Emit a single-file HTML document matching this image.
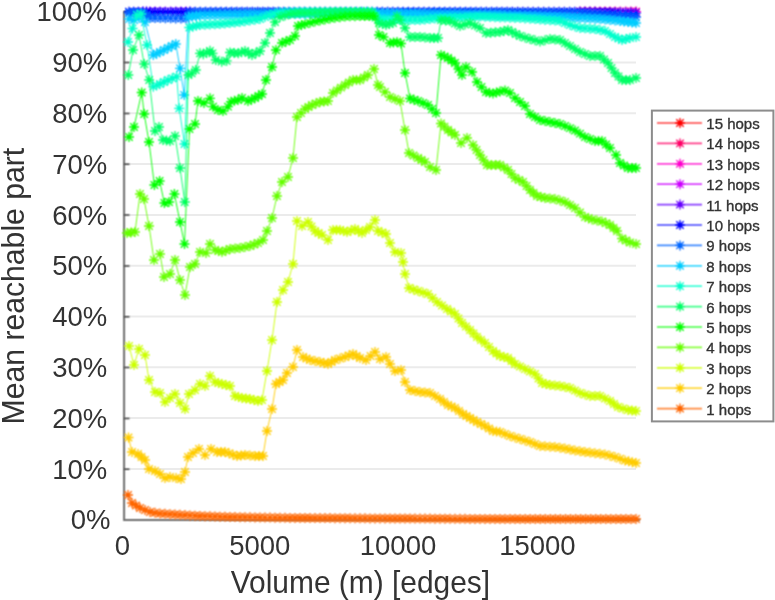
<!DOCTYPE html>
<html><head><meta charset="utf-8"><style>
html,body{margin:0;padding:0;background:#fff;overflow:hidden;}
svg{display:block;font-family:"Liberation Sans",Arial,sans-serif;}
</style></head><body>
<svg width="775" height="600" viewBox="0 0 775 600">
<rect width="775" height="600" fill="#fff"/>
<defs><filter id="bl" filterUnits="userSpaceOnUse" x="0" y="0" width="775" height="600"><feConvolveMatrix order="3" kernelMatrix="1 2 1 2 4 2 1 2 1" divisor="16" edgeMode="none"/></filter></defs>
<line x1="124" y1="11.7" x2="636" y2="11.7" stroke="#ebebeb" stroke-width="2"/>
<line x1="124" y1="62.5" x2="636" y2="62.5" stroke="#ebebeb" stroke-width="2"/>
<line x1="124" y1="113.3" x2="636" y2="113.3" stroke="#ebebeb" stroke-width="2"/>
<line x1="124" y1="164.1" x2="636" y2="164.1" stroke="#ebebeb" stroke-width="2"/>
<line x1="124" y1="214.9" x2="636" y2="214.9" stroke="#ebebeb" stroke-width="2"/>
<line x1="124" y1="265.7" x2="636" y2="265.7" stroke="#ebebeb" stroke-width="2"/>
<line x1="124" y1="316.5" x2="636" y2="316.5" stroke="#ebebeb" stroke-width="2"/>
<line x1="124" y1="367.3" x2="636" y2="367.3" stroke="#ebebeb" stroke-width="2"/>
<line x1="124" y1="418.1" x2="636" y2="418.1" stroke="#ebebeb" stroke-width="2"/>
<line x1="124" y1="468.9" x2="636" y2="468.9" stroke="#ebebeb" stroke-width="2"/>
<path d="M124.1 11V519.9H640" fill="none" stroke="#6e6e6e" stroke-width="2" filter="url(#bl)"/>
<path d="M124 11.8h5.5M124 62.6h5.5M124 113.4h5.5M124 164.3h5.5M124 215.1h5.5M124 265.9h5.5M124 316.7h5.5M124 367.5h5.5M124 418.4h5.5M124 469.2h5.5" stroke="#444" stroke-width="1.5" filter="url(#bl)"/>
<g filter="url(#bl)">
<path d="" stroke="#ff0000" stroke-width="1.3" fill="none"/>
<path d="" stroke="#ff0000" stroke-width="3.4" stroke-linecap="round" fill="none"/>
<polyline points="580,11.7 610,11.7 636,11.7" fill="none" stroke="#ff0066" stroke-width="0.9"/>
<path d="M575.0 11.7h10.0M580.0 6.7v10.0M576.3 8.0l7.4 7.4M576.3 15.4l7.4 -7.4M605.0 11.7h10.0M610.0 6.7v10.0M606.3 8.0l7.4 7.4M606.3 15.4l7.4 -7.4M631.0 11.7h10.0M636.0 6.7v10.0M632.3 8.0l7.4 7.4M632.3 15.4l7.4 -7.4M580.0 11.7h10.0M585.0 6.7v10.0M581.3 8.0l7.4 7.4M581.3 15.4l7.4 -7.4M585.0 11.7h10.0M590.0 6.7v10.0M586.3 8.0l7.4 7.4M586.3 15.4l7.4 -7.4M590.0 11.7h10.0M595.0 6.7v10.0M591.3 8.0l7.4 7.4M591.3 15.4l7.4 -7.4M595.0 11.7h10.0M600.0 6.7v10.0M596.3 8.0l7.4 7.4M596.3 15.4l7.4 -7.4M600.0 11.7h10.0M605.0 6.7v10.0M601.3 8.0l7.4 7.4M601.3 15.4l7.4 -7.4M610.2 11.7h10.0M615.2 6.7v10.0M611.5 8.0l7.4 7.4M611.5 15.4l7.4 -7.4M615.4 11.7h10.0M620.4 6.7v10.0M616.7 8.0l7.4 7.4M616.7 15.4l7.4 -7.4M620.6 11.7h10.0M625.6 6.7v10.0M621.9 8.0l7.4 7.4M621.9 15.4l7.4 -7.4M625.8 11.7h10.0M630.8 6.7v10.0M627.1 8.0l7.4 7.4M627.1 15.4l7.4 -7.4" stroke="#ff0066" stroke-width="1.3" fill="none"/>
<path d="M580.0 11.7h0.01M610.0 11.7h0.01M636.0 11.7h0.01M585.0 11.7h0.01M590.0 11.7h0.01M595.0 11.7h0.01M600.0 11.7h0.01M605.0 11.7h0.01M615.2 11.7h0.01M620.4 11.7h0.01M625.6 11.7h0.01M630.8 11.7h0.01" stroke="#ff0066" stroke-width="3.4" stroke-linecap="round" fill="none"/>
<polyline points="580,11.7 610,11.7 636,11.7" fill="none" stroke="#ff00cc" stroke-width="0.9"/>
<path d="M575.0 11.7h10.0M580.0 6.7v10.0M576.3 8.0l7.4 7.4M576.3 15.4l7.4 -7.4M605.0 11.7h10.0M610.0 6.7v10.0M606.3 8.0l7.4 7.4M606.3 15.4l7.4 -7.4M631.0 11.7h10.0M636.0 6.7v10.0M632.3 8.0l7.4 7.4M632.3 15.4l7.4 -7.4M580.0 11.7h10.0M585.0 6.7v10.0M581.3 8.0l7.4 7.4M581.3 15.4l7.4 -7.4M585.0 11.7h10.0M590.0 6.7v10.0M586.3 8.0l7.4 7.4M586.3 15.4l7.4 -7.4M590.0 11.7h10.0M595.0 6.7v10.0M591.3 8.0l7.4 7.4M591.3 15.4l7.4 -7.4M595.0 11.7h10.0M600.0 6.7v10.0M596.3 8.0l7.4 7.4M596.3 15.4l7.4 -7.4M600.0 11.7h10.0M605.0 6.7v10.0M601.3 8.0l7.4 7.4M601.3 15.4l7.4 -7.4M610.2 11.7h10.0M615.2 6.7v10.0M611.5 8.0l7.4 7.4M611.5 15.4l7.4 -7.4M615.4 11.7h10.0M620.4 6.7v10.0M616.7 8.0l7.4 7.4M616.7 15.4l7.4 -7.4M620.6 11.7h10.0M625.6 6.7v10.0M621.9 8.0l7.4 7.4M621.9 15.4l7.4 -7.4M625.8 11.7h10.0M630.8 6.7v10.0M627.1 8.0l7.4 7.4M627.1 15.4l7.4 -7.4" stroke="#ff00cc" stroke-width="1.3" fill="none"/>
<path d="M580.0 11.7h0.01M610.0 11.7h0.01M636.0 11.7h0.01M585.0 11.7h0.01M590.0 11.7h0.01M595.0 11.7h0.01M600.0 11.7h0.01M605.0 11.7h0.01M615.2 11.7h0.01M620.4 11.7h0.01M625.6 11.7h0.01M630.8 11.7h0.01" stroke="#ff00cc" stroke-width="3.4" stroke-linecap="round" fill="none"/>
<polyline points="143,11.7 150,11.7 186,11.7 190,11.7" fill="none" stroke="#cc00ff" stroke-width="0.9"/>
<path d="M138.0 11.7h10.0M143.0 6.7v10.0M139.3 8.0l7.4 7.4M139.3 15.4l7.4 -7.4M145.0 11.7h10.0M150.0 6.7v10.0M146.3 8.0l7.4 7.4M146.3 15.4l7.4 -7.4M181.0 11.7h10.0M186.0 6.7v10.0M182.3 8.0l7.4 7.4M182.3 15.4l7.4 -7.4M185.0 11.7h10.0M190.0 6.7v10.0M186.3 8.0l7.4 7.4M186.3 15.4l7.4 -7.4M141.5 11.7h10.0M146.5 6.7v10.0M142.8 8.0l7.4 7.4M142.8 15.4l7.4 -7.4M150.1 11.7h10.0M155.1 6.7v10.0M151.4 8.0l7.4 7.4M151.4 15.4l7.4 -7.4M155.3 11.7h10.0M160.3 6.7v10.0M156.6 8.0l7.4 7.4M156.6 15.4l7.4 -7.4M160.4 11.7h10.0M165.4 6.7v10.0M161.7 8.0l7.4 7.4M161.7 15.4l7.4 -7.4M165.6 11.7h10.0M170.6 6.7v10.0M166.9 8.0l7.4 7.4M166.9 15.4l7.4 -7.4M170.7 11.7h10.0M175.7 6.7v10.0M172.0 8.0l7.4 7.4M172.0 15.4l7.4 -7.4M175.9 11.7h10.0M180.9 6.7v10.0M177.2 8.0l7.4 7.4M177.2 15.4l7.4 -7.4" stroke="#cc00ff" stroke-width="1.3" fill="none"/>
<path d="M143.0 11.7h0.01M150.0 11.7h0.01M186.0 11.7h0.01M190.0 11.7h0.01M146.5 11.7h0.01M155.1 11.7h0.01M160.3 11.7h0.01M165.4 11.7h0.01M170.6 11.7h0.01M175.7 11.7h0.01M180.9 11.7h0.01" stroke="#cc00ff" stroke-width="3.4" stroke-linecap="round" fill="none"/>
<polyline points="143,11.7 150,11.7 186,11.7 190,11.7" fill="none" stroke="#6600ff" stroke-width="0.9"/>
<path d="M138.0 11.7h10.0M143.0 6.7v10.0M139.3 8.0l7.4 7.4M139.3 15.4l7.4 -7.4M145.0 11.7h10.0M150.0 6.7v10.0M146.3 8.0l7.4 7.4M146.3 15.4l7.4 -7.4M181.0 11.7h10.0M186.0 6.7v10.0M182.3 8.0l7.4 7.4M182.3 15.4l7.4 -7.4M185.0 11.7h10.0M190.0 6.7v10.0M186.3 8.0l7.4 7.4M186.3 15.4l7.4 -7.4M141.5 11.7h10.0M146.5 6.7v10.0M142.8 8.0l7.4 7.4M142.8 15.4l7.4 -7.4M150.1 11.7h10.0M155.1 6.7v10.0M151.4 8.0l7.4 7.4M151.4 15.4l7.4 -7.4M155.3 11.7h10.0M160.3 6.7v10.0M156.6 8.0l7.4 7.4M156.6 15.4l7.4 -7.4M160.4 11.7h10.0M165.4 6.7v10.0M161.7 8.0l7.4 7.4M161.7 15.4l7.4 -7.4M165.6 11.7h10.0M170.6 6.7v10.0M166.9 8.0l7.4 7.4M166.9 15.4l7.4 -7.4M170.7 11.7h10.0M175.7 6.7v10.0M172.0 8.0l7.4 7.4M172.0 15.4l7.4 -7.4M175.9 11.7h10.0M180.9 6.7v10.0M177.2 8.0l7.4 7.4M177.2 15.4l7.4 -7.4" stroke="#6600ff" stroke-width="1.3" fill="none"/>
<path d="M143.0 11.7h0.01M150.0 11.7h0.01M186.0 11.7h0.01M190.0 11.7h0.01M146.5 11.7h0.01M155.1 11.7h0.01M160.3 11.7h0.01M165.4 11.7h0.01M170.6 11.7h0.01M175.7 11.7h0.01M180.9 11.7h0.01" stroke="#6600ff" stroke-width="3.4" stroke-linecap="round" fill="none"/>
<polyline points="129,11.7 143,11.7 150,12 186,12 190,11.7 580,11.7 610,12 636,12.8" fill="none" stroke="#0000ff" stroke-width="0.9"/>
<path d="M124.0 11.7h10.0M129.0 6.7v10.0M125.3 8.0l7.4 7.4M125.3 15.4l7.4 -7.4M138.0 11.7h10.0M143.0 6.7v10.0M139.3 8.0l7.4 7.4M139.3 15.4l7.4 -7.4M145.0 12.0h10.0M150.0 7.0v10.0M146.3 8.3l7.4 7.4M146.3 15.7l7.4 -7.4M181.0 12.0h10.0M186.0 7.0v10.0M182.3 8.3l7.4 7.4M182.3 15.7l7.4 -7.4M185.0 11.7h10.0M190.0 6.7v10.0M186.3 8.0l7.4 7.4M186.3 15.4l7.4 -7.4M575.0 11.7h10.0M580.0 6.7v10.0M576.3 8.0l7.4 7.4M576.3 15.4l7.4 -7.4M605.0 12.0h10.0M610.0 7.0v10.0M606.3 8.3l7.4 7.4M606.3 15.7l7.4 -7.4M631.0 12.8h10.0M636.0 7.8v10.0M632.3 9.1l7.4 7.4M632.3 16.5l7.4 -7.4M128.7 11.7h10.0M133.7 6.7v10.0M130.0 8.0l7.4 7.4M130.0 15.4l7.4 -7.4M133.3 11.7h10.0M138.3 6.7v10.0M134.6 8.0l7.4 7.4M134.6 15.4l7.4 -7.4M141.5 11.8h10.0M146.5 6.8v10.0M142.8 8.1l7.4 7.4M142.8 15.6l7.4 -7.4M150.1 12.0h10.0M155.1 7.0v10.0M151.4 8.3l7.4 7.4M151.4 15.7l7.4 -7.4M155.3 12.0h10.0M160.3 7.0v10.0M156.6 8.3l7.4 7.4M156.6 15.7l7.4 -7.4M160.4 12.0h10.0M165.4 7.0v10.0M161.7 8.3l7.4 7.4M161.7 15.7l7.4 -7.4M165.6 12.0h10.0M170.6 7.0v10.0M166.9 8.3l7.4 7.4M166.9 15.7l7.4 -7.4M170.7 12.0h10.0M175.7 7.0v10.0M172.0 8.3l7.4 7.4M172.0 15.7l7.4 -7.4M175.9 12.0h10.0M180.9 7.0v10.0M177.2 8.3l7.4 7.4M177.2 15.7l7.4 -7.4M190.2 11.7h10.0M195.2 6.7v10.0M191.5 8.0l7.4 7.4M191.5 15.4l7.4 -7.4M195.4 11.7h10.0M200.4 6.7v10.0M196.7 8.0l7.4 7.4M196.7 15.4l7.4 -7.4M200.6 11.7h10.0M205.6 6.7v10.0M201.9 8.0l7.4 7.4M201.9 15.4l7.4 -7.4M205.8 11.7h10.0M210.8 6.7v10.0M207.1 8.0l7.4 7.4M207.1 15.4l7.4 -7.4M211.0 11.7h10.0M216.0 6.7v10.0M212.3 8.0l7.4 7.4M212.3 15.4l7.4 -7.4M216.2 11.7h10.0M221.2 6.7v10.0M217.5 8.0l7.4 7.4M217.5 15.4l7.4 -7.4M221.4 11.7h10.0M226.4 6.7v10.0M222.7 8.0l7.4 7.4M222.7 15.4l7.4 -7.4M226.6 11.7h10.0M231.6 6.7v10.0M227.9 8.0l7.4 7.4M227.9 15.4l7.4 -7.4M231.8 11.7h10.0M236.8 6.7v10.0M233.1 8.0l7.4 7.4M233.1 15.4l7.4 -7.4M237.0 11.7h10.0M242.0 6.7v10.0M238.3 8.0l7.4 7.4M238.3 15.4l7.4 -7.4M242.2 11.7h10.0M247.2 6.7v10.0M243.5 8.0l7.4 7.4M243.5 15.4l7.4 -7.4M247.4 11.7h10.0M252.4 6.7v10.0M248.7 8.0l7.4 7.4M248.7 15.4l7.4 -7.4M252.6 11.7h10.0M257.6 6.7v10.0M253.9 8.0l7.4 7.4M253.9 15.4l7.4 -7.4M257.8 11.7h10.0M262.8 6.7v10.0M259.1 8.0l7.4 7.4M259.1 15.4l7.4 -7.4M263.0 11.7h10.0M268.0 6.7v10.0M264.3 8.0l7.4 7.4M264.3 15.4l7.4 -7.4M268.2 11.7h10.0M273.2 6.7v10.0M269.5 8.0l7.4 7.4M269.5 15.4l7.4 -7.4M273.4 11.7h10.0M278.4 6.7v10.0M274.7 8.0l7.4 7.4M274.7 15.4l7.4 -7.4M278.6 11.7h10.0M283.6 6.7v10.0M279.9 8.0l7.4 7.4M279.9 15.4l7.4 -7.4M283.8 11.7h10.0M288.8 6.7v10.0M285.1 8.0l7.4 7.4M285.1 15.4l7.4 -7.4M289.0 11.7h10.0M294.0 6.7v10.0M290.3 8.0l7.4 7.4M290.3 15.4l7.4 -7.4M294.2 11.7h10.0M299.2 6.7v10.0M295.5 8.0l7.4 7.4M295.5 15.4l7.4 -7.4M299.4 11.7h10.0M304.4 6.7v10.0M300.7 8.0l7.4 7.4M300.7 15.4l7.4 -7.4M304.6 11.7h10.0M309.6 6.7v10.0M305.9 8.0l7.4 7.4M305.9 15.4l7.4 -7.4M309.8 11.7h10.0M314.8 6.7v10.0M311.1 8.0l7.4 7.4M311.1 15.4l7.4 -7.4M315.0 11.7h10.0M320.0 6.7v10.0M316.3 8.0l7.4 7.4M316.3 15.4l7.4 -7.4M320.2 11.7h10.0M325.2 6.7v10.0M321.5 8.0l7.4 7.4M321.5 15.4l7.4 -7.4M325.4 11.7h10.0M330.4 6.7v10.0M326.7 8.0l7.4 7.4M326.7 15.4l7.4 -7.4M330.6 11.7h10.0M335.6 6.7v10.0M331.9 8.0l7.4 7.4M331.9 15.4l7.4 -7.4M335.8 11.7h10.0M340.8 6.7v10.0M337.1 8.0l7.4 7.4M337.1 15.4l7.4 -7.4M341.0 11.7h10.0M346.0 6.7v10.0M342.3 8.0l7.4 7.4M342.3 15.4l7.4 -7.4M346.2 11.7h10.0M351.2 6.7v10.0M347.5 8.0l7.4 7.4M347.5 15.4l7.4 -7.4M351.4 11.7h10.0M356.4 6.7v10.0M352.7 8.0l7.4 7.4M352.7 15.4l7.4 -7.4M356.6 11.7h10.0M361.6 6.7v10.0M357.9 8.0l7.4 7.4M357.9 15.4l7.4 -7.4M361.8 11.7h10.0M366.8 6.7v10.0M363.1 8.0l7.4 7.4M363.1 15.4l7.4 -7.4M367.0 11.7h10.0M372.0 6.7v10.0M368.3 8.0l7.4 7.4M368.3 15.4l7.4 -7.4M372.2 11.7h10.0M377.2 6.7v10.0M373.5 8.0l7.4 7.4M373.5 15.4l7.4 -7.4M377.4 11.7h10.0M382.4 6.7v10.0M378.7 8.0l7.4 7.4M378.7 15.4l7.4 -7.4M382.6 11.7h10.0M387.6 6.7v10.0M383.9 8.0l7.4 7.4M383.9 15.4l7.4 -7.4M387.8 11.7h10.0M392.8 6.7v10.0M389.1 8.0l7.4 7.4M389.1 15.4l7.4 -7.4M393.0 11.7h10.0M398.0 6.7v10.0M394.3 8.0l7.4 7.4M394.3 15.4l7.4 -7.4M398.2 11.7h10.0M403.2 6.7v10.0M399.5 8.0l7.4 7.4M399.5 15.4l7.4 -7.4M403.4 11.7h10.0M408.4 6.7v10.0M404.7 8.0l7.4 7.4M404.7 15.4l7.4 -7.4M408.6 11.7h10.0M413.6 6.7v10.0M409.9 8.0l7.4 7.4M409.9 15.4l7.4 -7.4M413.8 11.7h10.0M418.8 6.7v10.0M415.1 8.0l7.4 7.4M415.1 15.4l7.4 -7.4M419.0 11.7h10.0M424.0 6.7v10.0M420.3 8.0l7.4 7.4M420.3 15.4l7.4 -7.4M424.2 11.7h10.0M429.2 6.7v10.0M425.5 8.0l7.4 7.4M425.5 15.4l7.4 -7.4M429.4 11.7h10.0M434.4 6.7v10.0M430.7 8.0l7.4 7.4M430.7 15.4l7.4 -7.4M434.6 11.7h10.0M439.6 6.7v10.0M435.9 8.0l7.4 7.4M435.9 15.4l7.4 -7.4M439.8 11.7h10.0M444.8 6.7v10.0M441.1 8.0l7.4 7.4M441.1 15.4l7.4 -7.4M445.0 11.7h10.0M450.0 6.7v10.0M446.3 8.0l7.4 7.4M446.3 15.4l7.4 -7.4M450.2 11.7h10.0M455.2 6.7v10.0M451.5 8.0l7.4 7.4M451.5 15.4l7.4 -7.4M455.4 11.7h10.0M460.4 6.7v10.0M456.7 8.0l7.4 7.4M456.7 15.4l7.4 -7.4M460.6 11.7h10.0M465.6 6.7v10.0M461.9 8.0l7.4 7.4M461.9 15.4l7.4 -7.4M465.8 11.7h10.0M470.8 6.7v10.0M467.1 8.0l7.4 7.4M467.1 15.4l7.4 -7.4M471.0 11.7h10.0M476.0 6.7v10.0M472.3 8.0l7.4 7.4M472.3 15.4l7.4 -7.4M476.2 11.7h10.0M481.2 6.7v10.0M477.5 8.0l7.4 7.4M477.5 15.4l7.4 -7.4M481.4 11.7h10.0M486.4 6.7v10.0M482.7 8.0l7.4 7.4M482.7 15.4l7.4 -7.4M486.6 11.7h10.0M491.6 6.7v10.0M487.9 8.0l7.4 7.4M487.9 15.4l7.4 -7.4M491.8 11.7h10.0M496.8 6.7v10.0M493.1 8.0l7.4 7.4M493.1 15.4l7.4 -7.4M497.0 11.7h10.0M502.0 6.7v10.0M498.3 8.0l7.4 7.4M498.3 15.4l7.4 -7.4M502.2 11.7h10.0M507.2 6.7v10.0M503.5 8.0l7.4 7.4M503.5 15.4l7.4 -7.4M507.4 11.7h10.0M512.4 6.7v10.0M508.7 8.0l7.4 7.4M508.7 15.4l7.4 -7.4M512.6 11.7h10.0M517.6 6.7v10.0M513.9 8.0l7.4 7.4M513.9 15.4l7.4 -7.4M517.8 11.7h10.0M522.8 6.7v10.0M519.1 8.0l7.4 7.4M519.1 15.4l7.4 -7.4M523.0 11.7h10.0M528.0 6.7v10.0M524.3 8.0l7.4 7.4M524.3 15.4l7.4 -7.4M528.2 11.7h10.0M533.2 6.7v10.0M529.5 8.0l7.4 7.4M529.5 15.4l7.4 -7.4M533.4 11.7h10.0M538.4 6.7v10.0M534.7 8.0l7.4 7.4M534.7 15.4l7.4 -7.4M538.6 11.7h10.0M543.6 6.7v10.0M539.9 8.0l7.4 7.4M539.9 15.4l7.4 -7.4M543.8 11.7h10.0M548.8 6.7v10.0M545.1 8.0l7.4 7.4M545.1 15.4l7.4 -7.4M549.0 11.7h10.0M554.0 6.7v10.0M550.3 8.0l7.4 7.4M550.3 15.4l7.4 -7.4M554.2 11.7h10.0M559.2 6.7v10.0M555.5 8.0l7.4 7.4M555.5 15.4l7.4 -7.4M559.4 11.7h10.0M564.4 6.7v10.0M560.7 8.0l7.4 7.4M560.7 15.4l7.4 -7.4M564.6 11.7h10.0M569.6 6.7v10.0M565.9 8.0l7.4 7.4M565.9 15.4l7.4 -7.4M569.8 11.7h10.0M574.8 6.7v10.0M571.1 8.0l7.4 7.4M571.1 15.4l7.4 -7.4M580.0 11.8h10.0M585.0 6.8v10.0M581.3 8.1l7.4 7.4M581.3 15.4l7.4 -7.4M585.0 11.8h10.0M590.0 6.8v10.0M586.3 8.1l7.4 7.4M586.3 15.5l7.4 -7.4M590.0 11.8h10.0M595.0 6.8v10.0M591.3 8.1l7.4 7.4M591.3 15.6l7.4 -7.4M595.0 11.9h10.0M600.0 6.9v10.0M596.3 8.2l7.4 7.4M596.3 15.6l7.4 -7.4M600.0 11.9h10.0M605.0 6.9v10.0M601.3 8.2l7.4 7.4M601.3 15.6l7.4 -7.4M610.2 12.2h10.0M615.2 7.2v10.0M611.5 8.5l7.4 7.4M611.5 15.9l7.4 -7.4M615.4 12.3h10.0M620.4 7.3v10.0M616.7 8.6l7.4 7.4M616.7 16.0l7.4 -7.4M620.6 12.5h10.0M625.6 7.5v10.0M621.9 8.8l7.4 7.4M621.9 16.2l7.4 -7.4M625.8 12.6h10.0M630.8 7.6v10.0M627.1 8.9l7.4 7.4M627.1 16.3l7.4 -7.4" stroke="#0000ff" stroke-width="1.3" fill="none"/>
<path d="M129.0 11.7h0.01M143.0 11.7h0.01M150.0 12.0h0.01M186.0 12.0h0.01M190.0 11.7h0.01M580.0 11.7h0.01M610.0 12.0h0.01M636.0 12.8h0.01M133.7 11.7h0.01M138.3 11.7h0.01M146.5 11.8h0.01M155.1 12.0h0.01M160.3 12.0h0.01M165.4 12.0h0.01M170.6 12.0h0.01M175.7 12.0h0.01M180.9 12.0h0.01M195.2 11.7h0.01M200.4 11.7h0.01M205.6 11.7h0.01M210.8 11.7h0.01M216.0 11.7h0.01M221.2 11.7h0.01M226.4 11.7h0.01M231.6 11.7h0.01M236.8 11.7h0.01M242.0 11.7h0.01M247.2 11.7h0.01M252.4 11.7h0.01M257.6 11.7h0.01M262.8 11.7h0.01M268.0 11.7h0.01M273.2 11.7h0.01M278.4 11.7h0.01M283.6 11.7h0.01M288.8 11.7h0.01M294.0 11.7h0.01M299.2 11.7h0.01M304.4 11.7h0.01M309.6 11.7h0.01M314.8 11.7h0.01M320.0 11.7h0.01M325.2 11.7h0.01M330.4 11.7h0.01M335.6 11.7h0.01M340.8 11.7h0.01M346.0 11.7h0.01M351.2 11.7h0.01M356.4 11.7h0.01M361.6 11.7h0.01M366.8 11.7h0.01M372.0 11.7h0.01M377.2 11.7h0.01M382.4 11.7h0.01M387.6 11.7h0.01M392.8 11.7h0.01M398.0 11.7h0.01M403.2 11.7h0.01M408.4 11.7h0.01M413.6 11.7h0.01M418.8 11.7h0.01M424.0 11.7h0.01M429.2 11.7h0.01M434.4 11.7h0.01M439.6 11.7h0.01M444.8 11.7h0.01M450.0 11.7h0.01M455.2 11.7h0.01M460.4 11.7h0.01M465.6 11.7h0.01M470.8 11.7h0.01M476.0 11.7h0.01M481.2 11.7h0.01M486.4 11.7h0.01M491.6 11.7h0.01M496.8 11.7h0.01M502.0 11.7h0.01M507.2 11.7h0.01M512.4 11.7h0.01M517.6 11.7h0.01M522.8 11.7h0.01M528.0 11.7h0.01M533.2 11.7h0.01M538.4 11.7h0.01M543.6 11.7h0.01M548.8 11.7h0.01M554.0 11.7h0.01M559.2 11.7h0.01M564.4 11.7h0.01M569.6 11.7h0.01M574.8 11.7h0.01M585.0 11.8h0.01M590.0 11.8h0.01M595.0 11.8h0.01M600.0 11.9h0.01M605.0 11.9h0.01M615.2 12.2h0.01M620.4 12.3h0.01M625.6 12.5h0.01M630.8 12.6h0.01" stroke="#0000ff" stroke-width="3.4" stroke-linecap="round" fill="none"/>
<polyline points="129,13 143,13 150,18 186,18.5 190,12.3 300,12.3 500,12.5 580,13.5 610,15.5 636,17" fill="none" stroke="#0066ff" stroke-width="0.9"/>
<path d="M124.0 13.0h10.0M129.0 8.0v10.0M125.3 9.3l7.4 7.4M125.3 16.7l7.4 -7.4M138.0 13.0h10.0M143.0 8.0v10.0M139.3 9.3l7.4 7.4M139.3 16.7l7.4 -7.4M145.0 18.0h10.0M150.0 13.0v10.0M146.3 14.3l7.4 7.4M146.3 21.7l7.4 -7.4M181.0 18.5h10.0M186.0 13.5v10.0M182.3 14.8l7.4 7.4M182.3 22.2l7.4 -7.4M185.0 12.3h10.0M190.0 7.3v10.0M186.3 8.6l7.4 7.4M186.3 16.0l7.4 -7.4M295.0 12.3h10.0M300.0 7.3v10.0M296.3 8.6l7.4 7.4M296.3 16.0l7.4 -7.4M495.0 12.5h10.0M500.0 7.5v10.0M496.3 8.8l7.4 7.4M496.3 16.2l7.4 -7.4M575.0 13.5h10.0M580.0 8.5v10.0M576.3 9.8l7.4 7.4M576.3 17.2l7.4 -7.4M605.0 15.5h10.0M610.0 10.5v10.0M606.3 11.8l7.4 7.4M606.3 19.2l7.4 -7.4M631.0 17.0h10.0M636.0 12.0v10.0M632.3 13.3l7.4 7.4M632.3 20.7l7.4 -7.4M128.7 13.0h10.0M133.7 8.0v10.0M130.0 9.3l7.4 7.4M130.0 16.7l7.4 -7.4M133.3 13.0h10.0M138.3 8.0v10.0M134.6 9.3l7.4 7.4M134.6 16.7l7.4 -7.4M141.5 15.5h10.0M146.5 10.5v10.0M142.8 11.8l7.4 7.4M142.8 19.2l7.4 -7.4M150.1 18.1h10.0M155.1 13.1v10.0M151.4 14.4l7.4 7.4M151.4 21.8l7.4 -7.4M155.3 18.1h10.0M160.3 13.1v10.0M156.6 14.4l7.4 7.4M156.6 21.8l7.4 -7.4M160.4 18.2h10.0M165.4 13.2v10.0M161.7 14.5l7.4 7.4M161.7 21.9l7.4 -7.4M165.6 18.3h10.0M170.6 13.3v10.0M166.9 14.6l7.4 7.4M166.9 22.0l7.4 -7.4M170.7 18.4h10.0M175.7 13.4v10.0M172.0 14.7l7.4 7.4M172.0 22.1l7.4 -7.4M175.9 18.4h10.0M180.9 13.4v10.0M177.2 14.7l7.4 7.4M177.2 22.1l7.4 -7.4M190.0 12.3h10.0M195.0 7.3v10.0M191.3 8.6l7.4 7.4M191.3 16.0l7.4 -7.4M195.0 12.3h10.0M200.0 7.3v10.0M196.3 8.6l7.4 7.4M196.3 16.0l7.4 -7.4M200.0 12.3h10.0M205.0 7.3v10.0M201.3 8.6l7.4 7.4M201.3 16.0l7.4 -7.4M205.0 12.3h10.0M210.0 7.3v10.0M206.3 8.6l7.4 7.4M206.3 16.0l7.4 -7.4M210.0 12.3h10.0M215.0 7.3v10.0M211.3 8.6l7.4 7.4M211.3 16.0l7.4 -7.4M215.0 12.3h10.0M220.0 7.3v10.0M216.3 8.6l7.4 7.4M216.3 16.0l7.4 -7.4M220.0 12.3h10.0M225.0 7.3v10.0M221.3 8.6l7.4 7.4M221.3 16.0l7.4 -7.4M225.0 12.3h10.0M230.0 7.3v10.0M226.3 8.6l7.4 7.4M226.3 16.0l7.4 -7.4M230.0 12.3h10.0M235.0 7.3v10.0M231.3 8.6l7.4 7.4M231.3 16.0l7.4 -7.4M235.0 12.3h10.0M240.0 7.3v10.0M236.3 8.6l7.4 7.4M236.3 16.0l7.4 -7.4M240.0 12.3h10.0M245.0 7.3v10.0M241.3 8.6l7.4 7.4M241.3 16.0l7.4 -7.4M245.0 12.3h10.0M250.0 7.3v10.0M246.3 8.6l7.4 7.4M246.3 16.0l7.4 -7.4M250.0 12.3h10.0M255.0 7.3v10.0M251.3 8.6l7.4 7.4M251.3 16.0l7.4 -7.4M255.0 12.3h10.0M260.0 7.3v10.0M256.3 8.6l7.4 7.4M256.3 16.0l7.4 -7.4M260.0 12.3h10.0M265.0 7.3v10.0M261.3 8.6l7.4 7.4M261.3 16.0l7.4 -7.4M265.0 12.3h10.0M270.0 7.3v10.0M266.3 8.6l7.4 7.4M266.3 16.0l7.4 -7.4M270.0 12.3h10.0M275.0 7.3v10.0M271.3 8.6l7.4 7.4M271.3 16.0l7.4 -7.4M275.0 12.3h10.0M280.0 7.3v10.0M276.3 8.6l7.4 7.4M276.3 16.0l7.4 -7.4M280.0 12.3h10.0M285.0 7.3v10.0M281.3 8.6l7.4 7.4M281.3 16.0l7.4 -7.4M285.0 12.3h10.0M290.0 7.3v10.0M286.3 8.6l7.4 7.4M286.3 16.0l7.4 -7.4M290.0 12.3h10.0M295.0 7.3v10.0M291.3 8.6l7.4 7.4M291.3 16.0l7.4 -7.4M300.1 12.3h10.0M305.1 7.3v10.0M301.4 8.6l7.4 7.4M301.4 16.0l7.4 -7.4M305.3 12.3h10.0M310.3 7.3v10.0M306.6 8.6l7.4 7.4M306.6 16.0l7.4 -7.4M310.4 12.3h10.0M315.4 7.3v10.0M311.7 8.6l7.4 7.4M311.7 16.0l7.4 -7.4M315.5 12.3h10.0M320.5 7.3v10.0M316.8 8.6l7.4 7.4M316.8 16.0l7.4 -7.4M320.6 12.3h10.0M325.6 7.3v10.0M321.9 8.6l7.4 7.4M321.9 16.0l7.4 -7.4M325.8 12.3h10.0M330.8 7.3v10.0M327.1 8.6l7.4 7.4M327.1 16.0l7.4 -7.4M330.9 12.3h10.0M335.9 7.3v10.0M332.2 8.6l7.4 7.4M332.2 16.0l7.4 -7.4M336.0 12.3h10.0M341.0 7.3v10.0M337.3 8.6l7.4 7.4M337.3 16.0l7.4 -7.4M341.2 12.3h10.0M346.2 7.3v10.0M342.5 8.6l7.4 7.4M342.5 16.0l7.4 -7.4M346.3 12.4h10.0M351.3 7.4v10.0M347.6 8.7l7.4 7.4M347.6 16.1l7.4 -7.4M351.4 12.4h10.0M356.4 7.4v10.0M352.7 8.7l7.4 7.4M352.7 16.1l7.4 -7.4M356.5 12.4h10.0M361.5 7.4v10.0M357.8 8.7l7.4 7.4M357.8 16.1l7.4 -7.4M361.7 12.4h10.0M366.7 7.4v10.0M363.0 8.7l7.4 7.4M363.0 16.1l7.4 -7.4M366.8 12.4h10.0M371.8 7.4v10.0M368.1 8.7l7.4 7.4M368.1 16.1l7.4 -7.4M371.9 12.4h10.0M376.9 7.4v10.0M373.2 8.7l7.4 7.4M373.2 16.1l7.4 -7.4M377.1 12.4h10.0M382.1 7.4v10.0M378.4 8.7l7.4 7.4M378.4 16.1l7.4 -7.4M382.2 12.4h10.0M387.2 7.4v10.0M383.5 8.7l7.4 7.4M383.5 16.1l7.4 -7.4M387.3 12.4h10.0M392.3 7.4v10.0M388.6 8.7l7.4 7.4M388.6 16.1l7.4 -7.4M392.4 12.4h10.0M397.4 7.4v10.0M393.7 8.7l7.4 7.4M393.7 16.1l7.4 -7.4M397.6 12.4h10.0M402.6 7.4v10.0M398.9 8.7l7.4 7.4M398.9 16.1l7.4 -7.4M402.7 12.4h10.0M407.7 7.4v10.0M404.0 8.7l7.4 7.4M404.0 16.1l7.4 -7.4M407.8 12.4h10.0M412.8 7.4v10.0M409.1 8.7l7.4 7.4M409.1 16.1l7.4 -7.4M412.9 12.4h10.0M417.9 7.4v10.0M414.2 8.7l7.4 7.4M414.2 16.1l7.4 -7.4M418.1 12.4h10.0M423.1 7.4v10.0M419.4 8.7l7.4 7.4M419.4 16.1l7.4 -7.4M423.2 12.4h10.0M428.2 7.4v10.0M424.5 8.7l7.4 7.4M424.5 16.1l7.4 -7.4M428.3 12.4h10.0M433.3 7.4v10.0M429.6 8.7l7.4 7.4M429.6 16.1l7.4 -7.4M433.5 12.4h10.0M438.5 7.4v10.0M434.8 8.7l7.4 7.4M434.8 16.1l7.4 -7.4M438.6 12.4h10.0M443.6 7.4v10.0M439.9 8.7l7.4 7.4M439.9 16.1l7.4 -7.4M443.7 12.4h10.0M448.7 7.4v10.0M445.0 8.7l7.4 7.4M445.0 16.1l7.4 -7.4M448.8 12.5h10.0M453.8 7.5v10.0M450.1 8.8l7.4 7.4M450.1 16.2l7.4 -7.4M454.0 12.5h10.0M459.0 7.5v10.0M455.3 8.8l7.4 7.4M455.3 16.2l7.4 -7.4M459.1 12.5h10.0M464.1 7.5v10.0M460.4 8.8l7.4 7.4M460.4 16.2l7.4 -7.4M464.2 12.5h10.0M469.2 7.5v10.0M465.5 8.8l7.4 7.4M465.5 16.2l7.4 -7.4M469.4 12.5h10.0M474.4 7.5v10.0M470.7 8.8l7.4 7.4M470.7 16.2l7.4 -7.4M474.5 12.5h10.0M479.5 7.5v10.0M475.8 8.8l7.4 7.4M475.8 16.2l7.4 -7.4M479.6 12.5h10.0M484.6 7.5v10.0M480.9 8.8l7.4 7.4M480.9 16.2l7.4 -7.4M484.7 12.5h10.0M489.7 7.5v10.0M486.0 8.8l7.4 7.4M486.0 16.2l7.4 -7.4M489.9 12.5h10.0M494.9 7.5v10.0M491.2 8.8l7.4 7.4M491.2 16.2l7.4 -7.4M500.0 12.6h10.0M505.0 7.6v10.0M501.3 8.9l7.4 7.4M501.3 16.3l7.4 -7.4M505.0 12.6h10.0M510.0 7.6v10.0M506.3 8.9l7.4 7.4M506.3 16.3l7.4 -7.4M510.0 12.7h10.0M515.0 7.7v10.0M511.3 9.0l7.4 7.4M511.3 16.4l7.4 -7.4M515.0 12.8h10.0M520.0 7.8v10.0M516.3 9.1l7.4 7.4M516.3 16.4l7.4 -7.4M520.0 12.8h10.0M525.0 7.8v10.0M521.3 9.1l7.4 7.4M521.3 16.5l7.4 -7.4M525.0 12.9h10.0M530.0 7.9v10.0M526.3 9.2l7.4 7.4M526.3 16.6l7.4 -7.4M530.0 12.9h10.0M535.0 7.9v10.0M531.3 9.2l7.4 7.4M531.3 16.6l7.4 -7.4M535.0 13.0h10.0M540.0 8.0v10.0M536.3 9.3l7.4 7.4M536.3 16.7l7.4 -7.4M540.0 13.1h10.0M545.0 8.1v10.0M541.3 9.4l7.4 7.4M541.3 16.8l7.4 -7.4M545.0 13.1h10.0M550.0 8.1v10.0M546.3 9.4l7.4 7.4M546.3 16.8l7.4 -7.4M550.0 13.2h10.0M555.0 8.2v10.0M551.3 9.5l7.4 7.4M551.3 16.9l7.4 -7.4M555.0 13.2h10.0M560.0 8.2v10.0M556.3 9.6l7.4 7.4M556.3 16.9l7.4 -7.4M560.0 13.3h10.0M565.0 8.3v10.0M561.3 9.6l7.4 7.4M561.3 17.0l7.4 -7.4M565.0 13.4h10.0M570.0 8.4v10.0M566.3 9.7l7.4 7.4M566.3 17.1l7.4 -7.4M570.0 13.4h10.0M575.0 8.4v10.0M571.3 9.7l7.4 7.4M571.3 17.1l7.4 -7.4M580.0 13.8h10.0M585.0 8.8v10.0M581.3 10.1l7.4 7.4M581.3 17.5l7.4 -7.4M585.0 14.2h10.0M590.0 9.2v10.0M586.3 10.5l7.4 7.4M586.3 17.9l7.4 -7.4M590.0 14.5h10.0M595.0 9.5v10.0M591.3 10.8l7.4 7.4M591.3 18.2l7.4 -7.4M595.0 14.8h10.0M600.0 9.8v10.0M596.3 11.1l7.4 7.4M596.3 18.5l7.4 -7.4M600.0 15.2h10.0M605.0 10.2v10.0M601.3 11.5l7.4 7.4M601.3 18.9l7.4 -7.4M610.2 15.8h10.0M615.2 10.8v10.0M611.5 12.1l7.4 7.4M611.5 19.5l7.4 -7.4M615.4 16.1h10.0M620.4 11.1v10.0M616.7 12.4l7.4 7.4M616.7 19.8l7.4 -7.4M620.6 16.4h10.0M625.6 11.4v10.0M621.9 12.7l7.4 7.4M621.9 20.1l7.4 -7.4M625.8 16.7h10.0M630.8 11.7v10.0M627.1 13.0l7.4 7.4M627.1 20.4l7.4 -7.4" stroke="#0066ff" stroke-width="1.3" fill="none"/>
<path d="M129.0 13.0h0.01M143.0 13.0h0.01M150.0 18.0h0.01M186.0 18.5h0.01M190.0 12.3h0.01M300.0 12.3h0.01M500.0 12.5h0.01M580.0 13.5h0.01M610.0 15.5h0.01M636.0 17.0h0.01M133.7 13.0h0.01M138.3 13.0h0.01M146.5 15.5h0.01M155.1 18.1h0.01M160.3 18.1h0.01M165.4 18.2h0.01M170.6 18.3h0.01M175.7 18.4h0.01M180.9 18.4h0.01M195.0 12.3h0.01M200.0 12.3h0.01M205.0 12.3h0.01M210.0 12.3h0.01M215.0 12.3h0.01M220.0 12.3h0.01M225.0 12.3h0.01M230.0 12.3h0.01M235.0 12.3h0.01M240.0 12.3h0.01M245.0 12.3h0.01M250.0 12.3h0.01M255.0 12.3h0.01M260.0 12.3h0.01M265.0 12.3h0.01M270.0 12.3h0.01M275.0 12.3h0.01M280.0 12.3h0.01M285.0 12.3h0.01M290.0 12.3h0.01M295.0 12.3h0.01M305.1 12.3h0.01M310.3 12.3h0.01M315.4 12.3h0.01M320.5 12.3h0.01M325.6 12.3h0.01M330.8 12.3h0.01M335.9 12.3h0.01M341.0 12.3h0.01M346.2 12.3h0.01M351.3 12.4h0.01M356.4 12.4h0.01M361.5 12.4h0.01M366.7 12.4h0.01M371.8 12.4h0.01M376.9 12.4h0.01M382.1 12.4h0.01M387.2 12.4h0.01M392.3 12.4h0.01M397.4 12.4h0.01M402.6 12.4h0.01M407.7 12.4h0.01M412.8 12.4h0.01M417.9 12.4h0.01M423.1 12.4h0.01M428.2 12.4h0.01M433.3 12.4h0.01M438.5 12.4h0.01M443.6 12.4h0.01M448.7 12.4h0.01M453.8 12.5h0.01M459.0 12.5h0.01M464.1 12.5h0.01M469.2 12.5h0.01M474.4 12.5h0.01M479.5 12.5h0.01M484.6 12.5h0.01M489.7 12.5h0.01M494.9 12.5h0.01M505.0 12.6h0.01M510.0 12.6h0.01M515.0 12.7h0.01M520.0 12.8h0.01M525.0 12.8h0.01M530.0 12.9h0.01M535.0 12.9h0.01M540.0 13.0h0.01M545.0 13.1h0.01M550.0 13.1h0.01M555.0 13.2h0.01M560.0 13.2h0.01M565.0 13.3h0.01M570.0 13.4h0.01M575.0 13.4h0.01M585.0 13.8h0.01M590.0 14.2h0.01M595.0 14.5h0.01M600.0 14.8h0.01M605.0 15.2h0.01M615.2 15.8h0.01M620.4 16.1h0.01M625.6 16.4h0.01M630.8 16.7h0.01" stroke="#0066ff" stroke-width="3.4" stroke-linecap="round" fill="none"/>
<polyline points="129,19 134,20 139,18 145,22 153.3,55 160,52 168,48 175.8,44 180,68.3 184.2,95 188.5,17 200,15.5 250,14.5 300,14 350,13.5 378,13.5 420,14 450,14.5 500,15 550,16.5 600,19 620,21 636,23" fill="none" stroke="#00ccff" stroke-width="0.9"/>
<path d="M124.0 19.0h10.0M129.0 14.0v10.0M125.3 15.3l7.4 7.4M125.3 22.7l7.4 -7.4M129.0 20.0h10.0M134.0 15.0v10.0M130.3 16.3l7.4 7.4M130.3 23.7l7.4 -7.4M134.0 18.0h10.0M139.0 13.0v10.0M135.3 14.3l7.4 7.4M135.3 21.7l7.4 -7.4M140.0 22.0h10.0M145.0 17.0v10.0M141.3 18.3l7.4 7.4M141.3 25.7l7.4 -7.4M148.3 55.0h10.0M153.3 50.0v10.0M149.6 51.3l7.4 7.4M149.6 58.7l7.4 -7.4M155.0 52.0h10.0M160.0 47.0v10.0M156.3 48.3l7.4 7.4M156.3 55.7l7.4 -7.4M163.0 48.0h10.0M168.0 43.0v10.0M164.3 44.3l7.4 7.4M164.3 51.7l7.4 -7.4M170.8 44.0h10.0M175.8 39.0v10.0M172.1 40.3l7.4 7.4M172.1 47.7l7.4 -7.4M175.0 68.3h10.0M180.0 63.3v10.0M176.3 64.6l7.4 7.4M176.3 72.0l7.4 -7.4M179.2 95.0h10.0M184.2 90.0v10.0M180.5 91.3l7.4 7.4M180.5 98.7l7.4 -7.4M183.5 17.0h10.0M188.5 12.0v10.0M184.8 13.3l7.4 7.4M184.8 20.7l7.4 -7.4M195.0 15.5h10.0M200.0 10.5v10.0M196.3 11.8l7.4 7.4M196.3 19.2l7.4 -7.4M245.0 14.5h10.0M250.0 9.5v10.0M246.3 10.8l7.4 7.4M246.3 18.2l7.4 -7.4M295.0 14.0h10.0M300.0 9.0v10.0M296.3 10.3l7.4 7.4M296.3 17.7l7.4 -7.4M345.0 13.5h10.0M350.0 8.5v10.0M346.3 9.8l7.4 7.4M346.3 17.2l7.4 -7.4M373.0 13.5h10.0M378.0 8.5v10.0M374.3 9.8l7.4 7.4M374.3 17.2l7.4 -7.4M415.0 14.0h10.0M420.0 9.0v10.0M416.3 10.3l7.4 7.4M416.3 17.7l7.4 -7.4M445.0 14.5h10.0M450.0 9.5v10.0M446.3 10.8l7.4 7.4M446.3 18.2l7.4 -7.4M495.0 15.0h10.0M500.0 10.0v10.0M496.3 11.3l7.4 7.4M496.3 18.7l7.4 -7.4M545.0 16.5h10.0M550.0 11.5v10.0M546.3 12.8l7.4 7.4M546.3 20.2l7.4 -7.4M595.0 19.0h10.0M600.0 14.0v10.0M596.3 15.3l7.4 7.4M596.3 22.7l7.4 -7.4M615.0 21.0h10.0M620.0 16.0v10.0M616.3 17.3l7.4 7.4M616.3 24.7l7.4 -7.4M631.0 23.0h10.0M636.0 18.0v10.0M632.3 19.3l7.4 7.4M632.3 26.7l7.4 -7.4M151.7 53.5h10.0M156.7 48.5v10.0M153.0 49.8l7.4 7.4M153.0 57.2l7.4 -7.4M159.0 50.0h10.0M164.0 45.0v10.0M160.3 46.3l7.4 7.4M160.3 53.7l7.4 -7.4M166.9 46.0h10.0M171.9 41.0v10.0M168.2 42.3l7.4 7.4M168.2 49.7l7.4 -7.4M187.3 16.5h10.0M192.3 11.5v10.0M188.6 12.8l7.4 7.4M188.6 20.2l7.4 -7.4M191.2 16.0h10.0M196.2 11.0v10.0M192.5 12.3l7.4 7.4M192.5 19.7l7.4 -7.4M200.0 15.4h10.0M205.0 10.4v10.0M201.3 11.7l7.4 7.4M201.3 19.1l7.4 -7.4M205.0 15.3h10.0M210.0 10.3v10.0M206.3 11.6l7.4 7.4M206.3 19.0l7.4 -7.4M210.0 15.2h10.0M215.0 10.2v10.0M211.3 11.5l7.4 7.4M211.3 18.9l7.4 -7.4M215.0 15.1h10.0M220.0 10.1v10.0M216.3 11.4l7.4 7.4M216.3 18.8l7.4 -7.4M220.0 15.0h10.0M225.0 10.0v10.0M221.3 11.3l7.4 7.4M221.3 18.7l7.4 -7.4M225.0 14.9h10.0M230.0 9.9v10.0M226.3 11.2l7.4 7.4M226.3 18.6l7.4 -7.4M230.0 14.8h10.0M235.0 9.8v10.0M231.3 11.1l7.4 7.4M231.3 18.5l7.4 -7.4M235.0 14.7h10.0M240.0 9.7v10.0M236.3 11.0l7.4 7.4M236.3 18.4l7.4 -7.4M240.0 14.6h10.0M245.0 9.6v10.0M241.3 10.9l7.4 7.4M241.3 18.3l7.4 -7.4M250.0 14.4h10.0M255.0 9.4v10.0M251.3 10.8l7.4 7.4M251.3 18.1l7.4 -7.4M255.0 14.4h10.0M260.0 9.4v10.0M256.3 10.7l7.4 7.4M256.3 18.1l7.4 -7.4M260.0 14.3h10.0M265.0 9.3v10.0M261.3 10.6l7.4 7.4M261.3 18.1l7.4 -7.4M265.0 14.3h10.0M270.0 9.3v10.0M266.3 10.6l7.4 7.4M266.3 18.0l7.4 -7.4M270.0 14.2h10.0M275.0 9.2v10.0M271.3 10.6l7.4 7.4M271.3 17.9l7.4 -7.4M275.0 14.2h10.0M280.0 9.2v10.0M276.3 10.5l7.4 7.4M276.3 17.9l7.4 -7.4M280.0 14.2h10.0M285.0 9.2v10.0M281.3 10.4l7.4 7.4M281.3 17.9l7.4 -7.4M285.0 14.1h10.0M290.0 9.1v10.0M286.3 10.4l7.4 7.4M286.3 17.8l7.4 -7.4M290.0 14.1h10.0M295.0 9.1v10.0M291.3 10.4l7.4 7.4M291.3 17.8l7.4 -7.4M300.0 13.9h10.0M305.0 8.9v10.0M301.3 10.2l7.4 7.4M301.3 17.6l7.4 -7.4M305.0 13.9h10.0M310.0 8.9v10.0M306.3 10.2l7.4 7.4M306.3 17.6l7.4 -7.4M310.0 13.8h10.0M315.0 8.8v10.0M311.3 10.1l7.4 7.4M311.3 17.6l7.4 -7.4M315.0 13.8h10.0M320.0 8.8v10.0M316.3 10.1l7.4 7.4M316.3 17.5l7.4 -7.4M320.0 13.8h10.0M325.0 8.8v10.0M321.3 10.1l7.4 7.4M321.3 17.4l7.4 -7.4M325.0 13.7h10.0M330.0 8.7v10.0M326.3 10.0l7.4 7.4M326.3 17.4l7.4 -7.4M330.0 13.7h10.0M335.0 8.7v10.0M331.3 9.9l7.4 7.4M331.3 17.4l7.4 -7.4M335.0 13.6h10.0M340.0 8.6v10.0M336.3 9.9l7.4 7.4M336.3 17.3l7.4 -7.4M340.0 13.6h10.0M345.0 8.6v10.0M341.3 9.9l7.4 7.4M341.3 17.2l7.4 -7.4M349.7 13.5h10.0M354.7 8.5v10.0M351.0 9.8l7.4 7.4M351.0 17.2l7.4 -7.4M354.3 13.5h10.0M359.3 8.5v10.0M355.6 9.8l7.4 7.4M355.6 17.2l7.4 -7.4M359.0 13.5h10.0M364.0 8.5v10.0M360.3 9.8l7.4 7.4M360.3 17.2l7.4 -7.4M363.7 13.5h10.0M368.7 8.5v10.0M365.0 9.8l7.4 7.4M365.0 17.2l7.4 -7.4M368.3 13.5h10.0M373.3 8.5v10.0M369.6 9.8l7.4 7.4M369.6 17.2l7.4 -7.4M377.7 13.6h10.0M382.7 8.6v10.0M379.0 9.9l7.4 7.4M379.0 17.3l7.4 -7.4M382.3 13.6h10.0M387.3 8.6v10.0M383.6 9.9l7.4 7.4M383.6 17.3l7.4 -7.4M387.0 13.7h10.0M392.0 8.7v10.0M388.3 10.0l7.4 7.4M388.3 17.4l7.4 -7.4M391.7 13.7h10.0M396.7 8.7v10.0M393.0 10.0l7.4 7.4M393.0 17.4l7.4 -7.4M396.3 13.8h10.0M401.3 8.8v10.0M397.6 10.1l7.4 7.4M397.6 17.5l7.4 -7.4M401.0 13.8h10.0M406.0 8.8v10.0M402.3 10.1l7.4 7.4M402.3 17.5l7.4 -7.4M405.7 13.9h10.0M410.7 8.9v10.0M407.0 10.2l7.4 7.4M407.0 17.6l7.4 -7.4M410.3 13.9h10.0M415.3 8.9v10.0M411.6 10.2l7.4 7.4M411.6 17.6l7.4 -7.4M420.0 14.1h10.0M425.0 9.1v10.0M421.3 10.4l7.4 7.4M421.3 17.8l7.4 -7.4M425.0 14.2h10.0M430.0 9.2v10.0M426.3 10.5l7.4 7.4M426.3 17.9l7.4 -7.4M430.0 14.2h10.0M435.0 9.2v10.0M431.3 10.6l7.4 7.4M431.3 17.9l7.4 -7.4M435.0 14.3h10.0M440.0 9.3v10.0M436.3 10.6l7.4 7.4M436.3 18.0l7.4 -7.4M440.0 14.4h10.0M445.0 9.4v10.0M441.3 10.7l7.4 7.4M441.3 18.1l7.4 -7.4M450.0 14.6h10.0M455.0 9.6v10.0M451.3 10.9l7.4 7.4M451.3 18.2l7.4 -7.4M455.0 14.6h10.0M460.0 9.6v10.0M456.3 10.9l7.4 7.4M456.3 18.3l7.4 -7.4M460.0 14.7h10.0M465.0 9.7v10.0M461.3 10.9l7.4 7.4M461.3 18.4l7.4 -7.4M465.0 14.7h10.0M470.0 9.7v10.0M466.3 11.0l7.4 7.4M466.3 18.4l7.4 -7.4M470.0 14.8h10.0M475.0 9.8v10.0M471.3 11.1l7.4 7.4M471.3 18.4l7.4 -7.4M475.0 14.8h10.0M480.0 9.8v10.0M476.3 11.1l7.4 7.4M476.3 18.5l7.4 -7.4M480.0 14.8h10.0M485.0 9.8v10.0M481.3 11.1l7.4 7.4M481.3 18.6l7.4 -7.4M485.0 14.9h10.0M490.0 9.9v10.0M486.3 11.2l7.4 7.4M486.3 18.6l7.4 -7.4M490.0 14.9h10.0M495.0 9.9v10.0M491.3 11.2l7.4 7.4M491.3 18.6l7.4 -7.4M500.0 15.2h10.0M505.0 10.2v10.0M501.3 11.4l7.4 7.4M501.3 18.9l7.4 -7.4M505.0 15.3h10.0M510.0 10.3v10.0M506.3 11.6l7.4 7.4M506.3 19.0l7.4 -7.4M510.0 15.4h10.0M515.0 10.4v10.0M511.3 11.8l7.4 7.4M511.3 19.1l7.4 -7.4M515.0 15.6h10.0M520.0 10.6v10.0M516.3 11.9l7.4 7.4M516.3 19.3l7.4 -7.4M520.0 15.8h10.0M525.0 10.8v10.0M521.3 12.1l7.4 7.4M521.3 19.4l7.4 -7.4M525.0 15.9h10.0M530.0 10.9v10.0M526.3 12.2l7.4 7.4M526.3 19.6l7.4 -7.4M530.0 16.1h10.0M535.0 11.1v10.0M531.3 12.4l7.4 7.4M531.3 19.8l7.4 -7.4M535.0 16.2h10.0M540.0 11.2v10.0M536.3 12.5l7.4 7.4M536.3 19.9l7.4 -7.4M540.0 16.4h10.0M545.0 11.4v10.0M541.3 12.7l7.4 7.4M541.3 20.1l7.4 -7.4M550.0 16.8h10.0M555.0 11.8v10.0M551.3 13.1l7.4 7.4M551.3 20.4l7.4 -7.4M555.0 17.0h10.0M560.0 12.0v10.0M556.3 13.3l7.4 7.4M556.3 20.7l7.4 -7.4M560.0 17.2h10.0M565.0 12.2v10.0M561.3 13.6l7.4 7.4M561.3 20.9l7.4 -7.4M565.0 17.5h10.0M570.0 12.5v10.0M566.3 13.8l7.4 7.4M566.3 21.2l7.4 -7.4M570.0 17.8h10.0M575.0 12.8v10.0M571.3 14.1l7.4 7.4M571.3 21.4l7.4 -7.4M575.0 18.0h10.0M580.0 13.0v10.0M576.3 14.3l7.4 7.4M576.3 21.7l7.4 -7.4M580.0 18.2h10.0M585.0 13.2v10.0M581.3 14.6l7.4 7.4M581.3 21.9l7.4 -7.4M585.0 18.5h10.0M590.0 13.5v10.0M586.3 14.8l7.4 7.4M586.3 22.2l7.4 -7.4M590.0 18.8h10.0M595.0 13.8v10.0M591.3 15.1l7.4 7.4M591.3 22.4l7.4 -7.4M600.0 19.5h10.0M605.0 14.5v10.0M601.3 15.8l7.4 7.4M601.3 23.2l7.4 -7.4M605.0 20.0h10.0M610.0 15.0v10.0M606.3 16.3l7.4 7.4M606.3 23.7l7.4 -7.4M610.0 20.5h10.0M615.0 15.5v10.0M611.3 16.8l7.4 7.4M611.3 24.2l7.4 -7.4M619.0 21.5h10.0M624.0 16.5v10.0M620.3 17.8l7.4 7.4M620.3 25.2l7.4 -7.4M623.0 22.0h10.0M628.0 17.0v10.0M624.3 18.3l7.4 7.4M624.3 25.7l7.4 -7.4M627.0 22.5h10.0M632.0 17.5v10.0M628.3 18.8l7.4 7.4M628.3 26.2l7.4 -7.4" stroke="#00ccff" stroke-width="1.3" fill="none"/>
<path d="M129.0 19.0h0.01M134.0 20.0h0.01M139.0 18.0h0.01M145.0 22.0h0.01M153.3 55.0h0.01M160.0 52.0h0.01M168.0 48.0h0.01M175.8 44.0h0.01M180.0 68.3h0.01M184.2 95.0h0.01M188.5 17.0h0.01M200.0 15.5h0.01M250.0 14.5h0.01M300.0 14.0h0.01M350.0 13.5h0.01M378.0 13.5h0.01M420.0 14.0h0.01M450.0 14.5h0.01M500.0 15.0h0.01M550.0 16.5h0.01M600.0 19.0h0.01M620.0 21.0h0.01M636.0 23.0h0.01M156.7 53.5h0.01M164.0 50.0h0.01M171.9 46.0h0.01M192.3 16.5h0.01M196.2 16.0h0.01M205.0 15.4h0.01M210.0 15.3h0.01M215.0 15.2h0.01M220.0 15.1h0.01M225.0 15.0h0.01M230.0 14.9h0.01M235.0 14.8h0.01M240.0 14.7h0.01M245.0 14.6h0.01M255.0 14.4h0.01M260.0 14.4h0.01M265.0 14.3h0.01M270.0 14.3h0.01M275.0 14.2h0.01M280.0 14.2h0.01M285.0 14.2h0.01M290.0 14.1h0.01M295.0 14.1h0.01M305.0 13.9h0.01M310.0 13.9h0.01M315.0 13.8h0.01M320.0 13.8h0.01M325.0 13.8h0.01M330.0 13.7h0.01M335.0 13.7h0.01M340.0 13.6h0.01M345.0 13.6h0.01M354.7 13.5h0.01M359.3 13.5h0.01M364.0 13.5h0.01M368.7 13.5h0.01M373.3 13.5h0.01M382.7 13.6h0.01M387.3 13.6h0.01M392.0 13.7h0.01M396.7 13.7h0.01M401.3 13.8h0.01M406.0 13.8h0.01M410.7 13.9h0.01M415.3 13.9h0.01M425.0 14.1h0.01M430.0 14.2h0.01M435.0 14.2h0.01M440.0 14.3h0.01M445.0 14.4h0.01M455.0 14.6h0.01M460.0 14.6h0.01M465.0 14.7h0.01M470.0 14.7h0.01M475.0 14.8h0.01M480.0 14.8h0.01M485.0 14.8h0.01M490.0 14.9h0.01M495.0 14.9h0.01M505.0 15.2h0.01M510.0 15.3h0.01M515.0 15.4h0.01M520.0 15.6h0.01M525.0 15.8h0.01M530.0 15.9h0.01M535.0 16.1h0.01M540.0 16.2h0.01M545.0 16.4h0.01M555.0 16.8h0.01M560.0 17.0h0.01M565.0 17.2h0.01M570.0 17.5h0.01M575.0 17.8h0.01M580.0 18.0h0.01M585.0 18.2h0.01M590.0 18.5h0.01M595.0 18.8h0.01M605.0 19.5h0.01M610.0 20.0h0.01M615.0 20.5h0.01M624.0 21.5h0.01M628.0 22.0h0.01M632.0 22.5h0.01" stroke="#00ccff" stroke-width="3.4" stroke-linecap="round" fill="none"/>
<polyline points="128,42 137,15 141,14 147,45 153.3,86.7 160,84 168,80 176.7,76.7 179.2,108.3 184.5,144 189.3,27.5 200,25 220,24 240,22 260,19 270,15 280,12.5 300,11.7 330,11.7 360,11.7 372,11.7 380,19 400,20 420,20 440,18 460,17.5 480,16.5 500,17.5 520,18 540,19.5 560,21 570,25 580,28 595,29 605,31 615,37 622,40 630,38 636,37" fill="none" stroke="#00ffcc" stroke-width="0.9"/>
<path d="M123.0 42.0h10.0M128.0 37.0v10.0M124.3 38.3l7.4 7.4M124.3 45.7l7.4 -7.4M132.0 15.0h10.0M137.0 10.0v10.0M133.3 11.3l7.4 7.4M133.3 18.7l7.4 -7.4M136.0 14.0h10.0M141.0 9.0v10.0M137.3 10.3l7.4 7.4M137.3 17.7l7.4 -7.4M142.0 45.0h10.0M147.0 40.0v10.0M143.3 41.3l7.4 7.4M143.3 48.7l7.4 -7.4M148.3 86.7h10.0M153.3 81.7v10.0M149.6 83.0l7.4 7.4M149.6 90.4l7.4 -7.4M155.0 84.0h10.0M160.0 79.0v10.0M156.3 80.3l7.4 7.4M156.3 87.7l7.4 -7.4M163.0 80.0h10.0M168.0 75.0v10.0M164.3 76.3l7.4 7.4M164.3 83.7l7.4 -7.4M171.7 76.7h10.0M176.7 71.7v10.0M173.0 73.0l7.4 7.4M173.0 80.4l7.4 -7.4M174.2 108.3h10.0M179.2 103.3v10.0M175.5 104.6l7.4 7.4M175.5 112.0l7.4 -7.4M179.5 144.0h10.0M184.5 139.0v10.0M180.8 140.3l7.4 7.4M180.8 147.7l7.4 -7.4M184.3 27.5h10.0M189.3 22.5v10.0M185.6 23.8l7.4 7.4M185.6 31.2l7.4 -7.4M195.0 25.0h10.0M200.0 20.0v10.0M196.3 21.3l7.4 7.4M196.3 28.7l7.4 -7.4M215.0 24.0h10.0M220.0 19.0v10.0M216.3 20.3l7.4 7.4M216.3 27.7l7.4 -7.4M235.0 22.0h10.0M240.0 17.0v10.0M236.3 18.3l7.4 7.4M236.3 25.7l7.4 -7.4M255.0 19.0h10.0M260.0 14.0v10.0M256.3 15.3l7.4 7.4M256.3 22.7l7.4 -7.4M265.0 15.0h10.0M270.0 10.0v10.0M266.3 11.3l7.4 7.4M266.3 18.7l7.4 -7.4M275.0 12.5h10.0M280.0 7.5v10.0M276.3 8.8l7.4 7.4M276.3 16.2l7.4 -7.4M295.0 11.7h10.0M300.0 6.7v10.0M296.3 8.0l7.4 7.4M296.3 15.4l7.4 -7.4M325.0 11.7h10.0M330.0 6.7v10.0M326.3 8.0l7.4 7.4M326.3 15.4l7.4 -7.4M355.0 11.7h10.0M360.0 6.7v10.0M356.3 8.0l7.4 7.4M356.3 15.4l7.4 -7.4M367.0 11.7h10.0M372.0 6.7v10.0M368.3 8.0l7.4 7.4M368.3 15.4l7.4 -7.4M375.0 19.0h10.0M380.0 14.0v10.0M376.3 15.3l7.4 7.4M376.3 22.7l7.4 -7.4M395.0 20.0h10.0M400.0 15.0v10.0M396.3 16.3l7.4 7.4M396.3 23.7l7.4 -7.4M415.0 20.0h10.0M420.0 15.0v10.0M416.3 16.3l7.4 7.4M416.3 23.7l7.4 -7.4M435.0 18.0h10.0M440.0 13.0v10.0M436.3 14.3l7.4 7.4M436.3 21.7l7.4 -7.4M455.0 17.5h10.0M460.0 12.5v10.0M456.3 13.8l7.4 7.4M456.3 21.2l7.4 -7.4M475.0 16.5h10.0M480.0 11.5v10.0M476.3 12.8l7.4 7.4M476.3 20.2l7.4 -7.4M495.0 17.5h10.0M500.0 12.5v10.0M496.3 13.8l7.4 7.4M496.3 21.2l7.4 -7.4M515.0 18.0h10.0M520.0 13.0v10.0M516.3 14.3l7.4 7.4M516.3 21.7l7.4 -7.4M535.0 19.5h10.0M540.0 14.5v10.0M536.3 15.8l7.4 7.4M536.3 23.2l7.4 -7.4M555.0 21.0h10.0M560.0 16.0v10.0M556.3 17.3l7.4 7.4M556.3 24.7l7.4 -7.4M565.0 25.0h10.0M570.0 20.0v10.0M566.3 21.3l7.4 7.4M566.3 28.7l7.4 -7.4M575.0 28.0h10.0M580.0 23.0v10.0M576.3 24.3l7.4 7.4M576.3 31.7l7.4 -7.4M590.0 29.0h10.0M595.0 24.0v10.0M591.3 25.3l7.4 7.4M591.3 32.7l7.4 -7.4M600.0 31.0h10.0M605.0 26.0v10.0M601.3 27.3l7.4 7.4M601.3 34.7l7.4 -7.4M610.0 37.0h10.0M615.0 32.0v10.0M611.3 33.3l7.4 7.4M611.3 40.7l7.4 -7.4M617.0 40.0h10.0M622.0 35.0v10.0M618.3 36.3l7.4 7.4M618.3 43.7l7.4 -7.4M625.0 38.0h10.0M630.0 33.0v10.0M626.3 34.3l7.4 7.4M626.3 41.7l7.4 -7.4M631.0 37.0h10.0M636.0 32.0v10.0M632.3 33.3l7.4 7.4M632.3 40.7l7.4 -7.4M127.5 28.5h10.0M132.5 23.5v10.0M128.8 24.8l7.4 7.4M128.8 32.2l7.4 -7.4M151.7 85.3h10.0M156.7 80.3v10.0M153.0 81.6l7.4 7.4M153.0 89.0l7.4 -7.4M159.0 82.0h10.0M164.0 77.0v10.0M160.3 78.3l7.4 7.4M160.3 85.7l7.4 -7.4M167.3 78.3h10.0M172.3 73.3v10.0M168.7 74.6l7.4 7.4M168.7 82.0l7.4 -7.4M187.9 26.7h10.0M192.9 21.7v10.0M189.2 23.0l7.4 7.4M189.2 30.4l7.4 -7.4M191.4 25.8h10.0M196.4 20.8v10.0M192.7 22.1l7.4 7.4M192.7 29.5l7.4 -7.4M200.0 24.8h10.0M205.0 19.8v10.0M201.3 21.1l7.4 7.4M201.3 28.4l7.4 -7.4M205.0 24.5h10.0M210.0 19.5v10.0M206.3 20.8l7.4 7.4M206.3 28.2l7.4 -7.4M210.0 24.2h10.0M215.0 19.2v10.0M211.3 20.6l7.4 7.4M211.3 27.9l7.4 -7.4M220.0 23.5h10.0M225.0 18.5v10.0M221.3 19.8l7.4 7.4M221.3 27.2l7.4 -7.4M225.0 23.0h10.0M230.0 18.0v10.0M226.3 19.3l7.4 7.4M226.3 26.7l7.4 -7.4M230.0 22.5h10.0M235.0 17.5v10.0M231.3 18.8l7.4 7.4M231.3 26.2l7.4 -7.4M240.0 21.2h10.0M245.0 16.2v10.0M241.3 17.6l7.4 7.4M241.3 24.9l7.4 -7.4M245.0 20.5h10.0M250.0 15.5v10.0M246.3 16.8l7.4 7.4M246.3 24.2l7.4 -7.4M250.0 19.8h10.0M255.0 14.8v10.0M251.3 16.1l7.4 7.4M251.3 23.4l7.4 -7.4M260.0 17.0h10.0M265.0 12.0v10.0M261.3 13.3l7.4 7.4M261.3 20.7l7.4 -7.4M270.0 13.8h10.0M275.0 8.8v10.0M271.3 10.1l7.4 7.4M271.3 17.4l7.4 -7.4M280.0 12.3h10.0M285.0 7.3v10.0M281.3 8.6l7.4 7.4M281.3 16.0l7.4 -7.4M285.0 12.1h10.0M290.0 7.1v10.0M286.3 8.4l7.4 7.4M286.3 15.8l7.4 -7.4M290.0 11.9h10.0M295.0 6.9v10.0M291.3 8.2l7.4 7.4M291.3 15.6l7.4 -7.4M300.0 11.7h10.0M305.0 6.7v10.0M301.3 8.0l7.4 7.4M301.3 15.4l7.4 -7.4M305.0 11.7h10.0M310.0 6.7v10.0M306.3 8.0l7.4 7.4M306.3 15.4l7.4 -7.4M310.0 11.7h10.0M315.0 6.7v10.0M311.3 8.0l7.4 7.4M311.3 15.4l7.4 -7.4M315.0 11.7h10.0M320.0 6.7v10.0M316.3 8.0l7.4 7.4M316.3 15.4l7.4 -7.4M320.0 11.7h10.0M325.0 6.7v10.0M321.3 8.0l7.4 7.4M321.3 15.4l7.4 -7.4M330.0 11.7h10.0M335.0 6.7v10.0M331.3 8.0l7.4 7.4M331.3 15.4l7.4 -7.4M335.0 11.7h10.0M340.0 6.7v10.0M336.3 8.0l7.4 7.4M336.3 15.4l7.4 -7.4M340.0 11.7h10.0M345.0 6.7v10.0M341.3 8.0l7.4 7.4M341.3 15.4l7.4 -7.4M345.0 11.7h10.0M350.0 6.7v10.0M346.3 8.0l7.4 7.4M346.3 15.4l7.4 -7.4M350.0 11.7h10.0M355.0 6.7v10.0M351.3 8.0l7.4 7.4M351.3 15.4l7.4 -7.4M359.0 11.7h10.0M364.0 6.7v10.0M360.3 8.0l7.4 7.4M360.3 15.4l7.4 -7.4M363.0 11.7h10.0M368.0 6.7v10.0M364.3 8.0l7.4 7.4M364.3 15.4l7.4 -7.4M371.0 15.3h10.0M376.0 10.3v10.0M372.3 11.6l7.4 7.4M372.3 19.1l7.4 -7.4M380.0 19.2h10.0M385.0 14.2v10.0M381.3 15.6l7.4 7.4M381.3 22.9l7.4 -7.4M385.0 19.5h10.0M390.0 14.5v10.0M386.3 15.8l7.4 7.4M386.3 23.2l7.4 -7.4M390.0 19.8h10.0M395.0 14.8v10.0M391.3 16.1l7.4 7.4M391.3 23.4l7.4 -7.4M400.0 20.0h10.0M405.0 15.0v10.0M401.3 16.3l7.4 7.4M401.3 23.7l7.4 -7.4M405.0 20.0h10.0M410.0 15.0v10.0M406.3 16.3l7.4 7.4M406.3 23.7l7.4 -7.4M410.0 20.0h10.0M415.0 15.0v10.0M411.3 16.3l7.4 7.4M411.3 23.7l7.4 -7.4M420.0 19.5h10.0M425.0 14.5v10.0M421.3 15.8l7.4 7.4M421.3 23.2l7.4 -7.4M425.0 19.0h10.0M430.0 14.0v10.0M426.3 15.3l7.4 7.4M426.3 22.7l7.4 -7.4M430.0 18.5h10.0M435.0 13.5v10.0M431.3 14.8l7.4 7.4M431.3 22.2l7.4 -7.4M440.0 17.9h10.0M445.0 12.9v10.0M441.3 14.2l7.4 7.4M441.3 21.6l7.4 -7.4M445.0 17.8h10.0M450.0 12.8v10.0M446.3 14.1l7.4 7.4M446.3 21.4l7.4 -7.4M450.0 17.6h10.0M455.0 12.6v10.0M451.3 13.9l7.4 7.4M451.3 21.3l7.4 -7.4M460.0 17.2h10.0M465.0 12.2v10.0M461.3 13.6l7.4 7.4M461.3 20.9l7.4 -7.4M465.0 17.0h10.0M470.0 12.0v10.0M466.3 13.3l7.4 7.4M466.3 20.7l7.4 -7.4M470.0 16.8h10.0M475.0 11.8v10.0M471.3 13.1l7.4 7.4M471.3 20.4l7.4 -7.4M480.0 16.8h10.0M485.0 11.8v10.0M481.3 13.1l7.4 7.4M481.3 20.4l7.4 -7.4M485.0 17.0h10.0M490.0 12.0v10.0M486.3 13.3l7.4 7.4M486.3 20.7l7.4 -7.4M490.0 17.2h10.0M495.0 12.2v10.0M491.3 13.6l7.4 7.4M491.3 20.9l7.4 -7.4M500.0 17.6h10.0M505.0 12.6v10.0M501.3 13.9l7.4 7.4M501.3 21.3l7.4 -7.4M505.0 17.8h10.0M510.0 12.8v10.0M506.3 14.1l7.4 7.4M506.3 21.4l7.4 -7.4M510.0 17.9h10.0M515.0 12.9v10.0M511.3 14.2l7.4 7.4M511.3 21.6l7.4 -7.4M520.0 18.4h10.0M525.0 13.4v10.0M521.3 14.7l7.4 7.4M521.3 22.1l7.4 -7.4M525.0 18.8h10.0M530.0 13.8v10.0M526.3 15.1l7.4 7.4M526.3 22.4l7.4 -7.4M530.0 19.1h10.0M535.0 14.1v10.0M531.3 15.4l7.4 7.4M531.3 22.8l7.4 -7.4M540.0 19.9h10.0M545.0 14.9v10.0M541.3 16.2l7.4 7.4M541.3 23.6l7.4 -7.4M545.0 20.2h10.0M550.0 15.2v10.0M546.3 16.6l7.4 7.4M546.3 23.9l7.4 -7.4M550.0 20.6h10.0M555.0 15.6v10.0M551.3 16.9l7.4 7.4M551.3 24.3l7.4 -7.4M560.0 23.0h10.0M565.0 18.0v10.0M561.3 19.3l7.4 7.4M561.3 26.7l7.4 -7.4M570.0 26.5h10.0M575.0 21.5v10.0M571.3 22.8l7.4 7.4M571.3 30.2l7.4 -7.4M580.0 28.3h10.0M585.0 23.3v10.0M581.3 24.6l7.4 7.4M581.3 32.0l7.4 -7.4M585.0 28.7h10.0M590.0 23.7v10.0M586.3 25.0l7.4 7.4M586.3 32.4l7.4 -7.4M595.0 30.0h10.0M600.0 25.0v10.0M596.3 26.3l7.4 7.4M596.3 33.7l7.4 -7.4M605.0 34.0h10.0M610.0 29.0v10.0M606.3 30.3l7.4 7.4M606.3 37.7l7.4 -7.4M613.5 38.5h10.0M618.5 33.5v10.0M614.8 34.8l7.4 7.4M614.8 42.2l7.4 -7.4M621.0 39.0h10.0M626.0 34.0v10.0M622.3 35.3l7.4 7.4M622.3 42.7l7.4 -7.4" stroke="#00ffcc" stroke-width="1.3" fill="none"/>
<path d="M128.0 42.0h0.01M137.0 15.0h0.01M141.0 14.0h0.01M147.0 45.0h0.01M153.3 86.7h0.01M160.0 84.0h0.01M168.0 80.0h0.01M176.7 76.7h0.01M179.2 108.3h0.01M184.5 144.0h0.01M189.3 27.5h0.01M200.0 25.0h0.01M220.0 24.0h0.01M240.0 22.0h0.01M260.0 19.0h0.01M270.0 15.0h0.01M280.0 12.5h0.01M300.0 11.7h0.01M330.0 11.7h0.01M360.0 11.7h0.01M372.0 11.7h0.01M380.0 19.0h0.01M400.0 20.0h0.01M420.0 20.0h0.01M440.0 18.0h0.01M460.0 17.5h0.01M480.0 16.5h0.01M500.0 17.5h0.01M520.0 18.0h0.01M540.0 19.5h0.01M560.0 21.0h0.01M570.0 25.0h0.01M580.0 28.0h0.01M595.0 29.0h0.01M605.0 31.0h0.01M615.0 37.0h0.01M622.0 40.0h0.01M630.0 38.0h0.01M636.0 37.0h0.01M132.5 28.5h0.01M156.7 85.3h0.01M164.0 82.0h0.01M172.3 78.3h0.01M192.9 26.7h0.01M196.4 25.8h0.01M205.0 24.8h0.01M210.0 24.5h0.01M215.0 24.2h0.01M225.0 23.5h0.01M230.0 23.0h0.01M235.0 22.5h0.01M245.0 21.2h0.01M250.0 20.5h0.01M255.0 19.8h0.01M265.0 17.0h0.01M275.0 13.8h0.01M285.0 12.3h0.01M290.0 12.1h0.01M295.0 11.9h0.01M305.0 11.7h0.01M310.0 11.7h0.01M315.0 11.7h0.01M320.0 11.7h0.01M325.0 11.7h0.01M335.0 11.7h0.01M340.0 11.7h0.01M345.0 11.7h0.01M350.0 11.7h0.01M355.0 11.7h0.01M364.0 11.7h0.01M368.0 11.7h0.01M376.0 15.3h0.01M385.0 19.2h0.01M390.0 19.5h0.01M395.0 19.8h0.01M405.0 20.0h0.01M410.0 20.0h0.01M415.0 20.0h0.01M425.0 19.5h0.01M430.0 19.0h0.01M435.0 18.5h0.01M445.0 17.9h0.01M450.0 17.8h0.01M455.0 17.6h0.01M465.0 17.2h0.01M470.0 17.0h0.01M475.0 16.8h0.01M485.0 16.8h0.01M490.0 17.0h0.01M495.0 17.2h0.01M505.0 17.6h0.01M510.0 17.8h0.01M515.0 17.9h0.01M525.0 18.4h0.01M530.0 18.8h0.01M535.0 19.1h0.01M545.0 19.9h0.01M550.0 20.2h0.01M555.0 20.6h0.01M565.0 23.0h0.01M575.0 26.5h0.01M585.0 28.3h0.01M590.0 28.7h0.01M600.0 30.0h0.01M610.0 34.0h0.01M618.5 38.5h0.01M626.0 39.0h0.01" stroke="#00ffcc" stroke-width="3.4" stroke-linecap="round" fill="none"/>
<polyline points="128.3,75 133,50 139,35 144.2,64 149.2,80 155,131 159,127 163,140 170,141 175,136 180,168 184.8,202 188.4,75 191.7,73.3 195.8,70 200,53.3 203.3,54.2 210,50.8 212.5,53.3 215.8,60 221.7,61.7 226.7,60.8 230,52.5 238.3,53.3 245,51 252,55 260,51 265,43 270,33 275,22 280,17 290,14 300,13 320,12.5 340,12 360,12 372,12.5 379,23 386,25 393,23 397,16 400,20 405,28 410,37 420,37 430,38 438,38 441,20 450,21 460,26 470,23 480,28 486,33 500,32 508,30 520,36 530,39 540,41.5 550,39 560,40 570,46 580,52 590,56 600,56 608,63 615,73 622,80 630,80 636,78" fill="none" stroke="#00ff66" stroke-width="0.9"/>
<path d="M123.3 75.0h10.0M128.3 70.0v10.0M124.6 71.3l7.4 7.4M124.6 78.7l7.4 -7.4M128.0 50.0h10.0M133.0 45.0v10.0M129.3 46.3l7.4 7.4M129.3 53.7l7.4 -7.4M134.0 35.0h10.0M139.0 30.0v10.0M135.3 31.3l7.4 7.4M135.3 38.7l7.4 -7.4M139.2 64.0h10.0M144.2 59.0v10.0M140.5 60.3l7.4 7.4M140.5 67.7l7.4 -7.4M144.2 80.0h10.0M149.2 75.0v10.0M145.5 76.3l7.4 7.4M145.5 83.7l7.4 -7.4M150.0 131.0h10.0M155.0 126.0v10.0M151.3 127.3l7.4 7.4M151.3 134.7l7.4 -7.4M154.0 127.0h10.0M159.0 122.0v10.0M155.3 123.3l7.4 7.4M155.3 130.7l7.4 -7.4M158.0 140.0h10.0M163.0 135.0v10.0M159.3 136.3l7.4 7.4M159.3 143.7l7.4 -7.4M165.0 141.0h10.0M170.0 136.0v10.0M166.3 137.3l7.4 7.4M166.3 144.7l7.4 -7.4M170.0 136.0h10.0M175.0 131.0v10.0M171.3 132.3l7.4 7.4M171.3 139.7l7.4 -7.4M175.0 168.0h10.0M180.0 163.0v10.0M176.3 164.3l7.4 7.4M176.3 171.7l7.4 -7.4M179.8 202.0h10.0M184.8 197.0v10.0M181.1 198.3l7.4 7.4M181.1 205.7l7.4 -7.4M183.4 75.0h10.0M188.4 70.0v10.0M184.7 71.3l7.4 7.4M184.7 78.7l7.4 -7.4M186.7 73.3h10.0M191.7 68.3v10.0M188.0 69.6l7.4 7.4M188.0 77.0l7.4 -7.4M190.8 70.0h10.0M195.8 65.0v10.0M192.1 66.3l7.4 7.4M192.1 73.7l7.4 -7.4M195.0 53.3h10.0M200.0 48.3v10.0M196.3 49.6l7.4 7.4M196.3 57.0l7.4 -7.4M198.3 54.2h10.0M203.3 49.2v10.0M199.6 50.5l7.4 7.4M199.6 57.9l7.4 -7.4M205.0 50.8h10.0M210.0 45.8v10.0M206.3 47.1l7.4 7.4M206.3 54.5l7.4 -7.4M207.5 53.3h10.0M212.5 48.3v10.0M208.8 49.6l7.4 7.4M208.8 57.0l7.4 -7.4M210.8 60.0h10.0M215.8 55.0v10.0M212.1 56.3l7.4 7.4M212.1 63.7l7.4 -7.4M216.7 61.7h10.0M221.7 56.7v10.0M218.0 58.0l7.4 7.4M218.0 65.4l7.4 -7.4M221.7 60.8h10.0M226.7 55.8v10.0M223.0 57.1l7.4 7.4M223.0 64.5l7.4 -7.4M225.0 52.5h10.0M230.0 47.5v10.0M226.3 48.8l7.4 7.4M226.3 56.2l7.4 -7.4M233.3 53.3h10.0M238.3 48.3v10.0M234.6 49.6l7.4 7.4M234.6 57.0l7.4 -7.4M240.0 51.0h10.0M245.0 46.0v10.0M241.3 47.3l7.4 7.4M241.3 54.7l7.4 -7.4M247.0 55.0h10.0M252.0 50.0v10.0M248.3 51.3l7.4 7.4M248.3 58.7l7.4 -7.4M255.0 51.0h10.0M260.0 46.0v10.0M256.3 47.3l7.4 7.4M256.3 54.7l7.4 -7.4M260.0 43.0h10.0M265.0 38.0v10.0M261.3 39.3l7.4 7.4M261.3 46.7l7.4 -7.4M265.0 33.0h10.0M270.0 28.0v10.0M266.3 29.3l7.4 7.4M266.3 36.7l7.4 -7.4M270.0 22.0h10.0M275.0 17.0v10.0M271.3 18.3l7.4 7.4M271.3 25.7l7.4 -7.4M275.0 17.0h10.0M280.0 12.0v10.0M276.3 13.3l7.4 7.4M276.3 20.7l7.4 -7.4M285.0 14.0h10.0M290.0 9.0v10.0M286.3 10.3l7.4 7.4M286.3 17.7l7.4 -7.4M295.0 13.0h10.0M300.0 8.0v10.0M296.3 9.3l7.4 7.4M296.3 16.7l7.4 -7.4M315.0 12.5h10.0M320.0 7.5v10.0M316.3 8.8l7.4 7.4M316.3 16.2l7.4 -7.4M335.0 12.0h10.0M340.0 7.0v10.0M336.3 8.3l7.4 7.4M336.3 15.7l7.4 -7.4M355.0 12.0h10.0M360.0 7.0v10.0M356.3 8.3l7.4 7.4M356.3 15.7l7.4 -7.4M367.0 12.5h10.0M372.0 7.5v10.0M368.3 8.8l7.4 7.4M368.3 16.2l7.4 -7.4M374.0 23.0h10.0M379.0 18.0v10.0M375.3 19.3l7.4 7.4M375.3 26.7l7.4 -7.4M381.0 25.0h10.0M386.0 20.0v10.0M382.3 21.3l7.4 7.4M382.3 28.7l7.4 -7.4M388.0 23.0h10.0M393.0 18.0v10.0M389.3 19.3l7.4 7.4M389.3 26.7l7.4 -7.4M392.0 16.0h10.0M397.0 11.0v10.0M393.3 12.3l7.4 7.4M393.3 19.7l7.4 -7.4M395.0 20.0h10.0M400.0 15.0v10.0M396.3 16.3l7.4 7.4M396.3 23.7l7.4 -7.4M400.0 28.0h10.0M405.0 23.0v10.0M401.3 24.3l7.4 7.4M401.3 31.7l7.4 -7.4M405.0 37.0h10.0M410.0 32.0v10.0M406.3 33.3l7.4 7.4M406.3 40.7l7.4 -7.4M415.0 37.0h10.0M420.0 32.0v10.0M416.3 33.3l7.4 7.4M416.3 40.7l7.4 -7.4M425.0 38.0h10.0M430.0 33.0v10.0M426.3 34.3l7.4 7.4M426.3 41.7l7.4 -7.4M433.0 38.0h10.0M438.0 33.0v10.0M434.3 34.3l7.4 7.4M434.3 41.7l7.4 -7.4M436.0 20.0h10.0M441.0 15.0v10.0M437.3 16.3l7.4 7.4M437.3 23.7l7.4 -7.4M445.0 21.0h10.0M450.0 16.0v10.0M446.3 17.3l7.4 7.4M446.3 24.7l7.4 -7.4M455.0 26.0h10.0M460.0 21.0v10.0M456.3 22.3l7.4 7.4M456.3 29.7l7.4 -7.4M465.0 23.0h10.0M470.0 18.0v10.0M466.3 19.3l7.4 7.4M466.3 26.7l7.4 -7.4M475.0 28.0h10.0M480.0 23.0v10.0M476.3 24.3l7.4 7.4M476.3 31.7l7.4 -7.4M481.0 33.0h10.0M486.0 28.0v10.0M482.3 29.3l7.4 7.4M482.3 36.7l7.4 -7.4M495.0 32.0h10.0M500.0 27.0v10.0M496.3 28.3l7.4 7.4M496.3 35.7l7.4 -7.4M503.0 30.0h10.0M508.0 25.0v10.0M504.3 26.3l7.4 7.4M504.3 33.7l7.4 -7.4M515.0 36.0h10.0M520.0 31.0v10.0M516.3 32.3l7.4 7.4M516.3 39.7l7.4 -7.4M525.0 39.0h10.0M530.0 34.0v10.0M526.3 35.3l7.4 7.4M526.3 42.7l7.4 -7.4M535.0 41.5h10.0M540.0 36.5v10.0M536.3 37.8l7.4 7.4M536.3 45.2l7.4 -7.4M545.0 39.0h10.0M550.0 34.0v10.0M546.3 35.3l7.4 7.4M546.3 42.7l7.4 -7.4M555.0 40.0h10.0M560.0 35.0v10.0M556.3 36.3l7.4 7.4M556.3 43.7l7.4 -7.4M565.0 46.0h10.0M570.0 41.0v10.0M566.3 42.3l7.4 7.4M566.3 49.7l7.4 -7.4M575.0 52.0h10.0M580.0 47.0v10.0M576.3 48.3l7.4 7.4M576.3 55.7l7.4 -7.4M585.0 56.0h10.0M590.0 51.0v10.0M586.3 52.3l7.4 7.4M586.3 59.7l7.4 -7.4M595.0 56.0h10.0M600.0 51.0v10.0M596.3 52.3l7.4 7.4M596.3 59.7l7.4 -7.4M603.0 63.0h10.0M608.0 58.0v10.0M604.3 59.3l7.4 7.4M604.3 66.7l7.4 -7.4M610.0 73.0h10.0M615.0 68.0v10.0M611.3 69.3l7.4 7.4M611.3 76.7l7.4 -7.4M617.0 80.0h10.0M622.0 75.0v10.0M618.3 76.3l7.4 7.4M618.3 83.7l7.4 -7.4M625.0 80.0h10.0M630.0 75.0v10.0M626.3 76.3l7.4 7.4M626.3 83.7l7.4 -7.4M631.0 78.0h10.0M636.0 73.0v10.0M632.3 74.3l7.4 7.4M632.3 81.7l7.4 -7.4M161.5 140.5h10.0M166.5 135.5v10.0M162.8 136.8l7.4 7.4M162.8 144.2l7.4 -7.4M201.7 52.5h10.0M206.7 47.5v10.0M203.0 48.8l7.4 7.4M203.0 56.2l7.4 -7.4M229.2 52.9h10.0M234.2 47.9v10.0M230.5 49.2l7.4 7.4M230.5 56.6l7.4 -7.4M236.7 52.1h10.0M241.7 47.1v10.0M238.0 48.4l7.4 7.4M238.0 55.9l7.4 -7.4M243.5 53.0h10.0M248.5 48.0v10.0M244.8 49.3l7.4 7.4M244.8 56.7l7.4 -7.4M251.0 53.0h10.0M256.0 48.0v10.0M252.3 49.3l7.4 7.4M252.3 56.7l7.4 -7.4M280.0 15.5h10.0M285.0 10.5v10.0M281.3 11.8l7.4 7.4M281.3 19.2l7.4 -7.4M290.0 13.5h10.0M295.0 8.5v10.0M291.3 9.8l7.4 7.4M291.3 17.2l7.4 -7.4M300.0 12.9h10.0M305.0 7.9v10.0M301.3 9.2l7.4 7.4M301.3 16.6l7.4 -7.4M305.0 12.8h10.0M310.0 7.8v10.0M306.3 9.1l7.4 7.4M306.3 16.4l7.4 -7.4M310.0 12.6h10.0M315.0 7.6v10.0M311.3 8.9l7.4 7.4M311.3 16.3l7.4 -7.4M320.0 12.4h10.0M325.0 7.4v10.0M321.3 8.7l7.4 7.4M321.3 16.1l7.4 -7.4M325.0 12.2h10.0M330.0 7.2v10.0M326.3 8.6l7.4 7.4M326.3 15.9l7.4 -7.4M330.0 12.1h10.0M335.0 7.1v10.0M331.3 8.4l7.4 7.4M331.3 15.8l7.4 -7.4M340.0 12.0h10.0M345.0 7.0v10.0M341.3 8.3l7.4 7.4M341.3 15.7l7.4 -7.4M345.0 12.0h10.0M350.0 7.0v10.0M346.3 8.3l7.4 7.4M346.3 15.7l7.4 -7.4M350.0 12.0h10.0M355.0 7.0v10.0M351.3 8.3l7.4 7.4M351.3 15.7l7.4 -7.4M359.0 12.2h10.0M364.0 7.2v10.0M360.3 8.5l7.4 7.4M360.3 15.9l7.4 -7.4M363.0 12.3h10.0M368.0 7.3v10.0M364.3 8.6l7.4 7.4M364.3 16.0l7.4 -7.4M370.5 17.8h10.0M375.5 12.8v10.0M371.8 14.1l7.4 7.4M371.8 21.4l7.4 -7.4M377.5 24.0h10.0M382.5 19.0v10.0M378.8 20.3l7.4 7.4M378.8 27.7l7.4 -7.4M384.5 24.0h10.0M389.5 19.0v10.0M385.8 20.3l7.4 7.4M385.8 27.7l7.4 -7.4M410.0 37.0h10.0M415.0 32.0v10.0M411.3 33.3l7.4 7.4M411.3 40.7l7.4 -7.4M420.0 37.5h10.0M425.0 32.5v10.0M421.3 33.8l7.4 7.4M421.3 41.2l7.4 -7.4M429.0 38.0h10.0M434.0 33.0v10.0M430.3 34.3l7.4 7.4M430.3 41.7l7.4 -7.4M440.5 20.5h10.0M445.5 15.5v10.0M441.8 16.8l7.4 7.4M441.8 24.2l7.4 -7.4M450.0 23.5h10.0M455.0 18.5v10.0M451.3 19.8l7.4 7.4M451.3 27.2l7.4 -7.4M460.0 24.5h10.0M465.0 19.5v10.0M461.3 20.8l7.4 7.4M461.3 28.2l7.4 -7.4M470.0 25.5h10.0M475.0 20.5v10.0M471.3 21.8l7.4 7.4M471.3 29.2l7.4 -7.4M485.7 32.7h10.0M490.7 27.7v10.0M487.0 29.0l7.4 7.4M487.0 36.4l7.4 -7.4M490.3 32.3h10.0M495.3 27.3v10.0M491.6 28.6l7.4 7.4M491.6 36.0l7.4 -7.4M499.0 31.0h10.0M504.0 26.0v10.0M500.3 27.3l7.4 7.4M500.3 34.7l7.4 -7.4M507.0 32.0h10.0M512.0 27.0v10.0M508.3 28.3l7.4 7.4M508.3 35.7l7.4 -7.4M511.0 34.0h10.0M516.0 29.0v10.0M512.3 30.3l7.4 7.4M512.3 37.7l7.4 -7.4M520.0 37.5h10.0M525.0 32.5v10.0M521.3 33.8l7.4 7.4M521.3 41.2l7.4 -7.4M530.0 40.2h10.0M535.0 35.2v10.0M531.3 36.5l7.4 7.4M531.3 44.0l7.4 -7.4M540.0 40.2h10.0M545.0 35.2v10.0M541.3 36.5l7.4 7.4M541.3 44.0l7.4 -7.4M550.0 39.5h10.0M555.0 34.5v10.0M551.3 35.8l7.4 7.4M551.3 43.2l7.4 -7.4M560.0 43.0h10.0M565.0 38.0v10.0M561.3 39.3l7.4 7.4M561.3 46.7l7.4 -7.4M570.0 49.0h10.0M575.0 44.0v10.0M571.3 45.3l7.4 7.4M571.3 52.7l7.4 -7.4M580.0 54.0h10.0M585.0 49.0v10.0M581.3 50.3l7.4 7.4M581.3 57.7l7.4 -7.4M590.0 56.0h10.0M595.0 51.0v10.0M591.3 52.3l7.4 7.4M591.3 59.7l7.4 -7.4M599.0 59.5h10.0M604.0 54.5v10.0M600.3 55.8l7.4 7.4M600.3 63.2l7.4 -7.4M606.5 68.0h10.0M611.5 63.0v10.0M607.8 64.3l7.4 7.4M607.8 71.7l7.4 -7.4M613.5 76.5h10.0M618.5 71.5v10.0M614.8 72.8l7.4 7.4M614.8 80.2l7.4 -7.4M621.0 80.0h10.0M626.0 75.0v10.0M622.3 76.3l7.4 7.4M622.3 83.7l7.4 -7.4" stroke="#00ff66" stroke-width="1.3" fill="none"/>
<path d="M128.3 75.0h0.01M133.0 50.0h0.01M139.0 35.0h0.01M144.2 64.0h0.01M149.2 80.0h0.01M155.0 131.0h0.01M159.0 127.0h0.01M163.0 140.0h0.01M170.0 141.0h0.01M175.0 136.0h0.01M180.0 168.0h0.01M184.8 202.0h0.01M188.4 75.0h0.01M191.7 73.3h0.01M195.8 70.0h0.01M200.0 53.3h0.01M203.3 54.2h0.01M210.0 50.8h0.01M212.5 53.3h0.01M215.8 60.0h0.01M221.7 61.7h0.01M226.7 60.8h0.01M230.0 52.5h0.01M238.3 53.3h0.01M245.0 51.0h0.01M252.0 55.0h0.01M260.0 51.0h0.01M265.0 43.0h0.01M270.0 33.0h0.01M275.0 22.0h0.01M280.0 17.0h0.01M290.0 14.0h0.01M300.0 13.0h0.01M320.0 12.5h0.01M340.0 12.0h0.01M360.0 12.0h0.01M372.0 12.5h0.01M379.0 23.0h0.01M386.0 25.0h0.01M393.0 23.0h0.01M397.0 16.0h0.01M400.0 20.0h0.01M405.0 28.0h0.01M410.0 37.0h0.01M420.0 37.0h0.01M430.0 38.0h0.01M438.0 38.0h0.01M441.0 20.0h0.01M450.0 21.0h0.01M460.0 26.0h0.01M470.0 23.0h0.01M480.0 28.0h0.01M486.0 33.0h0.01M500.0 32.0h0.01M508.0 30.0h0.01M520.0 36.0h0.01M530.0 39.0h0.01M540.0 41.5h0.01M550.0 39.0h0.01M560.0 40.0h0.01M570.0 46.0h0.01M580.0 52.0h0.01M590.0 56.0h0.01M600.0 56.0h0.01M608.0 63.0h0.01M615.0 73.0h0.01M622.0 80.0h0.01M630.0 80.0h0.01M636.0 78.0h0.01M166.5 140.5h0.01M206.7 52.5h0.01M234.2 52.9h0.01M241.7 52.1h0.01M248.5 53.0h0.01M256.0 53.0h0.01M285.0 15.5h0.01M295.0 13.5h0.01M305.0 12.9h0.01M310.0 12.8h0.01M315.0 12.6h0.01M325.0 12.4h0.01M330.0 12.2h0.01M335.0 12.1h0.01M345.0 12.0h0.01M350.0 12.0h0.01M355.0 12.0h0.01M364.0 12.2h0.01M368.0 12.3h0.01M375.5 17.8h0.01M382.5 24.0h0.01M389.5 24.0h0.01M415.0 37.0h0.01M425.0 37.5h0.01M434.0 38.0h0.01M445.5 20.5h0.01M455.0 23.5h0.01M465.0 24.5h0.01M475.0 25.5h0.01M490.7 32.7h0.01M495.3 32.3h0.01M504.0 31.0h0.01M512.0 32.0h0.01M516.0 34.0h0.01M525.0 37.5h0.01M535.0 40.2h0.01M545.0 40.2h0.01M555.0 39.5h0.01M565.0 43.0h0.01M575.0 49.0h0.01M585.0 54.0h0.01M595.0 56.0h0.01M604.0 59.5h0.01M611.5 68.0h0.01M618.5 76.5h0.01M626.0 80.0h0.01" stroke="#00ff66" stroke-width="3.4" stroke-linecap="round" fill="none"/>
<polyline points="129,137 134,127 141.7,92.5 144.2,114 149,142 154.4,185 159.6,181 164.4,203 169,202 174.4,194 180,222 184.5,244 189.5,129 195,124 198,101 204,103 210,98.3 213,106.7 218,110 223,111 228,106.7 231,101.7 238,100 242,98 248,101 255,98 262,94 266,80 272,67 276,50 282,43 290,40 295,36 298,26 305,24 315,21.5 330,18.5 345,16.5 360,16 374,16 379,35 383.5,37 390,43 397,42 401,43.5 405,73 410,98.5 418,101 428,105 436,113 441,55 448,58 455,63 462,75 466,67 472,72 477,82 486,92 493,93.5 500,91.5 505,90.5 510,93 515,98 520,102 525,106 530,114 540,120 550,122 560,124 565,126 575,130.5 585,137 595,141 602,141 610,148 616,155 620,163 628,168 636,168" fill="none" stroke="#00ff00" stroke-width="0.9"/>
<path d="M124.0 137.0h10.0M129.0 132.0v10.0M125.3 133.3l7.4 7.4M125.3 140.7l7.4 -7.4M129.0 127.0h10.0M134.0 122.0v10.0M130.3 123.3l7.4 7.4M130.3 130.7l7.4 -7.4M136.7 92.5h10.0M141.7 87.5v10.0M138.0 88.8l7.4 7.4M138.0 96.2l7.4 -7.4M139.2 114.0h10.0M144.2 109.0v10.0M140.5 110.3l7.4 7.4M140.5 117.7l7.4 -7.4M144.0 142.0h10.0M149.0 137.0v10.0M145.3 138.3l7.4 7.4M145.3 145.7l7.4 -7.4M149.4 185.0h10.0M154.4 180.0v10.0M150.7 181.3l7.4 7.4M150.7 188.7l7.4 -7.4M154.6 181.0h10.0M159.6 176.0v10.0M155.9 177.3l7.4 7.4M155.9 184.7l7.4 -7.4M159.4 203.0h10.0M164.4 198.0v10.0M160.7 199.3l7.4 7.4M160.7 206.7l7.4 -7.4M164.0 202.0h10.0M169.0 197.0v10.0M165.3 198.3l7.4 7.4M165.3 205.7l7.4 -7.4M169.4 194.0h10.0M174.4 189.0v10.0M170.7 190.3l7.4 7.4M170.7 197.7l7.4 -7.4M175.0 222.0h10.0M180.0 217.0v10.0M176.3 218.3l7.4 7.4M176.3 225.7l7.4 -7.4M179.5 244.0h10.0M184.5 239.0v10.0M180.8 240.3l7.4 7.4M180.8 247.7l7.4 -7.4M184.5 129.0h10.0M189.5 124.0v10.0M185.8 125.3l7.4 7.4M185.8 132.7l7.4 -7.4M190.0 124.0h10.0M195.0 119.0v10.0M191.3 120.3l7.4 7.4M191.3 127.7l7.4 -7.4M193.0 101.0h10.0M198.0 96.0v10.0M194.3 97.3l7.4 7.4M194.3 104.7l7.4 -7.4M199.0 103.0h10.0M204.0 98.0v10.0M200.3 99.3l7.4 7.4M200.3 106.7l7.4 -7.4M205.0 98.3h10.0M210.0 93.3v10.0M206.3 94.6l7.4 7.4M206.3 102.0l7.4 -7.4M208.0 106.7h10.0M213.0 101.7v10.0M209.3 103.0l7.4 7.4M209.3 110.4l7.4 -7.4M213.0 110.0h10.0M218.0 105.0v10.0M214.3 106.3l7.4 7.4M214.3 113.7l7.4 -7.4M218.0 111.0h10.0M223.0 106.0v10.0M219.3 107.3l7.4 7.4M219.3 114.7l7.4 -7.4M223.0 106.7h10.0M228.0 101.7v10.0M224.3 103.0l7.4 7.4M224.3 110.4l7.4 -7.4M226.0 101.7h10.0M231.0 96.7v10.0M227.3 98.0l7.4 7.4M227.3 105.4l7.4 -7.4M233.0 100.0h10.0M238.0 95.0v10.0M234.3 96.3l7.4 7.4M234.3 103.7l7.4 -7.4M237.0 98.0h10.0M242.0 93.0v10.0M238.3 94.3l7.4 7.4M238.3 101.7l7.4 -7.4M243.0 101.0h10.0M248.0 96.0v10.0M244.3 97.3l7.4 7.4M244.3 104.7l7.4 -7.4M250.0 98.0h10.0M255.0 93.0v10.0M251.3 94.3l7.4 7.4M251.3 101.7l7.4 -7.4M257.0 94.0h10.0M262.0 89.0v10.0M258.3 90.3l7.4 7.4M258.3 97.7l7.4 -7.4M261.0 80.0h10.0M266.0 75.0v10.0M262.3 76.3l7.4 7.4M262.3 83.7l7.4 -7.4M267.0 67.0h10.0M272.0 62.0v10.0M268.3 63.3l7.4 7.4M268.3 70.7l7.4 -7.4M271.0 50.0h10.0M276.0 45.0v10.0M272.3 46.3l7.4 7.4M272.3 53.7l7.4 -7.4M277.0 43.0h10.0M282.0 38.0v10.0M278.3 39.3l7.4 7.4M278.3 46.7l7.4 -7.4M285.0 40.0h10.0M290.0 35.0v10.0M286.3 36.3l7.4 7.4M286.3 43.7l7.4 -7.4M290.0 36.0h10.0M295.0 31.0v10.0M291.3 32.3l7.4 7.4M291.3 39.7l7.4 -7.4M293.0 26.0h10.0M298.0 21.0v10.0M294.3 22.3l7.4 7.4M294.3 29.7l7.4 -7.4M300.0 24.0h10.0M305.0 19.0v10.0M301.3 20.3l7.4 7.4M301.3 27.7l7.4 -7.4M310.0 21.5h10.0M315.0 16.5v10.0M311.3 17.8l7.4 7.4M311.3 25.2l7.4 -7.4M325.0 18.5h10.0M330.0 13.5v10.0M326.3 14.8l7.4 7.4M326.3 22.2l7.4 -7.4M340.0 16.5h10.0M345.0 11.5v10.0M341.3 12.8l7.4 7.4M341.3 20.2l7.4 -7.4M355.0 16.0h10.0M360.0 11.0v10.0M356.3 12.3l7.4 7.4M356.3 19.7l7.4 -7.4M369.0 16.0h10.0M374.0 11.0v10.0M370.3 12.3l7.4 7.4M370.3 19.7l7.4 -7.4M374.0 35.0h10.0M379.0 30.0v10.0M375.3 31.3l7.4 7.4M375.3 38.7l7.4 -7.4M378.5 37.0h10.0M383.5 32.0v10.0M379.8 33.3l7.4 7.4M379.8 40.7l7.4 -7.4M385.0 43.0h10.0M390.0 38.0v10.0M386.3 39.3l7.4 7.4M386.3 46.7l7.4 -7.4M392.0 42.0h10.0M397.0 37.0v10.0M393.3 38.3l7.4 7.4M393.3 45.7l7.4 -7.4M396.0 43.5h10.0M401.0 38.5v10.0M397.3 39.8l7.4 7.4M397.3 47.2l7.4 -7.4M400.0 73.0h10.0M405.0 68.0v10.0M401.3 69.3l7.4 7.4M401.3 76.7l7.4 -7.4M405.0 98.5h10.0M410.0 93.5v10.0M406.3 94.8l7.4 7.4M406.3 102.2l7.4 -7.4M413.0 101.0h10.0M418.0 96.0v10.0M414.3 97.3l7.4 7.4M414.3 104.7l7.4 -7.4M423.0 105.0h10.0M428.0 100.0v10.0M424.3 101.3l7.4 7.4M424.3 108.7l7.4 -7.4M431.0 113.0h10.0M436.0 108.0v10.0M432.3 109.3l7.4 7.4M432.3 116.7l7.4 -7.4M436.0 55.0h10.0M441.0 50.0v10.0M437.3 51.3l7.4 7.4M437.3 58.7l7.4 -7.4M443.0 58.0h10.0M448.0 53.0v10.0M444.3 54.3l7.4 7.4M444.3 61.7l7.4 -7.4M450.0 63.0h10.0M455.0 58.0v10.0M451.3 59.3l7.4 7.4M451.3 66.7l7.4 -7.4M457.0 75.0h10.0M462.0 70.0v10.0M458.3 71.3l7.4 7.4M458.3 78.7l7.4 -7.4M461.0 67.0h10.0M466.0 62.0v10.0M462.3 63.3l7.4 7.4M462.3 70.7l7.4 -7.4M467.0 72.0h10.0M472.0 67.0v10.0M468.3 68.3l7.4 7.4M468.3 75.7l7.4 -7.4M472.0 82.0h10.0M477.0 77.0v10.0M473.3 78.3l7.4 7.4M473.3 85.7l7.4 -7.4M481.0 92.0h10.0M486.0 87.0v10.0M482.3 88.3l7.4 7.4M482.3 95.7l7.4 -7.4M488.0 93.5h10.0M493.0 88.5v10.0M489.3 89.8l7.4 7.4M489.3 97.2l7.4 -7.4M495.0 91.5h10.0M500.0 86.5v10.0M496.3 87.8l7.4 7.4M496.3 95.2l7.4 -7.4M500.0 90.5h10.0M505.0 85.5v10.0M501.3 86.8l7.4 7.4M501.3 94.2l7.4 -7.4M505.0 93.0h10.0M510.0 88.0v10.0M506.3 89.3l7.4 7.4M506.3 96.7l7.4 -7.4M510.0 98.0h10.0M515.0 93.0v10.0M511.3 94.3l7.4 7.4M511.3 101.7l7.4 -7.4M515.0 102.0h10.0M520.0 97.0v10.0M516.3 98.3l7.4 7.4M516.3 105.7l7.4 -7.4M520.0 106.0h10.0M525.0 101.0v10.0M521.3 102.3l7.4 7.4M521.3 109.7l7.4 -7.4M525.0 114.0h10.0M530.0 109.0v10.0M526.3 110.3l7.4 7.4M526.3 117.7l7.4 -7.4M535.0 120.0h10.0M540.0 115.0v10.0M536.3 116.3l7.4 7.4M536.3 123.7l7.4 -7.4M545.0 122.0h10.0M550.0 117.0v10.0M546.3 118.3l7.4 7.4M546.3 125.7l7.4 -7.4M555.0 124.0h10.0M560.0 119.0v10.0M556.3 120.3l7.4 7.4M556.3 127.7l7.4 -7.4M560.0 126.0h10.0M565.0 121.0v10.0M561.3 122.3l7.4 7.4M561.3 129.7l7.4 -7.4M570.0 130.5h10.0M575.0 125.5v10.0M571.3 126.8l7.4 7.4M571.3 134.2l7.4 -7.4M580.0 137.0h10.0M585.0 132.0v10.0M581.3 133.3l7.4 7.4M581.3 140.7l7.4 -7.4M590.0 141.0h10.0M595.0 136.0v10.0M591.3 137.3l7.4 7.4M591.3 144.7l7.4 -7.4M597.0 141.0h10.0M602.0 136.0v10.0M598.3 137.3l7.4 7.4M598.3 144.7l7.4 -7.4M605.0 148.0h10.0M610.0 143.0v10.0M606.3 144.3l7.4 7.4M606.3 151.7l7.4 -7.4M611.0 155.0h10.0M616.0 150.0v10.0M612.3 151.3l7.4 7.4M612.3 158.7l7.4 -7.4M615.0 163.0h10.0M620.0 158.0v10.0M616.3 159.3l7.4 7.4M616.3 166.7l7.4 -7.4M623.0 168.0h10.0M628.0 163.0v10.0M624.3 164.3l7.4 7.4M624.3 171.7l7.4 -7.4M631.0 168.0h10.0M636.0 163.0v10.0M632.3 164.3l7.4 7.4M632.3 171.7l7.4 -7.4M229.5 100.8h10.0M234.5 95.8v10.0M230.8 97.1l7.4 7.4M230.8 104.5l7.4 -7.4M246.5 99.5h10.0M251.5 94.5v10.0M247.8 95.8l7.4 7.4M247.8 103.2l7.4 -7.4M253.5 96.0h10.0M258.5 91.0v10.0M254.8 92.3l7.4 7.4M254.8 99.7l7.4 -7.4M281.0 41.5h10.0M286.0 36.5v10.0M282.3 37.8l7.4 7.4M282.3 45.2l7.4 -7.4M296.5 25.0h10.0M301.5 20.0v10.0M297.8 21.3l7.4 7.4M297.8 28.7l7.4 -7.4M305.0 22.8h10.0M310.0 17.8v10.0M306.3 19.1l7.4 7.4M306.3 26.4l7.4 -7.4M315.0 20.5h10.0M320.0 15.5v10.0M316.3 16.8l7.4 7.4M316.3 24.2l7.4 -7.4M320.0 19.5h10.0M325.0 14.5v10.0M321.3 15.8l7.4 7.4M321.3 23.2l7.4 -7.4M330.0 17.8h10.0M335.0 12.8v10.0M331.3 14.1l7.4 7.4M331.3 21.5l7.4 -7.4M335.0 17.2h10.0M340.0 12.2v10.0M336.3 13.5l7.4 7.4M336.3 20.9l7.4 -7.4M345.0 16.3h10.0M350.0 11.3v10.0M346.3 12.6l7.4 7.4M346.3 20.0l7.4 -7.4M350.0 16.2h10.0M355.0 11.2v10.0M351.3 12.5l7.4 7.4M351.3 19.9l7.4 -7.4M359.7 16.0h10.0M364.7 11.0v10.0M361.0 12.3l7.4 7.4M361.0 19.7l7.4 -7.4M364.3 16.0h10.0M369.3 11.0v10.0M365.6 12.3l7.4 7.4M365.6 19.7l7.4 -7.4M388.5 42.5h10.0M393.5 37.5v10.0M389.8 38.8l7.4 7.4M389.8 46.2l7.4 -7.4M409.0 99.8h10.0M414.0 94.8v10.0M410.3 96.0l7.4 7.4M410.3 103.5l7.4 -7.4M418.0 103.0h10.0M423.0 98.0v10.0M419.3 99.3l7.4 7.4M419.3 106.7l7.4 -7.4M427.0 109.0h10.0M432.0 104.0v10.0M428.3 105.3l7.4 7.4M428.3 112.7l7.4 -7.4M439.5 56.5h10.0M444.5 51.5v10.0M440.8 52.8l7.4 7.4M440.8 60.2l7.4 -7.4M446.5 60.5h10.0M451.5 55.5v10.0M447.8 56.8l7.4 7.4M447.8 64.2l7.4 -7.4M453.5 69.0h10.0M458.5 64.0v10.0M454.8 65.3l7.4 7.4M454.8 72.7l7.4 -7.4M476.5 87.0h10.0M481.5 82.0v10.0M477.8 83.3l7.4 7.4M477.8 90.7l7.4 -7.4M484.5 92.8h10.0M489.5 87.8v10.0M485.8 89.0l7.4 7.4M485.8 96.5l7.4 -7.4M491.5 92.5h10.0M496.5 87.5v10.0M492.8 88.8l7.4 7.4M492.8 96.2l7.4 -7.4M530.0 117.0h10.0M535.0 112.0v10.0M531.3 113.3l7.4 7.4M531.3 120.7l7.4 -7.4M540.0 121.0h10.0M545.0 116.0v10.0M541.3 117.3l7.4 7.4M541.3 124.7l7.4 -7.4M550.0 123.0h10.0M555.0 118.0v10.0M551.3 119.3l7.4 7.4M551.3 126.7l7.4 -7.4M565.0 128.2h10.0M570.0 123.2v10.0M566.3 124.5l7.4 7.4M566.3 131.9l7.4 -7.4M575.0 133.8h10.0M580.0 128.8v10.0M576.3 130.1l7.4 7.4M576.3 137.4l7.4 -7.4M585.0 139.0h10.0M590.0 134.0v10.0M586.3 135.3l7.4 7.4M586.3 142.7l7.4 -7.4M593.5 141.0h10.0M598.5 136.0v10.0M594.8 137.3l7.4 7.4M594.8 144.7l7.4 -7.4M601.0 144.5h10.0M606.0 139.5v10.0M602.3 140.8l7.4 7.4M602.3 148.2l7.4 -7.4M619.0 165.5h10.0M624.0 160.5v10.0M620.3 161.8l7.4 7.4M620.3 169.2l7.4 -7.4M627.0 168.0h10.0M632.0 163.0v10.0M628.3 164.3l7.4 7.4M628.3 171.7l7.4 -7.4" stroke="#00ff00" stroke-width="1.3" fill="none"/>
<path d="M129.0 137.0h0.01M134.0 127.0h0.01M141.7 92.5h0.01M144.2 114.0h0.01M149.0 142.0h0.01M154.4 185.0h0.01M159.6 181.0h0.01M164.4 203.0h0.01M169.0 202.0h0.01M174.4 194.0h0.01M180.0 222.0h0.01M184.5 244.0h0.01M189.5 129.0h0.01M195.0 124.0h0.01M198.0 101.0h0.01M204.0 103.0h0.01M210.0 98.3h0.01M213.0 106.7h0.01M218.0 110.0h0.01M223.0 111.0h0.01M228.0 106.7h0.01M231.0 101.7h0.01M238.0 100.0h0.01M242.0 98.0h0.01M248.0 101.0h0.01M255.0 98.0h0.01M262.0 94.0h0.01M266.0 80.0h0.01M272.0 67.0h0.01M276.0 50.0h0.01M282.0 43.0h0.01M290.0 40.0h0.01M295.0 36.0h0.01M298.0 26.0h0.01M305.0 24.0h0.01M315.0 21.5h0.01M330.0 18.5h0.01M345.0 16.5h0.01M360.0 16.0h0.01M374.0 16.0h0.01M379.0 35.0h0.01M383.5 37.0h0.01M390.0 43.0h0.01M397.0 42.0h0.01M401.0 43.5h0.01M405.0 73.0h0.01M410.0 98.5h0.01M418.0 101.0h0.01M428.0 105.0h0.01M436.0 113.0h0.01M441.0 55.0h0.01M448.0 58.0h0.01M455.0 63.0h0.01M462.0 75.0h0.01M466.0 67.0h0.01M472.0 72.0h0.01M477.0 82.0h0.01M486.0 92.0h0.01M493.0 93.5h0.01M500.0 91.5h0.01M505.0 90.5h0.01M510.0 93.0h0.01M515.0 98.0h0.01M520.0 102.0h0.01M525.0 106.0h0.01M530.0 114.0h0.01M540.0 120.0h0.01M550.0 122.0h0.01M560.0 124.0h0.01M565.0 126.0h0.01M575.0 130.5h0.01M585.0 137.0h0.01M595.0 141.0h0.01M602.0 141.0h0.01M610.0 148.0h0.01M616.0 155.0h0.01M620.0 163.0h0.01M628.0 168.0h0.01M636.0 168.0h0.01M234.5 100.8h0.01M251.5 99.5h0.01M258.5 96.0h0.01M286.0 41.5h0.01M301.5 25.0h0.01M310.0 22.8h0.01M320.0 20.5h0.01M325.0 19.5h0.01M335.0 17.8h0.01M340.0 17.2h0.01M350.0 16.3h0.01M355.0 16.2h0.01M364.7 16.0h0.01M369.3 16.0h0.01M393.5 42.5h0.01M414.0 99.8h0.01M423.0 103.0h0.01M432.0 109.0h0.01M444.5 56.5h0.01M451.5 60.5h0.01M458.5 69.0h0.01M481.5 87.0h0.01M489.5 92.8h0.01M496.5 92.5h0.01M535.0 117.0h0.01M545.0 121.0h0.01M555.0 123.0h0.01M570.0 128.2h0.01M580.0 133.8h0.01M590.0 139.0h0.01M598.5 141.0h0.01M606.0 144.5h0.01M624.0 165.5h0.01M632.0 168.0h0.01" stroke="#00ff00" stroke-width="3.4" stroke-linecap="round" fill="none"/>
<polyline points="127,233 135,232 140,194 144,199 149,226 154,260 160,254 164,277 170,274 175,260 180,280 185,295 190,267 195,264 200,252 206,253 210,244 215,250 222,252 230,249 240,248 250,246 258,243 263,240 267,231 272,218 277,196 282,182 288,177 293,158 297,117 305,109 312,105 320,102 328,101 333,93 345,85 353,80 360,80 368,75 374,69 378,85 380,87 390,97 400,101 405,130 409,153 418,158 425,162 430,167 436,170 441,123.5 448,130 455,135 461,143 467,138 473,145 480,155 487,165 500,165 508,170 515,178 523,182 530,190 537,196 545,198 555,199 565,202 575,208 585,217 592,219.5 602,221.5 610,225 617,231 622,238.5 630,242.5 636,244" fill="none" stroke="#66ff00" stroke-width="0.9"/>
<path d="M122.0 233.0h10.0M127.0 228.0v10.0M123.3 229.3l7.4 7.4M123.3 236.7l7.4 -7.4M130.0 232.0h10.0M135.0 227.0v10.0M131.3 228.3l7.4 7.4M131.3 235.7l7.4 -7.4M135.0 194.0h10.0M140.0 189.0v10.0M136.3 190.3l7.4 7.4M136.3 197.7l7.4 -7.4M139.0 199.0h10.0M144.0 194.0v10.0M140.3 195.3l7.4 7.4M140.3 202.7l7.4 -7.4M144.0 226.0h10.0M149.0 221.0v10.0M145.3 222.3l7.4 7.4M145.3 229.7l7.4 -7.4M149.0 260.0h10.0M154.0 255.0v10.0M150.3 256.3l7.4 7.4M150.3 263.7l7.4 -7.4M155.0 254.0h10.0M160.0 249.0v10.0M156.3 250.3l7.4 7.4M156.3 257.7l7.4 -7.4M159.0 277.0h10.0M164.0 272.0v10.0M160.3 273.3l7.4 7.4M160.3 280.7l7.4 -7.4M165.0 274.0h10.0M170.0 269.0v10.0M166.3 270.3l7.4 7.4M166.3 277.7l7.4 -7.4M170.0 260.0h10.0M175.0 255.0v10.0M171.3 256.3l7.4 7.4M171.3 263.7l7.4 -7.4M175.0 280.0h10.0M180.0 275.0v10.0M176.3 276.3l7.4 7.4M176.3 283.7l7.4 -7.4M180.0 295.0h10.0M185.0 290.0v10.0M181.3 291.3l7.4 7.4M181.3 298.7l7.4 -7.4M185.0 267.0h10.0M190.0 262.0v10.0M186.3 263.3l7.4 7.4M186.3 270.7l7.4 -7.4M190.0 264.0h10.0M195.0 259.0v10.0M191.3 260.3l7.4 7.4M191.3 267.7l7.4 -7.4M195.0 252.0h10.0M200.0 247.0v10.0M196.3 248.3l7.4 7.4M196.3 255.7l7.4 -7.4M201.0 253.0h10.0M206.0 248.0v10.0M202.3 249.3l7.4 7.4M202.3 256.7l7.4 -7.4M205.0 244.0h10.0M210.0 239.0v10.0M206.3 240.3l7.4 7.4M206.3 247.7l7.4 -7.4M210.0 250.0h10.0M215.0 245.0v10.0M211.3 246.3l7.4 7.4M211.3 253.7l7.4 -7.4M217.0 252.0h10.0M222.0 247.0v10.0M218.3 248.3l7.4 7.4M218.3 255.7l7.4 -7.4M225.0 249.0h10.0M230.0 244.0v10.0M226.3 245.3l7.4 7.4M226.3 252.7l7.4 -7.4M235.0 248.0h10.0M240.0 243.0v10.0M236.3 244.3l7.4 7.4M236.3 251.7l7.4 -7.4M245.0 246.0h10.0M250.0 241.0v10.0M246.3 242.3l7.4 7.4M246.3 249.7l7.4 -7.4M253.0 243.0h10.0M258.0 238.0v10.0M254.3 239.3l7.4 7.4M254.3 246.7l7.4 -7.4M258.0 240.0h10.0M263.0 235.0v10.0M259.3 236.3l7.4 7.4M259.3 243.7l7.4 -7.4M262.0 231.0h10.0M267.0 226.0v10.0M263.3 227.3l7.4 7.4M263.3 234.7l7.4 -7.4M267.0 218.0h10.0M272.0 213.0v10.0M268.3 214.3l7.4 7.4M268.3 221.7l7.4 -7.4M272.0 196.0h10.0M277.0 191.0v10.0M273.3 192.3l7.4 7.4M273.3 199.7l7.4 -7.4M277.0 182.0h10.0M282.0 177.0v10.0M278.3 178.3l7.4 7.4M278.3 185.7l7.4 -7.4M283.0 177.0h10.0M288.0 172.0v10.0M284.3 173.3l7.4 7.4M284.3 180.7l7.4 -7.4M288.0 158.0h10.0M293.0 153.0v10.0M289.3 154.3l7.4 7.4M289.3 161.7l7.4 -7.4M292.0 117.0h10.0M297.0 112.0v10.0M293.3 113.3l7.4 7.4M293.3 120.7l7.4 -7.4M300.0 109.0h10.0M305.0 104.0v10.0M301.3 105.3l7.4 7.4M301.3 112.7l7.4 -7.4M307.0 105.0h10.0M312.0 100.0v10.0M308.3 101.3l7.4 7.4M308.3 108.7l7.4 -7.4M315.0 102.0h10.0M320.0 97.0v10.0M316.3 98.3l7.4 7.4M316.3 105.7l7.4 -7.4M323.0 101.0h10.0M328.0 96.0v10.0M324.3 97.3l7.4 7.4M324.3 104.7l7.4 -7.4M328.0 93.0h10.0M333.0 88.0v10.0M329.3 89.3l7.4 7.4M329.3 96.7l7.4 -7.4M340.0 85.0h10.0M345.0 80.0v10.0M341.3 81.3l7.4 7.4M341.3 88.7l7.4 -7.4M348.0 80.0h10.0M353.0 75.0v10.0M349.3 76.3l7.4 7.4M349.3 83.7l7.4 -7.4M355.0 80.0h10.0M360.0 75.0v10.0M356.3 76.3l7.4 7.4M356.3 83.7l7.4 -7.4M363.0 75.0h10.0M368.0 70.0v10.0M364.3 71.3l7.4 7.4M364.3 78.7l7.4 -7.4M369.0 69.0h10.0M374.0 64.0v10.0M370.3 65.3l7.4 7.4M370.3 72.7l7.4 -7.4M373.0 85.0h10.0M378.0 80.0v10.0M374.3 81.3l7.4 7.4M374.3 88.7l7.4 -7.4M375.0 87.0h10.0M380.0 82.0v10.0M376.3 83.3l7.4 7.4M376.3 90.7l7.4 -7.4M385.0 97.0h10.0M390.0 92.0v10.0M386.3 93.3l7.4 7.4M386.3 100.7l7.4 -7.4M395.0 101.0h10.0M400.0 96.0v10.0M396.3 97.3l7.4 7.4M396.3 104.7l7.4 -7.4M400.0 130.0h10.0M405.0 125.0v10.0M401.3 126.3l7.4 7.4M401.3 133.7l7.4 -7.4M404.0 153.0h10.0M409.0 148.0v10.0M405.3 149.3l7.4 7.4M405.3 156.7l7.4 -7.4M413.0 158.0h10.0M418.0 153.0v10.0M414.3 154.3l7.4 7.4M414.3 161.7l7.4 -7.4M420.0 162.0h10.0M425.0 157.0v10.0M421.3 158.3l7.4 7.4M421.3 165.7l7.4 -7.4M425.0 167.0h10.0M430.0 162.0v10.0M426.3 163.3l7.4 7.4M426.3 170.7l7.4 -7.4M431.0 170.0h10.0M436.0 165.0v10.0M432.3 166.3l7.4 7.4M432.3 173.7l7.4 -7.4M436.0 123.5h10.0M441.0 118.5v10.0M437.3 119.8l7.4 7.4M437.3 127.2l7.4 -7.4M443.0 130.0h10.0M448.0 125.0v10.0M444.3 126.3l7.4 7.4M444.3 133.7l7.4 -7.4M450.0 135.0h10.0M455.0 130.0v10.0M451.3 131.3l7.4 7.4M451.3 138.7l7.4 -7.4M456.0 143.0h10.0M461.0 138.0v10.0M457.3 139.3l7.4 7.4M457.3 146.7l7.4 -7.4M462.0 138.0h10.0M467.0 133.0v10.0M463.3 134.3l7.4 7.4M463.3 141.7l7.4 -7.4M468.0 145.0h10.0M473.0 140.0v10.0M469.3 141.3l7.4 7.4M469.3 148.7l7.4 -7.4M475.0 155.0h10.0M480.0 150.0v10.0M476.3 151.3l7.4 7.4M476.3 158.7l7.4 -7.4M482.0 165.0h10.0M487.0 160.0v10.0M483.3 161.3l7.4 7.4M483.3 168.7l7.4 -7.4M495.0 165.0h10.0M500.0 160.0v10.0M496.3 161.3l7.4 7.4M496.3 168.7l7.4 -7.4M503.0 170.0h10.0M508.0 165.0v10.0M504.3 166.3l7.4 7.4M504.3 173.7l7.4 -7.4M510.0 178.0h10.0M515.0 173.0v10.0M511.3 174.3l7.4 7.4M511.3 181.7l7.4 -7.4M518.0 182.0h10.0M523.0 177.0v10.0M519.3 178.3l7.4 7.4M519.3 185.7l7.4 -7.4M525.0 190.0h10.0M530.0 185.0v10.0M526.3 186.3l7.4 7.4M526.3 193.7l7.4 -7.4M532.0 196.0h10.0M537.0 191.0v10.0M533.3 192.3l7.4 7.4M533.3 199.7l7.4 -7.4M540.0 198.0h10.0M545.0 193.0v10.0M541.3 194.3l7.4 7.4M541.3 201.7l7.4 -7.4M550.0 199.0h10.0M555.0 194.0v10.0M551.3 195.3l7.4 7.4M551.3 202.7l7.4 -7.4M560.0 202.0h10.0M565.0 197.0v10.0M561.3 198.3l7.4 7.4M561.3 205.7l7.4 -7.4M570.0 208.0h10.0M575.0 203.0v10.0M571.3 204.3l7.4 7.4M571.3 211.7l7.4 -7.4M580.0 217.0h10.0M585.0 212.0v10.0M581.3 213.3l7.4 7.4M581.3 220.7l7.4 -7.4M587.0 219.5h10.0M592.0 214.5v10.0M588.3 215.8l7.4 7.4M588.3 223.2l7.4 -7.4M597.0 221.5h10.0M602.0 216.5v10.0M598.3 217.8l7.4 7.4M598.3 225.2l7.4 -7.4M605.0 225.0h10.0M610.0 220.0v10.0M606.3 221.3l7.4 7.4M606.3 228.7l7.4 -7.4M612.0 231.0h10.0M617.0 226.0v10.0M613.3 227.3l7.4 7.4M613.3 234.7l7.4 -7.4M617.0 238.5h10.0M622.0 233.5v10.0M618.3 234.8l7.4 7.4M618.3 242.2l7.4 -7.4M625.0 242.5h10.0M630.0 237.5v10.0M626.3 238.8l7.4 7.4M626.3 246.2l7.4 -7.4M631.0 244.0h10.0M636.0 239.0v10.0M632.3 240.3l7.4 7.4M632.3 247.7l7.4 -7.4M126.0 232.5h10.0M131.0 227.5v10.0M127.3 228.8l7.4 7.4M127.3 236.2l7.4 -7.4M213.5 251.0h10.0M218.5 246.0v10.0M214.8 247.3l7.4 7.4M214.8 254.7l7.4 -7.4M221.0 250.5h10.0M226.0 245.5v10.0M222.3 246.8l7.4 7.4M222.3 254.2l7.4 -7.4M230.0 248.5h10.0M235.0 243.5v10.0M231.3 244.8l7.4 7.4M231.3 252.2l7.4 -7.4M240.0 247.0h10.0M245.0 242.0v10.0M241.3 243.3l7.4 7.4M241.3 250.7l7.4 -7.4M249.0 244.5h10.0M254.0 239.5v10.0M250.3 240.8l7.4 7.4M250.3 248.2l7.4 -7.4M296.0 113.0h10.0M301.0 108.0v10.0M297.3 109.3l7.4 7.4M297.3 116.7l7.4 -7.4M303.5 107.0h10.0M308.5 102.0v10.0M304.8 103.3l7.4 7.4M304.8 110.7l7.4 -7.4M311.0 103.5h10.0M316.0 98.5v10.0M312.3 99.8l7.4 7.4M312.3 107.2l7.4 -7.4M319.0 101.5h10.0M324.0 96.5v10.0M320.3 97.8l7.4 7.4M320.3 105.2l7.4 -7.4M332.0 90.3h10.0M337.0 85.3v10.0M333.3 86.6l7.4 7.4M333.3 94.0l7.4 -7.4M336.0 87.7h10.0M341.0 82.7v10.0M337.3 84.0l7.4 7.4M337.3 91.4l7.4 -7.4M344.0 82.5h10.0M349.0 77.5v10.0M345.3 78.8l7.4 7.4M345.3 86.2l7.4 -7.4M351.5 80.0h10.0M356.5 75.0v10.0M352.8 76.3l7.4 7.4M352.8 83.7l7.4 -7.4M359.0 77.5h10.0M364.0 72.5v10.0M360.3 73.8l7.4 7.4M360.3 81.2l7.4 -7.4M380.0 92.0h10.0M385.0 87.0v10.0M381.3 88.3l7.4 7.4M381.3 95.7l7.4 -7.4M390.0 99.0h10.0M395.0 94.0v10.0M391.3 95.3l7.4 7.4M391.3 102.7l7.4 -7.4M408.5 155.5h10.0M413.5 150.5v10.0M409.8 151.8l7.4 7.4M409.8 159.2l7.4 -7.4M416.5 160.0h10.0M421.5 155.0v10.0M417.8 156.3l7.4 7.4M417.8 163.7l7.4 -7.4M439.5 126.8h10.0M444.5 121.8v10.0M440.8 123.0l7.4 7.4M440.8 130.4l7.4 -7.4M446.5 132.5h10.0M451.5 127.5v10.0M447.8 128.8l7.4 7.4M447.8 136.2l7.4 -7.4M471.5 150.0h10.0M476.5 145.0v10.0M472.8 146.3l7.4 7.4M472.8 153.7l7.4 -7.4M478.5 160.0h10.0M483.5 155.0v10.0M479.8 156.3l7.4 7.4M479.8 163.7l7.4 -7.4M486.3 165.0h10.0M491.3 160.0v10.0M487.6 161.3l7.4 7.4M487.6 168.7l7.4 -7.4M490.7 165.0h10.0M495.7 160.0v10.0M492.0 161.3l7.4 7.4M492.0 168.7l7.4 -7.4M499.0 167.5h10.0M504.0 162.5v10.0M500.3 163.8l7.4 7.4M500.3 171.2l7.4 -7.4M506.5 174.0h10.0M511.5 169.0v10.0M507.8 170.3l7.4 7.4M507.8 177.7l7.4 -7.4M514.0 180.0h10.0M519.0 175.0v10.0M515.3 176.3l7.4 7.4M515.3 183.7l7.4 -7.4M521.5 186.0h10.0M526.5 181.0v10.0M522.8 182.3l7.4 7.4M522.8 189.7l7.4 -7.4M528.5 193.0h10.0M533.5 188.0v10.0M529.8 189.3l7.4 7.4M529.8 196.7l7.4 -7.4M536.0 197.0h10.0M541.0 192.0v10.0M537.3 193.3l7.4 7.4M537.3 200.7l7.4 -7.4M545.0 198.5h10.0M550.0 193.5v10.0M546.3 194.8l7.4 7.4M546.3 202.2l7.4 -7.4M555.0 200.5h10.0M560.0 195.5v10.0M556.3 196.8l7.4 7.4M556.3 204.2l7.4 -7.4M565.0 205.0h10.0M570.0 200.0v10.0M566.3 201.3l7.4 7.4M566.3 208.7l7.4 -7.4M575.0 212.5h10.0M580.0 207.5v10.0M576.3 208.8l7.4 7.4M576.3 216.2l7.4 -7.4M583.5 218.2h10.0M588.5 213.2v10.0M584.8 214.6l7.4 7.4M584.8 221.9l7.4 -7.4M592.0 220.5h10.0M597.0 215.5v10.0M593.3 216.8l7.4 7.4M593.3 224.2l7.4 -7.4M601.0 223.2h10.0M606.0 218.2v10.0M602.3 219.6l7.4 7.4M602.3 226.9l7.4 -7.4M608.5 228.0h10.0M613.5 223.0v10.0M609.8 224.3l7.4 7.4M609.8 231.7l7.4 -7.4M621.0 240.5h10.0M626.0 235.5v10.0M622.3 236.8l7.4 7.4M622.3 244.2l7.4 -7.4" stroke="#66ff00" stroke-width="1.3" fill="none"/>
<path d="M127.0 233.0h0.01M135.0 232.0h0.01M140.0 194.0h0.01M144.0 199.0h0.01M149.0 226.0h0.01M154.0 260.0h0.01M160.0 254.0h0.01M164.0 277.0h0.01M170.0 274.0h0.01M175.0 260.0h0.01M180.0 280.0h0.01M185.0 295.0h0.01M190.0 267.0h0.01M195.0 264.0h0.01M200.0 252.0h0.01M206.0 253.0h0.01M210.0 244.0h0.01M215.0 250.0h0.01M222.0 252.0h0.01M230.0 249.0h0.01M240.0 248.0h0.01M250.0 246.0h0.01M258.0 243.0h0.01M263.0 240.0h0.01M267.0 231.0h0.01M272.0 218.0h0.01M277.0 196.0h0.01M282.0 182.0h0.01M288.0 177.0h0.01M293.0 158.0h0.01M297.0 117.0h0.01M305.0 109.0h0.01M312.0 105.0h0.01M320.0 102.0h0.01M328.0 101.0h0.01M333.0 93.0h0.01M345.0 85.0h0.01M353.0 80.0h0.01M360.0 80.0h0.01M368.0 75.0h0.01M374.0 69.0h0.01M378.0 85.0h0.01M380.0 87.0h0.01M390.0 97.0h0.01M400.0 101.0h0.01M405.0 130.0h0.01M409.0 153.0h0.01M418.0 158.0h0.01M425.0 162.0h0.01M430.0 167.0h0.01M436.0 170.0h0.01M441.0 123.5h0.01M448.0 130.0h0.01M455.0 135.0h0.01M461.0 143.0h0.01M467.0 138.0h0.01M473.0 145.0h0.01M480.0 155.0h0.01M487.0 165.0h0.01M500.0 165.0h0.01M508.0 170.0h0.01M515.0 178.0h0.01M523.0 182.0h0.01M530.0 190.0h0.01M537.0 196.0h0.01M545.0 198.0h0.01M555.0 199.0h0.01M565.0 202.0h0.01M575.0 208.0h0.01M585.0 217.0h0.01M592.0 219.5h0.01M602.0 221.5h0.01M610.0 225.0h0.01M617.0 231.0h0.01M622.0 238.5h0.01M630.0 242.5h0.01M636.0 244.0h0.01M131.0 232.5h0.01M218.5 251.0h0.01M226.0 250.5h0.01M235.0 248.5h0.01M245.0 247.0h0.01M254.0 244.5h0.01M301.0 113.0h0.01M308.5 107.0h0.01M316.0 103.5h0.01M324.0 101.5h0.01M337.0 90.3h0.01M341.0 87.7h0.01M349.0 82.5h0.01M356.5 80.0h0.01M364.0 77.5h0.01M385.0 92.0h0.01M395.0 99.0h0.01M413.5 155.5h0.01M421.5 160.0h0.01M444.5 126.8h0.01M451.5 132.5h0.01M476.5 150.0h0.01M483.5 160.0h0.01M491.3 165.0h0.01M495.7 165.0h0.01M504.0 167.5h0.01M511.5 174.0h0.01M519.0 180.0h0.01M526.5 186.0h0.01M533.5 193.0h0.01M541.0 197.0h0.01M550.0 198.5h0.01M560.0 200.5h0.01M570.0 205.0h0.01M580.0 212.5h0.01M588.5 218.2h0.01M597.0 220.5h0.01M606.0 223.2h0.01M613.5 228.0h0.01M626.0 240.5h0.01" stroke="#66ff00" stroke-width="3.4" stroke-linecap="round" fill="none"/>
<polyline points="129,346 134,365 139,349 145,355 149,380 155,392 160,393 165,402 170,398 175,394 180,403 185,409 189,394 195,390 200,384 205,386 210,376 215,382 222,384 230,386 235,396 242,398 250,399 258,401 262,400 267,371 272,340 277,302 283,290 288,282 293,264 297,221 302,226 308,222 315,231 322,235 328,240 333,230 340,230 347,232 355,229 362,233 370,227 375,220 378,231 386,234 390,243 395,252 401,253 403,262 405,274 409,288 418,291 428,294 437,302 447,309 455,314 462,323 470,330 477,337 485,343 493,351 500,356 508,358 515,364 525,369 535,374 542,383 550,385 560,386 570,388 580,393 590,396 600,396 610,401 618,407 628,410 636,411" fill="none" stroke="#ccff00" stroke-width="0.9"/>
<path d="M124.0 346.0h10.0M129.0 341.0v10.0M125.3 342.3l7.4 7.4M125.3 349.7l7.4 -7.4M129.0 365.0h10.0M134.0 360.0v10.0M130.3 361.3l7.4 7.4M130.3 368.7l7.4 -7.4M134.0 349.0h10.0M139.0 344.0v10.0M135.3 345.3l7.4 7.4M135.3 352.7l7.4 -7.4M140.0 355.0h10.0M145.0 350.0v10.0M141.3 351.3l7.4 7.4M141.3 358.7l7.4 -7.4M144.0 380.0h10.0M149.0 375.0v10.0M145.3 376.3l7.4 7.4M145.3 383.7l7.4 -7.4M150.0 392.0h10.0M155.0 387.0v10.0M151.3 388.3l7.4 7.4M151.3 395.7l7.4 -7.4M155.0 393.0h10.0M160.0 388.0v10.0M156.3 389.3l7.4 7.4M156.3 396.7l7.4 -7.4M160.0 402.0h10.0M165.0 397.0v10.0M161.3 398.3l7.4 7.4M161.3 405.7l7.4 -7.4M165.0 398.0h10.0M170.0 393.0v10.0M166.3 394.3l7.4 7.4M166.3 401.7l7.4 -7.4M170.0 394.0h10.0M175.0 389.0v10.0M171.3 390.3l7.4 7.4M171.3 397.7l7.4 -7.4M175.0 403.0h10.0M180.0 398.0v10.0M176.3 399.3l7.4 7.4M176.3 406.7l7.4 -7.4M180.0 409.0h10.0M185.0 404.0v10.0M181.3 405.3l7.4 7.4M181.3 412.7l7.4 -7.4M184.0 394.0h10.0M189.0 389.0v10.0M185.3 390.3l7.4 7.4M185.3 397.7l7.4 -7.4M190.0 390.0h10.0M195.0 385.0v10.0M191.3 386.3l7.4 7.4M191.3 393.7l7.4 -7.4M195.0 384.0h10.0M200.0 379.0v10.0M196.3 380.3l7.4 7.4M196.3 387.7l7.4 -7.4M200.0 386.0h10.0M205.0 381.0v10.0M201.3 382.3l7.4 7.4M201.3 389.7l7.4 -7.4M205.0 376.0h10.0M210.0 371.0v10.0M206.3 372.3l7.4 7.4M206.3 379.7l7.4 -7.4M210.0 382.0h10.0M215.0 377.0v10.0M211.3 378.3l7.4 7.4M211.3 385.7l7.4 -7.4M217.0 384.0h10.0M222.0 379.0v10.0M218.3 380.3l7.4 7.4M218.3 387.7l7.4 -7.4M225.0 386.0h10.0M230.0 381.0v10.0M226.3 382.3l7.4 7.4M226.3 389.7l7.4 -7.4M230.0 396.0h10.0M235.0 391.0v10.0M231.3 392.3l7.4 7.4M231.3 399.7l7.4 -7.4M237.0 398.0h10.0M242.0 393.0v10.0M238.3 394.3l7.4 7.4M238.3 401.7l7.4 -7.4M245.0 399.0h10.0M250.0 394.0v10.0M246.3 395.3l7.4 7.4M246.3 402.7l7.4 -7.4M253.0 401.0h10.0M258.0 396.0v10.0M254.3 397.3l7.4 7.4M254.3 404.7l7.4 -7.4M257.0 400.0h10.0M262.0 395.0v10.0M258.3 396.3l7.4 7.4M258.3 403.7l7.4 -7.4M262.0 371.0h10.0M267.0 366.0v10.0M263.3 367.3l7.4 7.4M263.3 374.7l7.4 -7.4M267.0 340.0h10.0M272.0 335.0v10.0M268.3 336.3l7.4 7.4M268.3 343.7l7.4 -7.4M272.0 302.0h10.0M277.0 297.0v10.0M273.3 298.3l7.4 7.4M273.3 305.7l7.4 -7.4M278.0 290.0h10.0M283.0 285.0v10.0M279.3 286.3l7.4 7.4M279.3 293.7l7.4 -7.4M283.0 282.0h10.0M288.0 277.0v10.0M284.3 278.3l7.4 7.4M284.3 285.7l7.4 -7.4M288.0 264.0h10.0M293.0 259.0v10.0M289.3 260.3l7.4 7.4M289.3 267.7l7.4 -7.4M292.0 221.0h10.0M297.0 216.0v10.0M293.3 217.3l7.4 7.4M293.3 224.7l7.4 -7.4M297.0 226.0h10.0M302.0 221.0v10.0M298.3 222.3l7.4 7.4M298.3 229.7l7.4 -7.4M303.0 222.0h10.0M308.0 217.0v10.0M304.3 218.3l7.4 7.4M304.3 225.7l7.4 -7.4M310.0 231.0h10.0M315.0 226.0v10.0M311.3 227.3l7.4 7.4M311.3 234.7l7.4 -7.4M317.0 235.0h10.0M322.0 230.0v10.0M318.3 231.3l7.4 7.4M318.3 238.7l7.4 -7.4M323.0 240.0h10.0M328.0 235.0v10.0M324.3 236.3l7.4 7.4M324.3 243.7l7.4 -7.4M328.0 230.0h10.0M333.0 225.0v10.0M329.3 226.3l7.4 7.4M329.3 233.7l7.4 -7.4M335.0 230.0h10.0M340.0 225.0v10.0M336.3 226.3l7.4 7.4M336.3 233.7l7.4 -7.4M342.0 232.0h10.0M347.0 227.0v10.0M343.3 228.3l7.4 7.4M343.3 235.7l7.4 -7.4M350.0 229.0h10.0M355.0 224.0v10.0M351.3 225.3l7.4 7.4M351.3 232.7l7.4 -7.4M357.0 233.0h10.0M362.0 228.0v10.0M358.3 229.3l7.4 7.4M358.3 236.7l7.4 -7.4M365.0 227.0h10.0M370.0 222.0v10.0M366.3 223.3l7.4 7.4M366.3 230.7l7.4 -7.4M370.0 220.0h10.0M375.0 215.0v10.0M371.3 216.3l7.4 7.4M371.3 223.7l7.4 -7.4M373.0 231.0h10.0M378.0 226.0v10.0M374.3 227.3l7.4 7.4M374.3 234.7l7.4 -7.4M381.0 234.0h10.0M386.0 229.0v10.0M382.3 230.3l7.4 7.4M382.3 237.7l7.4 -7.4M385.0 243.0h10.0M390.0 238.0v10.0M386.3 239.3l7.4 7.4M386.3 246.7l7.4 -7.4M390.0 252.0h10.0M395.0 247.0v10.0M391.3 248.3l7.4 7.4M391.3 255.7l7.4 -7.4M396.0 253.0h10.0M401.0 248.0v10.0M397.3 249.3l7.4 7.4M397.3 256.7l7.4 -7.4M398.0 262.0h10.0M403.0 257.0v10.0M399.3 258.3l7.4 7.4M399.3 265.7l7.4 -7.4M400.0 274.0h10.0M405.0 269.0v10.0M401.3 270.3l7.4 7.4M401.3 277.7l7.4 -7.4M404.0 288.0h10.0M409.0 283.0v10.0M405.3 284.3l7.4 7.4M405.3 291.7l7.4 -7.4M413.0 291.0h10.0M418.0 286.0v10.0M414.3 287.3l7.4 7.4M414.3 294.7l7.4 -7.4M423.0 294.0h10.0M428.0 289.0v10.0M424.3 290.3l7.4 7.4M424.3 297.7l7.4 -7.4M432.0 302.0h10.0M437.0 297.0v10.0M433.3 298.3l7.4 7.4M433.3 305.7l7.4 -7.4M442.0 309.0h10.0M447.0 304.0v10.0M443.3 305.3l7.4 7.4M443.3 312.7l7.4 -7.4M450.0 314.0h10.0M455.0 309.0v10.0M451.3 310.3l7.4 7.4M451.3 317.7l7.4 -7.4M457.0 323.0h10.0M462.0 318.0v10.0M458.3 319.3l7.4 7.4M458.3 326.7l7.4 -7.4M465.0 330.0h10.0M470.0 325.0v10.0M466.3 326.3l7.4 7.4M466.3 333.7l7.4 -7.4M472.0 337.0h10.0M477.0 332.0v10.0M473.3 333.3l7.4 7.4M473.3 340.7l7.4 -7.4M480.0 343.0h10.0M485.0 338.0v10.0M481.3 339.3l7.4 7.4M481.3 346.7l7.4 -7.4M488.0 351.0h10.0M493.0 346.0v10.0M489.3 347.3l7.4 7.4M489.3 354.7l7.4 -7.4M495.0 356.0h10.0M500.0 351.0v10.0M496.3 352.3l7.4 7.4M496.3 359.7l7.4 -7.4M503.0 358.0h10.0M508.0 353.0v10.0M504.3 354.3l7.4 7.4M504.3 361.7l7.4 -7.4M510.0 364.0h10.0M515.0 359.0v10.0M511.3 360.3l7.4 7.4M511.3 367.7l7.4 -7.4M520.0 369.0h10.0M525.0 364.0v10.0M521.3 365.3l7.4 7.4M521.3 372.7l7.4 -7.4M530.0 374.0h10.0M535.0 369.0v10.0M531.3 370.3l7.4 7.4M531.3 377.7l7.4 -7.4M537.0 383.0h10.0M542.0 378.0v10.0M538.3 379.3l7.4 7.4M538.3 386.7l7.4 -7.4M545.0 385.0h10.0M550.0 380.0v10.0M546.3 381.3l7.4 7.4M546.3 388.7l7.4 -7.4M555.0 386.0h10.0M560.0 381.0v10.0M556.3 382.3l7.4 7.4M556.3 389.7l7.4 -7.4M565.0 388.0h10.0M570.0 383.0v10.0M566.3 384.3l7.4 7.4M566.3 391.7l7.4 -7.4M575.0 393.0h10.0M580.0 388.0v10.0M576.3 389.3l7.4 7.4M576.3 396.7l7.4 -7.4M585.0 396.0h10.0M590.0 391.0v10.0M586.3 392.3l7.4 7.4M586.3 399.7l7.4 -7.4M595.0 396.0h10.0M600.0 391.0v10.0M596.3 392.3l7.4 7.4M596.3 399.7l7.4 -7.4M605.0 401.0h10.0M610.0 396.0v10.0M606.3 397.3l7.4 7.4M606.3 404.7l7.4 -7.4M613.0 407.0h10.0M618.0 402.0v10.0M614.3 403.3l7.4 7.4M614.3 410.7l7.4 -7.4M623.0 410.0h10.0M628.0 405.0v10.0M624.3 406.3l7.4 7.4M624.3 413.7l7.4 -7.4M631.0 411.0h10.0M636.0 406.0v10.0M632.3 407.3l7.4 7.4M632.3 414.7l7.4 -7.4M213.5 383.0h10.0M218.5 378.0v10.0M214.8 379.3l7.4 7.4M214.8 386.7l7.4 -7.4M221.0 385.0h10.0M226.0 380.0v10.0M222.3 381.3l7.4 7.4M222.3 388.7l7.4 -7.4M233.5 397.0h10.0M238.5 392.0v10.0M234.8 393.3l7.4 7.4M234.8 400.7l7.4 -7.4M241.0 398.5h10.0M246.0 393.5v10.0M242.3 394.8l7.4 7.4M242.3 402.2l7.4 -7.4M249.0 400.0h10.0M254.0 395.0v10.0M250.3 396.3l7.4 7.4M250.3 403.7l7.4 -7.4M306.5 226.5h10.0M311.5 221.5v10.0M307.8 222.8l7.4 7.4M307.8 230.2l7.4 -7.4M313.5 233.0h10.0M318.5 228.0v10.0M314.8 229.3l7.4 7.4M314.8 236.7l7.4 -7.4M331.5 230.0h10.0M336.5 225.0v10.0M332.8 226.3l7.4 7.4M332.8 233.7l7.4 -7.4M338.5 231.0h10.0M343.5 226.0v10.0M339.8 227.3l7.4 7.4M339.8 234.7l7.4 -7.4M346.0 230.5h10.0M351.0 225.5v10.0M347.3 226.8l7.4 7.4M347.3 234.2l7.4 -7.4M353.5 231.0h10.0M358.5 226.0v10.0M354.8 227.3l7.4 7.4M354.8 234.7l7.4 -7.4M361.0 230.0h10.0M366.0 225.0v10.0M362.3 226.3l7.4 7.4M362.3 233.7l7.4 -7.4M377.0 232.5h10.0M382.0 227.5v10.0M378.3 228.8l7.4 7.4M378.3 236.2l7.4 -7.4M408.5 289.5h10.0M413.5 284.5v10.0M409.8 285.8l7.4 7.4M409.8 293.2l7.4 -7.4M418.0 292.5h10.0M423.0 287.5v10.0M419.3 288.8l7.4 7.4M419.3 296.2l7.4 -7.4M427.5 298.0h10.0M432.5 293.0v10.0M428.8 294.3l7.4 7.4M428.8 301.7l7.4 -7.4M437.0 305.5h10.0M442.0 300.5v10.0M438.3 301.8l7.4 7.4M438.3 309.2l7.4 -7.4M446.0 311.5h10.0M451.0 306.5v10.0M447.3 307.8l7.4 7.4M447.3 315.2l7.4 -7.4M453.5 318.5h10.0M458.5 313.5v10.0M454.8 314.8l7.4 7.4M454.8 322.2l7.4 -7.4M461.0 326.5h10.0M466.0 321.5v10.0M462.3 322.8l7.4 7.4M462.3 330.2l7.4 -7.4M468.5 333.5h10.0M473.5 328.5v10.0M469.8 329.8l7.4 7.4M469.8 337.2l7.4 -7.4M476.0 340.0h10.0M481.0 335.0v10.0M477.3 336.3l7.4 7.4M477.3 343.7l7.4 -7.4M484.0 347.0h10.0M489.0 342.0v10.0M485.3 343.3l7.4 7.4M485.3 350.7l7.4 -7.4M491.5 353.5h10.0M496.5 348.5v10.0M492.8 349.8l7.4 7.4M492.8 357.2l7.4 -7.4M499.0 357.0h10.0M504.0 352.0v10.0M500.3 353.3l7.4 7.4M500.3 360.7l7.4 -7.4M506.5 361.0h10.0M511.5 356.0v10.0M507.8 357.3l7.4 7.4M507.8 364.7l7.4 -7.4M515.0 366.5h10.0M520.0 361.5v10.0M516.3 362.8l7.4 7.4M516.3 370.2l7.4 -7.4M525.0 371.5h10.0M530.0 366.5v10.0M526.3 367.8l7.4 7.4M526.3 375.2l7.4 -7.4M533.5 378.5h10.0M538.5 373.5v10.0M534.8 374.8l7.4 7.4M534.8 382.2l7.4 -7.4M541.0 384.0h10.0M546.0 379.0v10.0M542.3 380.3l7.4 7.4M542.3 387.7l7.4 -7.4M550.0 385.5h10.0M555.0 380.5v10.0M551.3 381.8l7.4 7.4M551.3 389.2l7.4 -7.4M560.0 387.0h10.0M565.0 382.0v10.0M561.3 383.3l7.4 7.4M561.3 390.7l7.4 -7.4M570.0 390.5h10.0M575.0 385.5v10.0M571.3 386.8l7.4 7.4M571.3 394.2l7.4 -7.4M580.0 394.5h10.0M585.0 389.5v10.0M581.3 390.8l7.4 7.4M581.3 398.2l7.4 -7.4M590.0 396.0h10.0M595.0 391.0v10.0M591.3 392.3l7.4 7.4M591.3 399.7l7.4 -7.4M600.0 398.5h10.0M605.0 393.5v10.0M601.3 394.8l7.4 7.4M601.3 402.2l7.4 -7.4M609.0 404.0h10.0M614.0 399.0v10.0M610.3 400.3l7.4 7.4M610.3 407.7l7.4 -7.4M618.0 408.5h10.0M623.0 403.5v10.0M619.3 404.8l7.4 7.4M619.3 412.2l7.4 -7.4M627.0 410.5h10.0M632.0 405.5v10.0M628.3 406.8l7.4 7.4M628.3 414.2l7.4 -7.4" stroke="#ccff00" stroke-width="1.3" fill="none"/>
<path d="M129.0 346.0h0.01M134.0 365.0h0.01M139.0 349.0h0.01M145.0 355.0h0.01M149.0 380.0h0.01M155.0 392.0h0.01M160.0 393.0h0.01M165.0 402.0h0.01M170.0 398.0h0.01M175.0 394.0h0.01M180.0 403.0h0.01M185.0 409.0h0.01M189.0 394.0h0.01M195.0 390.0h0.01M200.0 384.0h0.01M205.0 386.0h0.01M210.0 376.0h0.01M215.0 382.0h0.01M222.0 384.0h0.01M230.0 386.0h0.01M235.0 396.0h0.01M242.0 398.0h0.01M250.0 399.0h0.01M258.0 401.0h0.01M262.0 400.0h0.01M267.0 371.0h0.01M272.0 340.0h0.01M277.0 302.0h0.01M283.0 290.0h0.01M288.0 282.0h0.01M293.0 264.0h0.01M297.0 221.0h0.01M302.0 226.0h0.01M308.0 222.0h0.01M315.0 231.0h0.01M322.0 235.0h0.01M328.0 240.0h0.01M333.0 230.0h0.01M340.0 230.0h0.01M347.0 232.0h0.01M355.0 229.0h0.01M362.0 233.0h0.01M370.0 227.0h0.01M375.0 220.0h0.01M378.0 231.0h0.01M386.0 234.0h0.01M390.0 243.0h0.01M395.0 252.0h0.01M401.0 253.0h0.01M403.0 262.0h0.01M405.0 274.0h0.01M409.0 288.0h0.01M418.0 291.0h0.01M428.0 294.0h0.01M437.0 302.0h0.01M447.0 309.0h0.01M455.0 314.0h0.01M462.0 323.0h0.01M470.0 330.0h0.01M477.0 337.0h0.01M485.0 343.0h0.01M493.0 351.0h0.01M500.0 356.0h0.01M508.0 358.0h0.01M515.0 364.0h0.01M525.0 369.0h0.01M535.0 374.0h0.01M542.0 383.0h0.01M550.0 385.0h0.01M560.0 386.0h0.01M570.0 388.0h0.01M580.0 393.0h0.01M590.0 396.0h0.01M600.0 396.0h0.01M610.0 401.0h0.01M618.0 407.0h0.01M628.0 410.0h0.01M636.0 411.0h0.01M218.5 383.0h0.01M226.0 385.0h0.01M238.5 397.0h0.01M246.0 398.5h0.01M254.0 400.0h0.01M311.5 226.5h0.01M318.5 233.0h0.01M336.5 230.0h0.01M343.5 231.0h0.01M351.0 230.5h0.01M358.5 231.0h0.01M366.0 230.0h0.01M382.0 232.5h0.01M413.5 289.5h0.01M423.0 292.5h0.01M432.5 298.0h0.01M442.0 305.5h0.01M451.0 311.5h0.01M458.5 318.5h0.01M466.0 326.5h0.01M473.5 333.5h0.01M481.0 340.0h0.01M489.0 347.0h0.01M496.5 353.5h0.01M504.0 357.0h0.01M511.5 361.0h0.01M520.0 366.5h0.01M530.0 371.5h0.01M538.5 378.5h0.01M546.0 384.0h0.01M555.0 385.5h0.01M565.0 387.0h0.01M575.0 390.5h0.01M585.0 394.5h0.01M595.0 396.0h0.01M605.0 398.5h0.01M614.0 404.0h0.01M623.0 408.5h0.01M632.0 410.5h0.01" stroke="#ccff00" stroke-width="3.4" stroke-linecap="round" fill="none"/>
<polyline points="128.5,437.5 132,452 138,454 145,460 149,469 155,471 160,474 165,478 170,477 176,478 181,479 185,472 188,457 193,453 199,449 205,455 211,449 217,452 225,452 237,456 245,455 255,456 263,456 267,431 272,409 276,384 283,380 287,373 293,367 297,350 303,357 310,360 320,362 328,364 335,360 345,357 353,354 360,358 366,360 375,352 380,359 386,357 390,364 395,371 401,370 405,382 410,390 420,392 430,393 440,399 448,405 455,408 463,414 470,418 477,422 485,426 493,431 500,432 510,436 520,439 530,442 540,446 555,447 565,448.5 575,450.5 585,452 595,453.2 605,454.4 615,457 625,460.5 636,463" fill="none" stroke="#ffcc00" stroke-width="0.9"/>
<path d="M123.5 437.5h10.0M128.5 432.5v10.0M124.8 433.8l7.4 7.4M124.8 441.2l7.4 -7.4M127.0 452.0h10.0M132.0 447.0v10.0M128.3 448.3l7.4 7.4M128.3 455.7l7.4 -7.4M133.0 454.0h10.0M138.0 449.0v10.0M134.3 450.3l7.4 7.4M134.3 457.7l7.4 -7.4M140.0 460.0h10.0M145.0 455.0v10.0M141.3 456.3l7.4 7.4M141.3 463.7l7.4 -7.4M144.0 469.0h10.0M149.0 464.0v10.0M145.3 465.3l7.4 7.4M145.3 472.7l7.4 -7.4M150.0 471.0h10.0M155.0 466.0v10.0M151.3 467.3l7.4 7.4M151.3 474.7l7.4 -7.4M155.0 474.0h10.0M160.0 469.0v10.0M156.3 470.3l7.4 7.4M156.3 477.7l7.4 -7.4M160.0 478.0h10.0M165.0 473.0v10.0M161.3 474.3l7.4 7.4M161.3 481.7l7.4 -7.4M165.0 477.0h10.0M170.0 472.0v10.0M166.3 473.3l7.4 7.4M166.3 480.7l7.4 -7.4M171.0 478.0h10.0M176.0 473.0v10.0M172.3 474.3l7.4 7.4M172.3 481.7l7.4 -7.4M176.0 479.0h10.0M181.0 474.0v10.0M177.3 475.3l7.4 7.4M177.3 482.7l7.4 -7.4M180.0 472.0h10.0M185.0 467.0v10.0M181.3 468.3l7.4 7.4M181.3 475.7l7.4 -7.4M183.0 457.0h10.0M188.0 452.0v10.0M184.3 453.3l7.4 7.4M184.3 460.7l7.4 -7.4M188.0 453.0h10.0M193.0 448.0v10.0M189.3 449.3l7.4 7.4M189.3 456.7l7.4 -7.4M194.0 449.0h10.0M199.0 444.0v10.0M195.3 445.3l7.4 7.4M195.3 452.7l7.4 -7.4M200.0 455.0h10.0M205.0 450.0v10.0M201.3 451.3l7.4 7.4M201.3 458.7l7.4 -7.4M206.0 449.0h10.0M211.0 444.0v10.0M207.3 445.3l7.4 7.4M207.3 452.7l7.4 -7.4M212.0 452.0h10.0M217.0 447.0v10.0M213.3 448.3l7.4 7.4M213.3 455.7l7.4 -7.4M220.0 452.0h10.0M225.0 447.0v10.0M221.3 448.3l7.4 7.4M221.3 455.7l7.4 -7.4M232.0 456.0h10.0M237.0 451.0v10.0M233.3 452.3l7.4 7.4M233.3 459.7l7.4 -7.4M240.0 455.0h10.0M245.0 450.0v10.0M241.3 451.3l7.4 7.4M241.3 458.7l7.4 -7.4M250.0 456.0h10.0M255.0 451.0v10.0M251.3 452.3l7.4 7.4M251.3 459.7l7.4 -7.4M258.0 456.0h10.0M263.0 451.0v10.0M259.3 452.3l7.4 7.4M259.3 459.7l7.4 -7.4M262.0 431.0h10.0M267.0 426.0v10.0M263.3 427.3l7.4 7.4M263.3 434.7l7.4 -7.4M267.0 409.0h10.0M272.0 404.0v10.0M268.3 405.3l7.4 7.4M268.3 412.7l7.4 -7.4M271.0 384.0h10.0M276.0 379.0v10.0M272.3 380.3l7.4 7.4M272.3 387.7l7.4 -7.4M278.0 380.0h10.0M283.0 375.0v10.0M279.3 376.3l7.4 7.4M279.3 383.7l7.4 -7.4M282.0 373.0h10.0M287.0 368.0v10.0M283.3 369.3l7.4 7.4M283.3 376.7l7.4 -7.4M288.0 367.0h10.0M293.0 362.0v10.0M289.3 363.3l7.4 7.4M289.3 370.7l7.4 -7.4M292.0 350.0h10.0M297.0 345.0v10.0M293.3 346.3l7.4 7.4M293.3 353.7l7.4 -7.4M298.0 357.0h10.0M303.0 352.0v10.0M299.3 353.3l7.4 7.4M299.3 360.7l7.4 -7.4M305.0 360.0h10.0M310.0 355.0v10.0M306.3 356.3l7.4 7.4M306.3 363.7l7.4 -7.4M315.0 362.0h10.0M320.0 357.0v10.0M316.3 358.3l7.4 7.4M316.3 365.7l7.4 -7.4M323.0 364.0h10.0M328.0 359.0v10.0M324.3 360.3l7.4 7.4M324.3 367.7l7.4 -7.4M330.0 360.0h10.0M335.0 355.0v10.0M331.3 356.3l7.4 7.4M331.3 363.7l7.4 -7.4M340.0 357.0h10.0M345.0 352.0v10.0M341.3 353.3l7.4 7.4M341.3 360.7l7.4 -7.4M348.0 354.0h10.0M353.0 349.0v10.0M349.3 350.3l7.4 7.4M349.3 357.7l7.4 -7.4M355.0 358.0h10.0M360.0 353.0v10.0M356.3 354.3l7.4 7.4M356.3 361.7l7.4 -7.4M361.0 360.0h10.0M366.0 355.0v10.0M362.3 356.3l7.4 7.4M362.3 363.7l7.4 -7.4M370.0 352.0h10.0M375.0 347.0v10.0M371.3 348.3l7.4 7.4M371.3 355.7l7.4 -7.4M375.0 359.0h10.0M380.0 354.0v10.0M376.3 355.3l7.4 7.4M376.3 362.7l7.4 -7.4M381.0 357.0h10.0M386.0 352.0v10.0M382.3 353.3l7.4 7.4M382.3 360.7l7.4 -7.4M385.0 364.0h10.0M390.0 359.0v10.0M386.3 360.3l7.4 7.4M386.3 367.7l7.4 -7.4M390.0 371.0h10.0M395.0 366.0v10.0M391.3 367.3l7.4 7.4M391.3 374.7l7.4 -7.4M396.0 370.0h10.0M401.0 365.0v10.0M397.3 366.3l7.4 7.4M397.3 373.7l7.4 -7.4M400.0 382.0h10.0M405.0 377.0v10.0M401.3 378.3l7.4 7.4M401.3 385.7l7.4 -7.4M405.0 390.0h10.0M410.0 385.0v10.0M406.3 386.3l7.4 7.4M406.3 393.7l7.4 -7.4M415.0 392.0h10.0M420.0 387.0v10.0M416.3 388.3l7.4 7.4M416.3 395.7l7.4 -7.4M425.0 393.0h10.0M430.0 388.0v10.0M426.3 389.3l7.4 7.4M426.3 396.7l7.4 -7.4M435.0 399.0h10.0M440.0 394.0v10.0M436.3 395.3l7.4 7.4M436.3 402.7l7.4 -7.4M443.0 405.0h10.0M448.0 400.0v10.0M444.3 401.3l7.4 7.4M444.3 408.7l7.4 -7.4M450.0 408.0h10.0M455.0 403.0v10.0M451.3 404.3l7.4 7.4M451.3 411.7l7.4 -7.4M458.0 414.0h10.0M463.0 409.0v10.0M459.3 410.3l7.4 7.4M459.3 417.7l7.4 -7.4M465.0 418.0h10.0M470.0 413.0v10.0M466.3 414.3l7.4 7.4M466.3 421.7l7.4 -7.4M472.0 422.0h10.0M477.0 417.0v10.0M473.3 418.3l7.4 7.4M473.3 425.7l7.4 -7.4M480.0 426.0h10.0M485.0 421.0v10.0M481.3 422.3l7.4 7.4M481.3 429.7l7.4 -7.4M488.0 431.0h10.0M493.0 426.0v10.0M489.3 427.3l7.4 7.4M489.3 434.7l7.4 -7.4M495.0 432.0h10.0M500.0 427.0v10.0M496.3 428.3l7.4 7.4M496.3 435.7l7.4 -7.4M505.0 436.0h10.0M510.0 431.0v10.0M506.3 432.3l7.4 7.4M506.3 439.7l7.4 -7.4M515.0 439.0h10.0M520.0 434.0v10.0M516.3 435.3l7.4 7.4M516.3 442.7l7.4 -7.4M525.0 442.0h10.0M530.0 437.0v10.0M526.3 438.3l7.4 7.4M526.3 445.7l7.4 -7.4M535.0 446.0h10.0M540.0 441.0v10.0M536.3 442.3l7.4 7.4M536.3 449.7l7.4 -7.4M550.0 447.0h10.0M555.0 442.0v10.0M551.3 443.3l7.4 7.4M551.3 450.7l7.4 -7.4M560.0 448.5h10.0M565.0 443.5v10.0M561.3 444.8l7.4 7.4M561.3 452.2l7.4 -7.4M570.0 450.5h10.0M575.0 445.5v10.0M571.3 446.8l7.4 7.4M571.3 454.2l7.4 -7.4M580.0 452.0h10.0M585.0 447.0v10.0M581.3 448.3l7.4 7.4M581.3 455.7l7.4 -7.4M590.0 453.2h10.0M595.0 448.2v10.0M591.3 449.5l7.4 7.4M591.3 456.9l7.4 -7.4M600.0 454.4h10.0M605.0 449.4v10.0M601.3 450.7l7.4 7.4M601.3 458.1l7.4 -7.4M610.0 457.0h10.0M615.0 452.0v10.0M611.3 453.3l7.4 7.4M611.3 460.7l7.4 -7.4M620.0 460.5h10.0M625.0 455.5v10.0M621.3 456.8l7.4 7.4M621.3 464.2l7.4 -7.4M631.0 463.0h10.0M636.0 458.0v10.0M632.3 459.3l7.4 7.4M632.3 466.7l7.4 -7.4M136.5 457.0h10.0M141.5 452.0v10.0M137.8 453.3l7.4 7.4M137.8 460.7l7.4 -7.4M216.0 452.0h10.0M221.0 447.0v10.0M217.3 448.3l7.4 7.4M217.3 455.7l7.4 -7.4M224.0 453.3h10.0M229.0 448.3v10.0M225.3 449.6l7.4 7.4M225.3 457.0l7.4 -7.4M228.0 454.7h10.0M233.0 449.7v10.0M229.3 451.0l7.4 7.4M229.3 458.4l7.4 -7.4M236.0 455.5h10.0M241.0 450.5v10.0M237.3 451.8l7.4 7.4M237.3 459.2l7.4 -7.4M245.0 455.5h10.0M250.0 450.5v10.0M246.3 451.8l7.4 7.4M246.3 459.2l7.4 -7.4M254.0 456.0h10.0M259.0 451.0v10.0M255.3 452.3l7.4 7.4M255.3 459.7l7.4 -7.4M274.5 382.0h10.0M279.5 377.0v10.0M275.8 378.3l7.4 7.4M275.8 385.7l7.4 -7.4M301.5 358.5h10.0M306.5 353.5v10.0M302.8 354.8l7.4 7.4M302.8 362.2l7.4 -7.4M310.0 361.0h10.0M315.0 356.0v10.0M311.3 357.3l7.4 7.4M311.3 364.7l7.4 -7.4M319.0 363.0h10.0M324.0 358.0v10.0M320.3 359.3l7.4 7.4M320.3 366.7l7.4 -7.4M326.5 362.0h10.0M331.5 357.0v10.0M327.8 358.3l7.4 7.4M327.8 365.7l7.4 -7.4M335.0 358.5h10.0M340.0 353.5v10.0M336.3 354.8l7.4 7.4M336.3 362.2l7.4 -7.4M344.0 355.5h10.0M349.0 350.5v10.0M345.3 351.8l7.4 7.4M345.3 359.2l7.4 -7.4M351.5 356.0h10.0M356.5 351.0v10.0M352.8 352.3l7.4 7.4M352.8 359.7l7.4 -7.4M365.5 356.0h10.0M370.5 351.0v10.0M366.8 352.3l7.4 7.4M366.8 359.7l7.4 -7.4M410.0 391.0h10.0M415.0 386.0v10.0M411.3 387.3l7.4 7.4M411.3 394.7l7.4 -7.4M420.0 392.5h10.0M425.0 387.5v10.0M421.3 388.8l7.4 7.4M421.3 396.2l7.4 -7.4M430.0 396.0h10.0M435.0 391.0v10.0M431.3 392.3l7.4 7.4M431.3 399.7l7.4 -7.4M439.0 402.0h10.0M444.0 397.0v10.0M440.3 398.3l7.4 7.4M440.3 405.7l7.4 -7.4M446.5 406.5h10.0M451.5 401.5v10.0M447.8 402.8l7.4 7.4M447.8 410.2l7.4 -7.4M454.0 411.0h10.0M459.0 406.0v10.0M455.3 407.3l7.4 7.4M455.3 414.7l7.4 -7.4M461.5 416.0h10.0M466.5 411.0v10.0M462.8 412.3l7.4 7.4M462.8 419.7l7.4 -7.4M468.5 420.0h10.0M473.5 415.0v10.0M469.8 416.3l7.4 7.4M469.8 423.7l7.4 -7.4M476.0 424.0h10.0M481.0 419.0v10.0M477.3 420.3l7.4 7.4M477.3 427.7l7.4 -7.4M484.0 428.5h10.0M489.0 423.5v10.0M485.3 424.8l7.4 7.4M485.3 432.2l7.4 -7.4M491.5 431.5h10.0M496.5 426.5v10.0M492.8 427.8l7.4 7.4M492.8 435.2l7.4 -7.4M500.0 434.0h10.0M505.0 429.0v10.0M501.3 430.3l7.4 7.4M501.3 437.7l7.4 -7.4M510.0 437.5h10.0M515.0 432.5v10.0M511.3 433.8l7.4 7.4M511.3 441.2l7.4 -7.4M520.0 440.5h10.0M525.0 435.5v10.0M521.3 436.8l7.4 7.4M521.3 444.2l7.4 -7.4M530.0 444.0h10.0M535.0 439.0v10.0M531.3 440.3l7.4 7.4M531.3 447.7l7.4 -7.4M540.0 446.3h10.0M545.0 441.3v10.0M541.3 442.6l7.4 7.4M541.3 450.0l7.4 -7.4M545.0 446.7h10.0M550.0 441.7v10.0M546.3 443.0l7.4 7.4M546.3 450.4l7.4 -7.4M555.0 447.8h10.0M560.0 442.8v10.0M556.3 444.1l7.4 7.4M556.3 451.4l7.4 -7.4M565.0 449.5h10.0M570.0 444.5v10.0M566.3 445.8l7.4 7.4M566.3 453.2l7.4 -7.4M575.0 451.2h10.0M580.0 446.2v10.0M576.3 447.6l7.4 7.4M576.3 454.9l7.4 -7.4M585.0 452.6h10.0M590.0 447.6v10.0M586.3 448.9l7.4 7.4M586.3 456.3l7.4 -7.4M595.0 453.8h10.0M600.0 448.8v10.0M596.3 450.1l7.4 7.4M596.3 457.5l7.4 -7.4M605.0 455.7h10.0M610.0 450.7v10.0M606.3 452.0l7.4 7.4M606.3 459.4l7.4 -7.4M615.0 458.8h10.0M620.0 453.8v10.0M616.3 455.1l7.4 7.4M616.3 462.4l7.4 -7.4M623.7 461.3h10.0M628.7 456.3v10.0M625.0 457.6l7.4 7.4M625.0 465.0l7.4 -7.4M627.3 462.2h10.0M632.3 457.2v10.0M628.6 458.5l7.4 7.4M628.6 465.9l7.4 -7.4" stroke="#ffcc00" stroke-width="1.3" fill="none"/>
<path d="M128.5 437.5h0.01M132.0 452.0h0.01M138.0 454.0h0.01M145.0 460.0h0.01M149.0 469.0h0.01M155.0 471.0h0.01M160.0 474.0h0.01M165.0 478.0h0.01M170.0 477.0h0.01M176.0 478.0h0.01M181.0 479.0h0.01M185.0 472.0h0.01M188.0 457.0h0.01M193.0 453.0h0.01M199.0 449.0h0.01M205.0 455.0h0.01M211.0 449.0h0.01M217.0 452.0h0.01M225.0 452.0h0.01M237.0 456.0h0.01M245.0 455.0h0.01M255.0 456.0h0.01M263.0 456.0h0.01M267.0 431.0h0.01M272.0 409.0h0.01M276.0 384.0h0.01M283.0 380.0h0.01M287.0 373.0h0.01M293.0 367.0h0.01M297.0 350.0h0.01M303.0 357.0h0.01M310.0 360.0h0.01M320.0 362.0h0.01M328.0 364.0h0.01M335.0 360.0h0.01M345.0 357.0h0.01M353.0 354.0h0.01M360.0 358.0h0.01M366.0 360.0h0.01M375.0 352.0h0.01M380.0 359.0h0.01M386.0 357.0h0.01M390.0 364.0h0.01M395.0 371.0h0.01M401.0 370.0h0.01M405.0 382.0h0.01M410.0 390.0h0.01M420.0 392.0h0.01M430.0 393.0h0.01M440.0 399.0h0.01M448.0 405.0h0.01M455.0 408.0h0.01M463.0 414.0h0.01M470.0 418.0h0.01M477.0 422.0h0.01M485.0 426.0h0.01M493.0 431.0h0.01M500.0 432.0h0.01M510.0 436.0h0.01M520.0 439.0h0.01M530.0 442.0h0.01M540.0 446.0h0.01M555.0 447.0h0.01M565.0 448.5h0.01M575.0 450.5h0.01M585.0 452.0h0.01M595.0 453.2h0.01M605.0 454.4h0.01M615.0 457.0h0.01M625.0 460.5h0.01M636.0 463.0h0.01M141.5 457.0h0.01M221.0 452.0h0.01M229.0 453.3h0.01M233.0 454.7h0.01M241.0 455.5h0.01M250.0 455.5h0.01M259.0 456.0h0.01M279.5 382.0h0.01M306.5 358.5h0.01M315.0 361.0h0.01M324.0 363.0h0.01M331.5 362.0h0.01M340.0 358.5h0.01M349.0 355.5h0.01M356.5 356.0h0.01M370.5 356.0h0.01M415.0 391.0h0.01M425.0 392.5h0.01M435.0 396.0h0.01M444.0 402.0h0.01M451.5 406.5h0.01M459.0 411.0h0.01M466.5 416.0h0.01M473.5 420.0h0.01M481.0 424.0h0.01M489.0 428.5h0.01M496.5 431.5h0.01M505.0 434.0h0.01M515.0 437.5h0.01M525.0 440.5h0.01M535.0 444.0h0.01M545.0 446.3h0.01M550.0 446.7h0.01M560.0 447.8h0.01M570.0 449.5h0.01M580.0 451.2h0.01M590.0 452.6h0.01M600.0 453.8h0.01M610.0 455.7h0.01M620.0 458.8h0.01M628.7 461.3h0.01M632.3 462.2h0.01" stroke="#ffcc00" stroke-width="3.4" stroke-linecap="round" fill="none"/>
<polyline points="128,495 132,503 140,508 150,512 160,513.5 175,514.5 200,516 230,517 260,517.5 300,518 400,518.5 500,519 636,519" fill="none" stroke="#ff6600" stroke-width="0.9"/>
<path d="M123.0 495.0h10.0M128.0 490.0v10.0M124.3 491.3l7.4 7.4M124.3 498.7l7.4 -7.4M127.0 503.0h10.0M132.0 498.0v10.0M128.3 499.3l7.4 7.4M128.3 506.7l7.4 -7.4M135.0 508.0h10.0M140.0 503.0v10.0M136.3 504.3l7.4 7.4M136.3 511.7l7.4 -7.4M145.0 512.0h10.0M150.0 507.0v10.0M146.3 508.3l7.4 7.4M146.3 515.7l7.4 -7.4M155.0 513.5h10.0M160.0 508.5v10.0M156.3 509.8l7.4 7.4M156.3 517.2l7.4 -7.4M170.0 514.5h10.0M175.0 509.5v10.0M171.3 510.8l7.4 7.4M171.3 518.2l7.4 -7.4M195.0 516.0h10.0M200.0 511.0v10.0M196.3 512.3l7.4 7.4M196.3 519.7l7.4 -7.4M225.0 517.0h10.0M230.0 512.0v10.0M226.3 513.3l7.4 7.4M226.3 520.7l7.4 -7.4M255.0 517.5h10.0M260.0 512.5v10.0M256.3 513.8l7.4 7.4M256.3 521.2l7.4 -7.4M295.0 518.0h10.0M300.0 513.0v10.0M296.3 514.3l7.4 7.4M296.3 521.7l7.4 -7.4M395.0 518.5h10.0M400.0 513.5v10.0M396.3 514.8l7.4 7.4M396.3 522.2l7.4 -7.4M495.0 519.0h10.0M500.0 514.0v10.0M496.3 515.3l7.4 7.4M496.3 522.7l7.4 -7.4M631.0 519.0h10.0M636.0 514.0v10.0M632.3 515.3l7.4 7.4M632.3 522.7l7.4 -7.4M131.0 505.5h10.0M136.0 500.5v10.0M132.3 501.8l7.4 7.4M132.3 509.2l7.4 -7.4M140.0 510.0h10.0M145.0 505.0v10.0M141.3 506.3l7.4 7.4M141.3 513.7l7.4 -7.4M150.0 512.8h10.0M155.0 507.8v10.0M151.3 509.1l7.4 7.4M151.3 516.5l7.4 -7.4M160.0 513.8h10.0M165.0 508.8v10.0M161.3 510.1l7.4 7.4M161.3 517.5l7.4 -7.4M165.0 514.2h10.0M170.0 509.2v10.0M166.3 510.5l7.4 7.4M166.3 517.9l7.4 -7.4M175.0 514.8h10.0M180.0 509.8v10.0M176.3 511.1l7.4 7.4M176.3 518.5l7.4 -7.4M180.0 515.1h10.0M185.0 510.1v10.0M181.3 511.4l7.4 7.4M181.3 518.8l7.4 -7.4M185.0 515.4h10.0M190.0 510.4v10.0M186.3 511.7l7.4 7.4M186.3 519.1l7.4 -7.4M190.0 515.7h10.0M195.0 510.7v10.0M191.3 512.0l7.4 7.4M191.3 519.4l7.4 -7.4M200.0 516.2h10.0M205.0 511.2v10.0M201.3 512.5l7.4 7.4M201.3 519.9l7.4 -7.4M205.0 516.3h10.0M210.0 511.3v10.0M206.3 512.6l7.4 7.4M206.3 520.0l7.4 -7.4M210.0 516.5h10.0M215.0 511.5v10.0M211.3 512.8l7.4 7.4M211.3 520.2l7.4 -7.4M215.0 516.7h10.0M220.0 511.7v10.0M216.3 513.0l7.4 7.4M216.3 520.4l7.4 -7.4M220.0 516.8h10.0M225.0 511.8v10.0M221.3 513.1l7.4 7.4M221.3 520.5l7.4 -7.4M230.0 517.1h10.0M235.0 512.1v10.0M231.3 513.4l7.4 7.4M231.3 520.8l7.4 -7.4M235.0 517.2h10.0M240.0 512.2v10.0M236.3 513.5l7.4 7.4M236.3 520.9l7.4 -7.4M240.0 517.2h10.0M245.0 512.2v10.0M241.3 513.5l7.4 7.4M241.3 521.0l7.4 -7.4M245.0 517.3h10.0M250.0 512.3v10.0M246.3 513.6l7.4 7.4M246.3 521.0l7.4 -7.4M250.0 517.4h10.0M255.0 512.4v10.0M251.3 513.7l7.4 7.4M251.3 521.1l7.4 -7.4M260.0 517.6h10.0M265.0 512.6v10.0M261.3 513.9l7.4 7.4M261.3 521.3l7.4 -7.4M265.0 517.6h10.0M270.0 512.6v10.0M266.3 513.9l7.4 7.4M266.3 521.3l7.4 -7.4M270.0 517.7h10.0M275.0 512.7v10.0M271.3 514.0l7.4 7.4M271.3 521.4l7.4 -7.4M275.0 517.8h10.0M280.0 512.8v10.0M276.3 514.0l7.4 7.4M276.3 521.5l7.4 -7.4M280.0 517.8h10.0M285.0 512.8v10.0M281.3 514.1l7.4 7.4M281.3 521.5l7.4 -7.4M285.0 517.9h10.0M290.0 512.9v10.0M286.3 514.2l7.4 7.4M286.3 521.6l7.4 -7.4M290.0 517.9h10.0M295.0 512.9v10.0M291.3 514.2l7.4 7.4M291.3 521.6l7.4 -7.4M300.0 518.0h10.0M305.0 513.0v10.0M301.3 514.3l7.4 7.4M301.3 521.7l7.4 -7.4M305.0 518.0h10.0M310.0 513.0v10.0M306.3 514.3l7.4 7.4M306.3 521.8l7.4 -7.4M310.0 518.1h10.0M315.0 513.1v10.0M311.3 514.4l7.4 7.4M311.3 521.8l7.4 -7.4M315.0 518.1h10.0M320.0 513.1v10.0M316.3 514.4l7.4 7.4M316.3 521.8l7.4 -7.4M320.0 518.1h10.0M325.0 513.1v10.0M321.3 514.4l7.4 7.4M321.3 521.8l7.4 -7.4M325.0 518.1h10.0M330.0 513.1v10.0M326.3 514.4l7.4 7.4M326.3 521.9l7.4 -7.4M330.0 518.2h10.0M335.0 513.2v10.0M331.3 514.5l7.4 7.4M331.3 521.9l7.4 -7.4M335.0 518.2h10.0M340.0 513.2v10.0M336.3 514.5l7.4 7.4M336.3 521.9l7.4 -7.4M340.0 518.2h10.0M345.0 513.2v10.0M341.3 514.5l7.4 7.4M341.3 521.9l7.4 -7.4M345.0 518.2h10.0M350.0 513.2v10.0M346.3 514.5l7.4 7.4M346.3 522.0l7.4 -7.4M350.0 518.3h10.0M355.0 513.3v10.0M351.3 514.6l7.4 7.4M351.3 522.0l7.4 -7.4M355.0 518.3h10.0M360.0 513.3v10.0M356.3 514.6l7.4 7.4M356.3 522.0l7.4 -7.4M360.0 518.3h10.0M365.0 513.3v10.0M361.3 514.6l7.4 7.4M361.3 522.0l7.4 -7.4M365.0 518.4h10.0M370.0 513.4v10.0M366.3 514.6l7.4 7.4M366.3 522.1l7.4 -7.4M370.0 518.4h10.0M375.0 513.4v10.0M371.3 514.7l7.4 7.4M371.3 522.1l7.4 -7.4M375.0 518.4h10.0M380.0 513.4v10.0M376.3 514.7l7.4 7.4M376.3 522.1l7.4 -7.4M380.0 518.4h10.0M385.0 513.4v10.0M381.3 514.7l7.4 7.4M381.3 522.1l7.4 -7.4M385.0 518.5h10.0M390.0 513.5v10.0M386.3 514.8l7.4 7.4M386.3 522.2l7.4 -7.4M390.0 518.5h10.0M395.0 513.5v10.0M391.3 514.8l7.4 7.4M391.3 522.2l7.4 -7.4M400.0 518.5h10.0M405.0 513.5v10.0M401.3 514.8l7.4 7.4M401.3 522.2l7.4 -7.4M405.0 518.5h10.0M410.0 513.5v10.0M406.3 514.8l7.4 7.4M406.3 522.2l7.4 -7.4M410.0 518.6h10.0M415.0 513.6v10.0M411.3 514.9l7.4 7.4M411.3 522.3l7.4 -7.4M415.0 518.6h10.0M420.0 513.6v10.0M416.3 514.9l7.4 7.4M416.3 522.3l7.4 -7.4M420.0 518.6h10.0M425.0 513.6v10.0M421.3 514.9l7.4 7.4M421.3 522.3l7.4 -7.4M425.0 518.6h10.0M430.0 513.6v10.0M426.3 514.9l7.4 7.4M426.3 522.4l7.4 -7.4M430.0 518.7h10.0M435.0 513.7v10.0M431.3 515.0l7.4 7.4M431.3 522.4l7.4 -7.4M435.0 518.7h10.0M440.0 513.7v10.0M436.3 515.0l7.4 7.4M436.3 522.4l7.4 -7.4M440.0 518.7h10.0M445.0 513.7v10.0M441.3 515.0l7.4 7.4M441.3 522.4l7.4 -7.4M445.0 518.8h10.0M450.0 513.8v10.0M446.3 515.0l7.4 7.4M446.3 522.5l7.4 -7.4M450.0 518.8h10.0M455.0 513.8v10.0M451.3 515.1l7.4 7.4M451.3 522.5l7.4 -7.4M455.0 518.8h10.0M460.0 513.8v10.0M456.3 515.1l7.4 7.4M456.3 522.5l7.4 -7.4M460.0 518.8h10.0M465.0 513.8v10.0M461.3 515.1l7.4 7.4M461.3 522.5l7.4 -7.4M465.0 518.9h10.0M470.0 513.9v10.0M466.3 515.1l7.4 7.4M466.3 522.6l7.4 -7.4M470.0 518.9h10.0M475.0 513.9v10.0M471.3 515.2l7.4 7.4M471.3 522.6l7.4 -7.4M475.0 518.9h10.0M480.0 513.9v10.0M476.3 515.2l7.4 7.4M476.3 522.6l7.4 -7.4M480.0 518.9h10.0M485.0 513.9v10.0M481.3 515.2l7.4 7.4M481.3 522.6l7.4 -7.4M485.0 519.0h10.0M490.0 514.0v10.0M486.3 515.2l7.4 7.4M486.3 522.7l7.4 -7.4M490.0 519.0h10.0M495.0 514.0v10.0M491.3 515.3l7.4 7.4M491.3 522.7l7.4 -7.4M500.0 519.0h10.0M505.0 514.0v10.0M501.3 515.3l7.4 7.4M501.3 522.7l7.4 -7.4M505.1 519.0h10.0M510.1 514.0v10.0M506.4 515.3l7.4 7.4M506.4 522.7l7.4 -7.4M510.1 519.0h10.0M515.1 514.0v10.0M511.4 515.3l7.4 7.4M511.4 522.7l7.4 -7.4M515.1 519.0h10.0M520.1 514.0v10.0M516.4 515.3l7.4 7.4M516.4 522.7l7.4 -7.4M520.2 519.0h10.0M525.2 514.0v10.0M521.5 515.3l7.4 7.4M521.5 522.7l7.4 -7.4M525.2 519.0h10.0M530.2 514.0v10.0M526.5 515.3l7.4 7.4M526.5 522.7l7.4 -7.4M530.3 519.0h10.0M535.3 514.0v10.0M531.6 515.3l7.4 7.4M531.6 522.7l7.4 -7.4M535.3 519.0h10.0M540.3 514.0v10.0M536.6 515.3l7.4 7.4M536.6 522.7l7.4 -7.4M540.3 519.0h10.0M545.3 514.0v10.0M541.6 515.3l7.4 7.4M541.6 522.7l7.4 -7.4M545.4 519.0h10.0M550.4 514.0v10.0M546.7 515.3l7.4 7.4M546.7 522.7l7.4 -7.4M550.4 519.0h10.0M555.4 514.0v10.0M551.7 515.3l7.4 7.4M551.7 522.7l7.4 -7.4M555.4 519.0h10.0M560.4 514.0v10.0M556.7 515.3l7.4 7.4M556.7 522.7l7.4 -7.4M560.5 519.0h10.0M565.5 514.0v10.0M561.8 515.3l7.4 7.4M561.8 522.7l7.4 -7.4M565.5 519.0h10.0M570.5 514.0v10.0M566.8 515.3l7.4 7.4M566.8 522.7l7.4 -7.4M570.6 519.0h10.0M575.6 514.0v10.0M571.9 515.3l7.4 7.4M571.9 522.7l7.4 -7.4M575.6 519.0h10.0M580.6 514.0v10.0M576.9 515.3l7.4 7.4M576.9 522.7l7.4 -7.4M580.6 519.0h10.0M585.6 514.0v10.0M581.9 515.3l7.4 7.4M581.9 522.7l7.4 -7.4M585.7 519.0h10.0M590.7 514.0v10.0M587.0 515.3l7.4 7.4M587.0 522.7l7.4 -7.4M590.7 519.0h10.0M595.7 514.0v10.0M592.0 515.3l7.4 7.4M592.0 522.7l7.4 -7.4M595.7 519.0h10.0M600.7 514.0v10.0M597.0 515.3l7.4 7.4M597.0 522.7l7.4 -7.4M600.8 519.0h10.0M605.8 514.0v10.0M602.1 515.3l7.4 7.4M602.1 522.7l7.4 -7.4M605.8 519.0h10.0M610.8 514.0v10.0M607.1 515.3l7.4 7.4M607.1 522.7l7.4 -7.4M610.9 519.0h10.0M615.9 514.0v10.0M612.2 515.3l7.4 7.4M612.2 522.7l7.4 -7.4M615.9 519.0h10.0M620.9 514.0v10.0M617.2 515.3l7.4 7.4M617.2 522.7l7.4 -7.4M620.9 519.0h10.0M625.9 514.0v10.0M622.2 515.3l7.4 7.4M622.2 522.7l7.4 -7.4M626.0 519.0h10.0M631.0 514.0v10.0M627.3 515.3l7.4 7.4M627.3 522.7l7.4 -7.4" stroke="#ff6600" stroke-width="1.3" fill="none"/>
<path d="M128.0 495.0h0.01M132.0 503.0h0.01M140.0 508.0h0.01M150.0 512.0h0.01M160.0 513.5h0.01M175.0 514.5h0.01M200.0 516.0h0.01M230.0 517.0h0.01M260.0 517.5h0.01M300.0 518.0h0.01M400.0 518.5h0.01M500.0 519.0h0.01M636.0 519.0h0.01M136.0 505.5h0.01M145.0 510.0h0.01M155.0 512.8h0.01M165.0 513.8h0.01M170.0 514.2h0.01M180.0 514.8h0.01M185.0 515.1h0.01M190.0 515.4h0.01M195.0 515.7h0.01M205.0 516.2h0.01M210.0 516.3h0.01M215.0 516.5h0.01M220.0 516.7h0.01M225.0 516.8h0.01M235.0 517.1h0.01M240.0 517.2h0.01M245.0 517.2h0.01M250.0 517.3h0.01M255.0 517.4h0.01M265.0 517.6h0.01M270.0 517.6h0.01M275.0 517.7h0.01M280.0 517.8h0.01M285.0 517.8h0.01M290.0 517.9h0.01M295.0 517.9h0.01M305.0 518.0h0.01M310.0 518.0h0.01M315.0 518.1h0.01M320.0 518.1h0.01M325.0 518.1h0.01M330.0 518.1h0.01M335.0 518.2h0.01M340.0 518.2h0.01M345.0 518.2h0.01M350.0 518.2h0.01M355.0 518.3h0.01M360.0 518.3h0.01M365.0 518.3h0.01M370.0 518.4h0.01M375.0 518.4h0.01M380.0 518.4h0.01M385.0 518.4h0.01M390.0 518.5h0.01M395.0 518.5h0.01M405.0 518.5h0.01M410.0 518.5h0.01M415.0 518.6h0.01M420.0 518.6h0.01M425.0 518.6h0.01M430.0 518.6h0.01M435.0 518.7h0.01M440.0 518.7h0.01M445.0 518.7h0.01M450.0 518.8h0.01M455.0 518.8h0.01M460.0 518.8h0.01M465.0 518.8h0.01M470.0 518.9h0.01M475.0 518.9h0.01M480.0 518.9h0.01M485.0 518.9h0.01M490.0 519.0h0.01M495.0 519.0h0.01M505.0 519.0h0.01M510.1 519.0h0.01M515.1 519.0h0.01M520.1 519.0h0.01M525.2 519.0h0.01M530.2 519.0h0.01M535.3 519.0h0.01M540.3 519.0h0.01M545.3 519.0h0.01M550.4 519.0h0.01M555.4 519.0h0.01M560.4 519.0h0.01M565.5 519.0h0.01M570.5 519.0h0.01M575.6 519.0h0.01M580.6 519.0h0.01M585.6 519.0h0.01M590.7 519.0h0.01M595.7 519.0h0.01M600.7 519.0h0.01M605.8 519.0h0.01M610.8 519.0h0.01M615.9 519.0h0.01M620.9 519.0h0.01M625.9 519.0h0.01M631.0 519.0h0.01" stroke="#ff6600" stroke-width="3.4" stroke-linecap="round" fill="none"/>
</g>
<g font-size="28.5" fill="#333"><text transform="translate(106.8,21.3) scale(0.965,1)" text-anchor="end">100%</text><text transform="translate(107.3,72.1) scale(0.965,1)" text-anchor="end">90%</text><text transform="translate(107.3,122.9) scale(0.965,1)" text-anchor="end">80%</text><text transform="translate(107.3,173.7) scale(0.965,1)" text-anchor="end">70%</text><text transform="translate(107.3,224.5) scale(0.965,1)" text-anchor="end">60%</text><text transform="translate(107.3,275.3) scale(0.965,1)" text-anchor="end">50%</text><text transform="translate(107.3,326.1) scale(0.965,1)" text-anchor="end">40%</text><text transform="translate(107.3,376.9) scale(0.965,1)" text-anchor="end">30%</text><text transform="translate(107.3,427.7) scale(0.965,1)" text-anchor="end">20%</text><text transform="translate(107.3,478.5) scale(0.965,1)" text-anchor="end">10%</text><text transform="translate(110.5,529.3) scale(0.965,1)" text-anchor="end">0%</text><text transform="translate(122.3,555.4) scale(0.965,1)" text-anchor="middle">0</text><text transform="translate(259.75,555.4) scale(0.965,1)" text-anchor="middle">5000</text><text transform="translate(398,555.4) scale(0.965,1)" text-anchor="middle">10000</text><text transform="translate(537.4,555.4) scale(0.965,1)" text-anchor="middle">15000</text></g>
<text transform="translate(230.8,592.6) scale(0.965,1)" font-size="31" fill="#333">Volume (m) [edges]</text>
<text transform="translate(24.1,424.4) rotate(-90) scale(0.973,1)" font-size="31" fill="#333">Mean reachable part</text>
<rect x="651.9" y="110.6" width="121.5" height="310.8" fill="#fff" stroke="#8c8c8c" stroke-width="2"/>
<g filter="url(#bl)">
<line x1="657" y1="123.0" x2="702" y2="123.0" stroke="#ff0000" stroke-width="1.7" stroke-opacity="0.75"/>
<path d="M675.0 123.0h10.0M680.0 118.0v10.0M676.3 119.3l7.4 7.4M676.3 126.7l7.4 -7.4" stroke="#ff0000" stroke-width="1.3"/>
<path d="M680.0 123.0h0.01" stroke="#ff0000" stroke-width="5" stroke-linecap="round"/>
<line x1="657" y1="143.4" x2="702" y2="143.4" stroke="#ff0066" stroke-width="1.7" stroke-opacity="0.75"/>
<path d="M675.0 143.4h10.0M680.0 138.4v10.0M676.3 139.7l7.4 7.4M676.3 147.1l7.4 -7.4" stroke="#ff0066" stroke-width="1.3"/>
<path d="M680.0 143.4h0.01" stroke="#ff0066" stroke-width="5" stroke-linecap="round"/>
<line x1="657" y1="163.8" x2="702" y2="163.8" stroke="#ff00cc" stroke-width="1.7" stroke-opacity="0.75"/>
<path d="M675.0 163.8h10.0M680.0 158.8v10.0M676.3 160.1l7.4 7.4M676.3 167.5l7.4 -7.4" stroke="#ff00cc" stroke-width="1.3"/>
<path d="M680.0 163.8h0.01" stroke="#ff00cc" stroke-width="5" stroke-linecap="round"/>
<line x1="657" y1="184.2" x2="702" y2="184.2" stroke="#cc00ff" stroke-width="1.7" stroke-opacity="0.75"/>
<path d="M675.0 184.2h10.0M680.0 179.2v10.0M676.3 180.5l7.4 7.4M676.3 187.9l7.4 -7.4" stroke="#cc00ff" stroke-width="1.3"/>
<path d="M680.0 184.2h0.01" stroke="#cc00ff" stroke-width="5" stroke-linecap="round"/>
<line x1="657" y1="204.6" x2="702" y2="204.6" stroke="#6600ff" stroke-width="1.7" stroke-opacity="0.75"/>
<path d="M675.0 204.6h10.0M680.0 199.6v10.0M676.3 200.9l7.4 7.4M676.3 208.3l7.4 -7.4" stroke="#6600ff" stroke-width="1.3"/>
<path d="M680.0 204.6h0.01" stroke="#6600ff" stroke-width="5" stroke-linecap="round"/>
<line x1="657" y1="225.0" x2="702" y2="225.0" stroke="#0000ff" stroke-width="1.7" stroke-opacity="0.75"/>
<path d="M675.0 225.0h10.0M680.0 220.0v10.0M676.3 221.3l7.4 7.4M676.3 228.7l7.4 -7.4" stroke="#0000ff" stroke-width="1.3"/>
<path d="M680.0 225.0h0.01" stroke="#0000ff" stroke-width="5" stroke-linecap="round"/>
<line x1="657" y1="245.4" x2="702" y2="245.4" stroke="#0066ff" stroke-width="1.7" stroke-opacity="0.75"/>
<path d="M675.0 245.4h10.0M680.0 240.4v10.0M676.3 241.7l7.4 7.4M676.3 249.1l7.4 -7.4" stroke="#0066ff" stroke-width="1.3"/>
<path d="M680.0 245.4h0.01" stroke="#0066ff" stroke-width="5" stroke-linecap="round"/>
<line x1="657" y1="265.8" x2="702" y2="265.8" stroke="#00ccff" stroke-width="1.7" stroke-opacity="0.75"/>
<path d="M675.0 265.8h10.0M680.0 260.8v10.0M676.3 262.1l7.4 7.4M676.3 269.5l7.4 -7.4" stroke="#00ccff" stroke-width="1.3"/>
<path d="M680.0 265.8h0.01" stroke="#00ccff" stroke-width="5" stroke-linecap="round"/>
<line x1="657" y1="286.2" x2="702" y2="286.2" stroke="#00ffcc" stroke-width="1.7" stroke-opacity="0.75"/>
<path d="M675.0 286.2h10.0M680.0 281.2v10.0M676.3 282.5l7.4 7.4M676.3 289.9l7.4 -7.4" stroke="#00ffcc" stroke-width="1.3"/>
<path d="M680.0 286.2h0.01" stroke="#00ffcc" stroke-width="5" stroke-linecap="round"/>
<line x1="657" y1="306.6" x2="702" y2="306.6" stroke="#00ff66" stroke-width="1.7" stroke-opacity="0.75"/>
<path d="M675.0 306.6h10.0M680.0 301.6v10.0M676.3 302.9l7.4 7.4M676.3 310.3l7.4 -7.4" stroke="#00ff66" stroke-width="1.3"/>
<path d="M680.0 306.6h0.01" stroke="#00ff66" stroke-width="5" stroke-linecap="round"/>
<line x1="657" y1="327.0" x2="702" y2="327.0" stroke="#00ff00" stroke-width="1.7" stroke-opacity="0.75"/>
<path d="M675.0 327.0h10.0M680.0 322.0v10.0M676.3 323.3l7.4 7.4M676.3 330.7l7.4 -7.4" stroke="#00ff00" stroke-width="1.3"/>
<path d="M680.0 327.0h0.01" stroke="#00ff00" stroke-width="5" stroke-linecap="round"/>
<line x1="657" y1="347.4" x2="702" y2="347.4" stroke="#66ff00" stroke-width="1.7" stroke-opacity="0.75"/>
<path d="M675.0 347.4h10.0M680.0 342.4v10.0M676.3 343.7l7.4 7.4M676.3 351.1l7.4 -7.4" stroke="#66ff00" stroke-width="1.3"/>
<path d="M680.0 347.4h0.01" stroke="#66ff00" stroke-width="5" stroke-linecap="round"/>
<line x1="657" y1="367.8" x2="702" y2="367.8" stroke="#ccff00" stroke-width="1.7" stroke-opacity="0.75"/>
<path d="M675.0 367.8h10.0M680.0 362.8v10.0M676.3 364.1l7.4 7.4M676.3 371.5l7.4 -7.4" stroke="#ccff00" stroke-width="1.3"/>
<path d="M680.0 367.8h0.01" stroke="#ccff00" stroke-width="5" stroke-linecap="round"/>
<line x1="657" y1="388.2" x2="702" y2="388.2" stroke="#ffcc00" stroke-width="1.7" stroke-opacity="0.75"/>
<path d="M675.0 388.2h10.0M680.0 383.2v10.0M676.3 384.5l7.4 7.4M676.3 391.9l7.4 -7.4" stroke="#ffcc00" stroke-width="1.3"/>
<path d="M680.0 388.2h0.01" stroke="#ffcc00" stroke-width="5" stroke-linecap="round"/>
<line x1="657" y1="408.6" x2="702" y2="408.6" stroke="#ff6600" stroke-width="1.7" stroke-opacity="0.75"/>
<path d="M675.0 408.6h10.0M680.0 403.6v10.0M676.3 404.9l7.4 7.4M676.3 412.3l7.4 -7.4" stroke="#ff6600" stroke-width="1.3"/>
<path d="M680.0 408.6h0.01" stroke="#ff6600" stroke-width="5" stroke-linecap="round"/>
</g>
<text x="706.3" y="128.9" font-size="15" fill="#333" stroke="#333" stroke-width="0.35">15 hops</text>
<text x="706.3" y="149.3" font-size="15" fill="#333" stroke="#333" stroke-width="0.35">14 hops</text>
<text x="706.3" y="169.7" font-size="15" fill="#333" stroke="#333" stroke-width="0.35">13 hops</text>
<text x="706.3" y="190.1" font-size="15" fill="#333" stroke="#333" stroke-width="0.35">12 hops</text>
<text x="706.3" y="210.5" font-size="15" fill="#333" stroke="#333" stroke-width="0.35">11 hops</text>
<text x="706.3" y="230.9" font-size="15" fill="#333" stroke="#333" stroke-width="0.35">10 hops</text>
<text x="706.3" y="251.3" font-size="15" fill="#333" stroke="#333" stroke-width="0.35">9 hops</text>
<text x="706.3" y="271.7" font-size="15" fill="#333" stroke="#333" stroke-width="0.35">8 hops</text>
<text x="706.3" y="292.1" font-size="15" fill="#333" stroke="#333" stroke-width="0.35">7 hops</text>
<text x="706.3" y="312.5" font-size="15" fill="#333" stroke="#333" stroke-width="0.35">6 hops</text>
<text x="706.3" y="332.9" font-size="15" fill="#333" stroke="#333" stroke-width="0.35">5 hops</text>
<text x="706.3" y="353.3" font-size="15" fill="#333" stroke="#333" stroke-width="0.35">4 hops</text>
<text x="706.3" y="373.7" font-size="15" fill="#333" stroke="#333" stroke-width="0.35">3 hops</text>
<text x="706.3" y="394.1" font-size="15" fill="#333" stroke="#333" stroke-width="0.35">2 hops</text>
<text x="706.3" y="414.5" font-size="15" fill="#333" stroke="#333" stroke-width="0.35">1 hops</text>
</svg>
</body></html>
